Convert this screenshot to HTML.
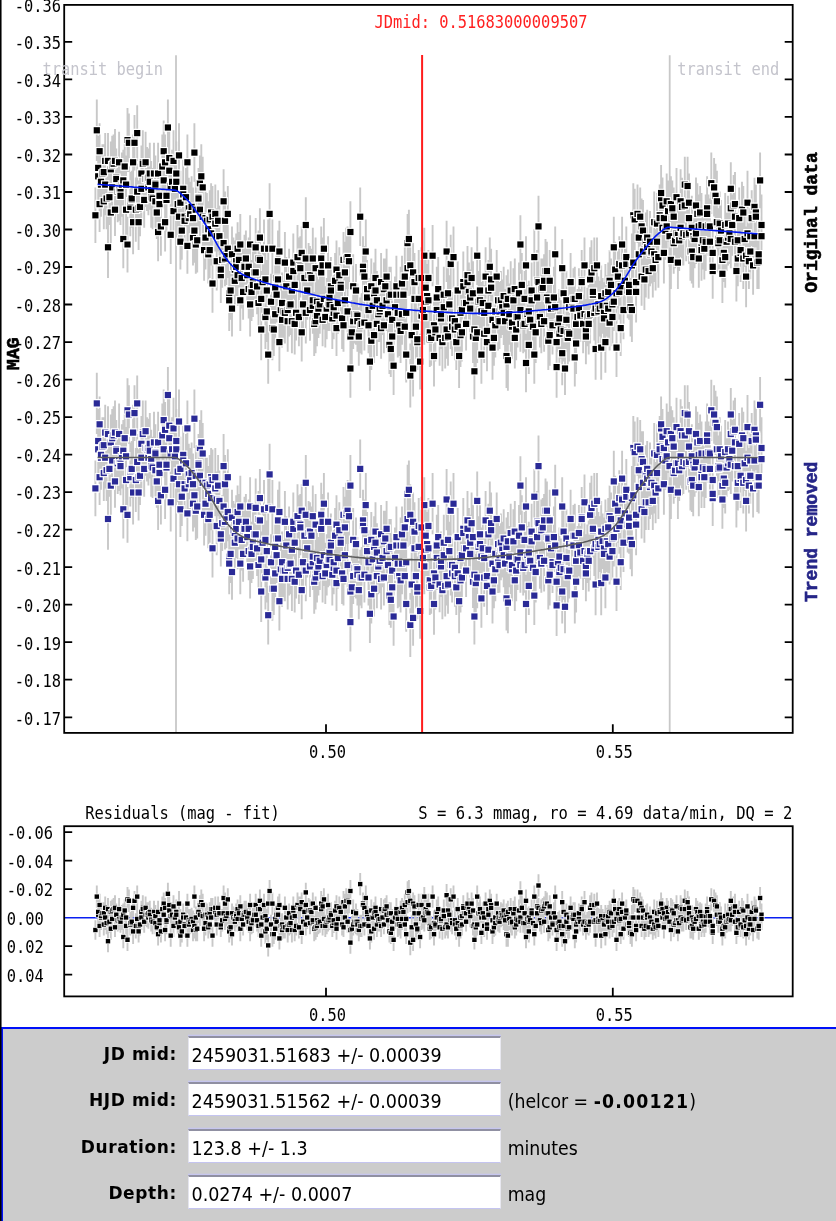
<!DOCTYPE html><html><head><meta charset="utf-8"><style>*{margin:0;padding:0;box-sizing:border-box}
html,body{width:836px;height:1221px;overflow:hidden;background:#fff}
body{position:relative}
#lline{position:absolute;left:0;top:0;width:1px;height:1221px;background:#000;box-shadow:1px 0 0 rgba(0,0,0,.55)}
#panel{position:absolute;left:1px;top:1026.7px;width:835px;height:200px;background:#ccc;border-top:2.3px solid #0010f8;border-left:2px solid #0010f8}
.lb{position:absolute;right:659.2px;height:20px;line-height:20px;font:bold 17px "DejaVu Sans",sans-serif;letter-spacing:0.6px;color:#000;white-space:nowrap}
.in{position:absolute;left:187.7px;width:313.5px;height:33.5px;background:#fff;border-top:2px solid #9090a2;border-left:1px solid #e4e4ee;border-bottom:1.3px solid #c4c4f0;border-right:1px solid #e8e8f0;box-shadow:0 -1.3px 0 #c6c6ee;padding-left:2.8px;padding-top:6.2px;line-height:20px;font:19.5px "DejaVu Sans Condensed",sans-serif;color:#000;white-space:nowrap}
.af{position:absolute;left:507.7px;height:20px;line-height:20px;font:19.25px "DejaVu Sans Condensed",sans-serif;color:#000;white-space:nowrap}
.af b{letter-spacing:1.2px}
</style></head><body><svg width="836" height="1027" viewBox="0 0 836 1027" style="position:absolute;left:0;top:0"><style>.e{stroke:#c8c8c8;stroke-width:1.9;fill:none}.k,.n,.r{stroke:#fff;stroke-width:2.4;paint-order:stroke}.r{stroke-width:1.4}.k,.r{fill:#000}.n{fill:#2a2a96}.t{font-family:"DejaVu Sans Mono",monospace;font-size:15.4px}.b{font-family:"Liberation Mono",monospace;font-size:18px;font-weight:bold;stroke-width:0.6px}</style><path d="M176 55.2V732.9 M669.7 55.2V732.9" stroke="#c8c8c8" stroke-width="1.8"/><g><path class="e" d="M95.4 187.4v55.7M96.8 99.6v61.3M98.2 145.6v61.3M98.2 135.9v64.1M99.6 176.3v55.7M99.6 123.3v55.7M101 152.6v64.1M101 151.2v61.3M102.4 144.2v58.5M103.8 144.2v55.7M103.8 173.5v55.7M105.2 154v61.3M105.2 133.1v55.7M106.6 167.9v61.3M108 216.7v61.3M108 133.1v55.7M109.4 169.3v55.7M110.8 181.8v61.3M110.8 141.4v55.7M112.2 135.8v58.5M112.2 158.1v58.5M113.6 134.5v58.5M115 128.9v64.1M115 183.2v52.9M116.3 148.4v58.5M116.3 149.8v58.5M117.7 160.9v61.3M119.1 131.7v61.3M119.1 159.5v61.3M120.5 160.9v61.3M120.5 166.5v58.5M121.9 152.6v64.1M123.3 149.8v61.3M123.3 209.7v58.5M124.7 137.2v58.5M126.1 155.4v58.5M126.1 179v61.3M127.5 108v64.1M127.5 216.7v55.7M128.9 113.6v58.5M130.3 177.7v58.5M130.3 172.1v58.5M131.7 172.1v55.7M131.7 170.7v55.7M133.1 190.2v64.1M133.1 134.5v55.7M134.5 114.9v55.7M135.8 177.6v64.1M137.2 105.2v55.7M137.2 163.7v55.7M138.6 180.4v55.7M138.6 194.4v55.7M140 177.7v58.5M141.4 156.8v64.1M141.4 145.6v55.7M142.8 130.3v64.1M142.8 134.5v58.5M144.2 172.1v55.7M145.6 151.2v55.7M145.6 131.7v61.3M147 147v64.1M148.4 159.5v55.7M148.4 148.4v58.5M149.8 142.8v61.3M149.8 154v55.7M151.2 160.9v58.5M151.2 166.5v61.3M152.6 167.9v61.3M154 142.8v61.3M155.4 155.4v55.7M155.4 156.8v55.7M155.4 173.5v55.7M156.8 186v52.9M158.1 202.7v58.5M158.1 142.8v61.3M159.5 173.5v61.3M159.5 165.1v61.3M160.9 197.2v58.5M162.3 134.5v64.1M163.7 152.6v55.7M163.7 120.5v61.3M165.1 134.5v55.7M165.1 193v58.5M166.5 167.9v64.1M166.5 167.9v55.7M167.9 99.6v55.7M169.3 127.5v61.3M169.3 140v61.3M170.7 154v64.1M170.7 205.5v58.5M172.1 149.8v64.1M173.5 130.3v61.3M173.5 183.2v55.7M174.9 158.1v61.3M176.3 141.4v64.1M176.3 154v55.7M177.7 173.5v61.3M179 123.3v64.1M179 187.4v58.5M180.4 213.9v55.7M180.4 170.7v64.1M181.8 201.3v58.5M183.2 159.5v58.5M183.2 166.5v55.7M184.6 186v61.3M184.6 191.6v58.5M186 167.9v58.5M187.4 134.5v55.7M187.4 218.1v55.7M188.8 187.4v61.3M188.8 177.7v61.3M190.2 181.8v64.1M191.6 176.3v61.3M193 187.4v61.3M193 209.7v55.7M194.4 123.3v58.5M194.4 198.6v64.1M195.8 215.3v58.5M195.8 179v61.3M197.2 208.3v64.1M198.5 167.9v58.5M198.5 167.9v61.3M199.9 179v61.3M199.9 155.4v55.7M201.3 144.2v64.1M202.7 156.8v61.3M202.7 184.6v64.1M204.1 219.4v61.3M205.5 205.5v64.1M205.5 186v64.1M206.9 193v55.7M208.3 201.3v55.7M208.3 225v58.5M209.7 190.2v58.5M209.7 222.2v55.7M211.1 201.3v64.1M211.1 183.2v58.5M212.5 186v61.3M212.5 254.3v58.5M215.3 195.8v55.7M215.3 184.6v58.5M216.7 208.3v55.7M216.7 232v58.5M218.1 190.2v61.3M219.4 208.3v55.7M219.4 205.5v61.3M220.8 247.3v55.7M220.8 239v61.3M222.2 232v55.7M223.6 212.5v61.3M223.6 169.3v64.1M225 230.6v55.7M225 191.6v58.5M226.4 223.6v61.3M227.8 186v55.7M227.8 219.5v58.5M229.2 264v58.5M229.2 269.6v61.3M230.6 261.2v58.5M232 280.8v55.7M232 226.4v55.7M233.4 237.6v58.5M234.8 252.9v55.7M234.8 240.4v58.5M236.2 233.4v55.7M236.2 237.6v58.5M237.6 222.2v52.9M237.6 244.5v61.3M239 232v55.7M240.3 269.6v61.3M240.3 213.9v61.3M241.7 247.3v61.3M243.1 264v55.7M243.1 240.3v55.7M244.5 234.8v61.3M244.5 240.3v52.9M245.9 230.6v55.7M247.3 243.1v64.1M248.7 237.6v58.5M248.7 259.9v58.5M250.1 215.3v58.5M250.1 272.4v64.1M251.5 259.9v55.7M251.5 262.6v58.5M252.9 251.5v61.3M252.9 252.9v64.1M254.3 244.5v55.7M255.7 218.1v58.5M255.7 240.3v64.1M257.1 258.5v55.7M258.5 273.8v58.5M258.5 230.6v55.7M259.9 208.3v58.5M259.9 230.6v58.5M261.2 271v55.7M261.2 298.9v61.3M262.6 250.1v64.1M264 219.5v58.5M265.4 284.9v64.1M265.4 248.7v61.3M266.8 280.8v61.3M266.8 259.9v61.3M268.2 325.3v58.5M268.2 219.5v58.5M269.6 183.2v61.3M271 273.8v55.7M272.4 296.1v64.1M272.4 219.5v58.5M273.8 303v52.9M275.2 284.9v58.5M275.2 258.5v58.5M276.6 266.8v55.7M276.6 250.1v55.7M278 251.5v55.7M278 230.6v61.3M279.4 220.8v61.3M279.4 312.8v58.5M280.8 280.8v58.5M282.1 272.4v61.3M282.1 291.9v55.7M283.5 280.8v61.3M284.9 232v61.3M284.9 282.2v61.3M286.3 257.1v58.5M287.7 280.8v58.5M287.7 290.5v61.3M289.1 275.2v61.3M289.1 248.7v55.7M290.5 273.8v61.3M291.9 289.1v64.1M291.9 258.5v64.1M293.3 243.1v55.7M293.3 233.4v58.5M294.7 293.3v61.3M294.7 257.1v55.7M296.1 284.9v55.7M297.5 225v64.1M298.9 237.6v55.7M298.9 287.7v58.5M300.3 236.2v61.3M300.3 240.3v55.7M301.7 303.1v58.5M301.7 226.4v52.9M303.1 276.6v55.7M304.4 251.5v52.9M305.8 197.2v55.7M305.8 229.2v58.5M305.8 282.2v61.3M307.2 261.2v58.5M308.6 243.1v64.1M310 245.9v58.5M310 279.4v61.3M311.4 248.7v58.5M312.8 278v55.7M312.8 272.4v55.7M312.8 227.8v61.3M314.2 291.9v64.1M315.6 237.6v61.3M315.6 289.1v64.1M317 272.4v58.5M317 284.9v61.3M318.4 279.4v58.5M319.8 275.2v58.5M321.2 226.4v64.1M321.2 241.7v61.3M322.6 293.3v52.9M322.6 237.6v55.7M323.9 268.2v61.3M323.9 218.1v61.3M325.3 286.3v61.3M326.7 278v61.3M328.1 236.2v58.5M328.1 275.2v55.7M329.5 278v52.9M329.5 269.6v55.7M330.9 257.1v58.5M330.9 262.6v55.7M332.3 287.7v61.3M333.7 286.3v52.9M333.7 275.2v64.1M335.1 252.9v55.7M336.5 286.3v58.5M336.5 240.4v58.5M336.5 300.3v55.7M337.9 272.4v61.3M339.3 247.3v55.7M340.7 255.7v58.5M340.7 258.5v58.5M342.1 287.7v61.3M343.5 232v55.7M343.5 298.9v52.9M344.9 241.7v61.3M344.9 271v58.5M346.2 227.8v61.3M347.6 226.4v61.3M347.6 282.1v58.5M349 233.4v55.7M350.4 339.3v58.5M350.4 201.3v61.3M350.4 307.2v58.5M351.8 300.3v64.1M353.2 293.3v55.7M353.2 254.3v64.1M354.6 284.9v58.5M356 264v52.9M356 283.5v61.3M357.4 283.5v64.1M357.4 290.5v61.3M358.8 307.2v58.5M360.2 297.5v55.7M360.2 187.4v58.5M361.6 293.3v61.3M363 236.2v61.3M363 241.7v61.3M364.4 245.9v61.3M364.4 294.7v55.7M365.8 219.4v64.1M367.1 268.2v58.5M367.1 259.9v58.5M368.5 297.5v55.7M368.5 278v64.1M369.9 332.3v58.5M371.3 311.4v58.5M371.3 258.5v55.7M372.7 273.8v64.1M374.1 262.6v61.3M374.1 307.2v55.7M375.5 248.7v58.5M375.5 261.2v58.5M376.9 291.9v64.1M376.9 271v58.5M378.3 286.3v55.7M379.7 280.8v61.3M379.7 279.4v58.5M381.1 252.9v58.5M381.1 297.5v61.3M382.5 276.6v58.5M383.9 297.5v55.7M383.9 258.5v61.3M385.3 258.5v55.7M386.6 269.6v61.3M386.6 248.7v55.7M388 282.1v64.1M389.4 315.6v58.5M389.4 266.8v58.5M390.8 266.8v55.7M390.8 321.2v55.7M392.2 307.2v58.5M392.2 287.7v64.1M393.6 336.5v58.5M395 276.6v61.3M396.4 255.7v61.3M396.4 265.4v58.5M397.8 282.2v61.3M397.8 293.3v64.1M399.2 294.7v61.3M400.6 266.8v55.7M400.6 298.9v64.1M402 283.5v61.3M402 255.7v55.7M403.4 264v61.3M404.8 296.1v61.3M404.8 245.9v61.3M406.2 280.8v64.1M406.2 326.7v55.7M407.6 240.3v55.7M407.6 213.9v58.5M408.9 209.7v58.5M410.3 234.8v61.3M410.3 343.5v64.1M411.7 303v64.1M413.1 340.7v55.7M413.1 243.1v58.5M414.5 271v55.7M414.5 252.9v58.5M415.9 294.7v64.1M417.3 314.2v55.7M417.3 308.6v61.3M418.7 269.6v58.5M418.7 250.1v55.7M420.1 333.7v55.7M421.5 247.3v61.3M421.5 287.7v55.7M422.9 279.4v61.3M424.3 289.1v55.7M424.3 227.8v55.7M425.7 258.5v58.5M425.7 273.8v55.7M427.1 264v64.1M428.4 250.1v55.7M428.4 271v58.5M429.8 303.1v58.5M429.8 311.4v55.7M431.2 310v55.7M432.6 225v61.3M434 325.3v61.3M434 293.3v64.1M435.4 303.1v58.5M435.4 300.3v58.5M436.8 266.8v61.3M436.8 278v64.1M438.2 257.1v64.1M439.6 310v55.7M439.6 287.7v58.5M441 287.7v61.3M441 284.9v58.5M442.4 312.8v58.5M443.8 266.8v55.7M443.8 276.6v61.3M445.2 307.2v61.3M446.6 220.8v61.3M446.6 300.3v58.5M448 307.2v58.5M448 261.2v64.1M449.3 275.2v58.5M450.7 234.8v58.5M450.7 287.7v61.3M452.1 291.9v52.9M452.1 297.5v58.5M453.5 226.4v61.3M454.9 289.1v64.1M454.9 298.9v61.3M456.3 314.2v55.7M457.7 294.7v64.1M457.7 261.2v58.5M459.1 323.9v64.1M460.5 303v64.1M460.5 284.9v55.7M461.9 303.1v58.5M461.9 280.8v58.5M463.3 251.5v61.3M463.3 255.7v61.3M464.7 273.8v58.5M466.1 273.8v58.5M466.1 297.5v52.9M467.5 251.5v61.3M467.5 245.9v58.5M468.9 262.6v58.5M470.2 279.4v58.5M470.2 269.6v55.7M471.6 247.3v61.3M473 310v52.9M473 261.2v64.1M474.4 343.5v55.7M474.4 303v52.9M475.8 308.6v58.5M477.2 301.7v61.3M477.2 226.4v58.5M478.6 271v61.3M480 271v58.5M480 259.9v61.3M481.4 282.1v58.5M481.4 325.3v58.5M482.8 273.8v58.5M484.2 284.9v55.7M484.2 304.4v58.5M485.6 247.3v58.5M487 300.3v61.3M487 312.8v58.5M488.4 278v55.7M488.4 259.9v61.3M489.8 237.6v58.5M491.1 248.7v61.3M491.1 259.9v55.7M492.5 289.1v61.3M492.5 315.6v64.1M493.9 310v55.7M495.3 293.3v64.1M495.3 280.8v61.3M496.7 250.1v52.9M498.1 272.4v55.7M498.1 289.1v61.3M499.5 293.3v55.7M499.5 282.1v58.5M500.9 279.4v58.5M500.9 271v58.5M502.3 279.4v55.7M503.7 266.8v58.5M503.7 280.8v64.1M505.1 289.1v64.1M506.5 275.2v58.5M506.5 323.9v64.1M507.9 269.6v58.5M507.9 329.5v61.3M509.3 283.5v61.3M510.7 293.3v64.1M510.7 261.2v58.5M512 294.7v64.1M512 291.9v61.3M513.4 268.2v64.1M514.8 307.2v61.3M514.8 258.5v61.3M516.2 298.9v61.3M516.2 286.3v61.3M517.6 286.3v61.3M519 262.6v61.3M520.4 282.1v55.7M520.4 215.3v58.5M520.4 296.1v55.7M521.8 252.9v64.1M523.2 297.5v55.7M524.6 296.1v55.7M524.6 271v55.7M526 236.2v58.5M526 333.7v58.5M527.4 284.9v58.5M528.8 280.8v61.3M528.8 289.1v64.1M528.8 315.6v58.5M530.2 291.9v55.7M531.6 262.6v55.7M531.6 268.2v64.1M533 300.3v52.9M534.3 229.2v55.7M534.3 325.3v58.5M535.7 301.7v61.3M537.1 250.1v61.3M537.1 269.6v55.7M538.5 195.8v61.3M538.5 254.3v55.7M539.9 286.3v61.3M541.3 294.7v58.5M541.3 258.5v61.3M542.7 258.5v58.5M544.1 290.5v61.3M544.1 254.3v52.9M545.5 239v64.1M546.9 268.2v58.5M546.9 241.7v58.5M548.3 311.4v58.5M548.3 269.6v61.3M549.7 250.1v61.3M549.7 304.4v61.3M551.1 279.4v58.5M552.5 293.3v61.3M552.5 297.5v55.7M553.9 266.8v61.3M555.2 226.4v55.7M555.2 280.8v52.9M556.6 314.2v55.7M556.6 336.5v61.3M558 293.3v58.5M559.4 289.1v58.5M559.4 301.7v64.1M560.8 300.3v58.5M562.2 239v58.5M562.2 321.2v64.1M563.6 300.3v61.3M563.6 265.4v55.7M565 342.1v52.9M566.4 271v58.5M566.4 287.7v64.1M567.8 307.2v61.3M567.8 303.1v58.5M569.2 305.8v55.7M569.2 279.4v55.7M570.6 252.9v58.5M572 278v58.5M573.4 276.6v64.1M573.4 268.2v61.3M574.8 266.8v64.1M574.8 328.1v58.5M576.1 291.9v64.1M576.1 312.8v61.3M577.5 289.1v55.7M578.9 278v61.3M578.9 268.2v55.7M580.3 289.1v52.9M581.7 250.1v61.3M581.7 252.9v58.5M583.1 294.7v58.5M584.5 286.3v55.7M584.5 237.6v55.7M585.9 298.9v64.1M585.9 308.6v55.7M587.3 287.7v58.5M588.7 284.9v61.3M588.7 293.3v61.3M590.1 284.9v58.5M590.1 247.3v64.1M591.5 240.3v64.1M592.9 266.8v55.7M592.9 262.6v58.5M594.3 237.6v61.3M594.3 284.9v55.7M595.6 318.4v61.3M595.6 280.8v55.7M597 237.6v55.7M598.4 276.6v55.7M598.4 279.4v64.1M599.8 280.8v55.7M601.2 315.6v64.1M601.2 265.4v61.3M602.6 278v55.7M604 282.2v61.3M604 289.1v58.5M605.4 311.4v61.3M605.4 264v58.5M606.8 275.2v61.3M608.2 276.6v64.1M608.2 262.6v58.5M609.6 250.1v61.3M609.6 294.7v55.7M611 258.5v52.9M612.4 287.7v58.5M612.4 273.8v61.3M613.8 272.4v58.5M613.8 216.7v61.3M615.2 241.7v55.7M616.5 318.4v58.5M616.5 262.6v61.3M617.9 244.5v64.1M619.3 236.2v55.7M619.3 264v55.7M620.7 300.3v55.7M620.7 259.9v52.9M622.1 234.8v61.3M622.1 216.7v55.7M623.5 280.8v58.5M624.9 248.7v64.1M626.3 236.2v55.7M626.3 226.4v61.3M627.7 262.6v55.7M629.1 261.2v52.9M629.1 264v55.7M629.1 257.1v55.7M630.5 278v58.5M631.9 233.4v64.1M631.9 278v64.1M633.3 183.2v64.1M633.3 234.8v55.7M634.7 188.8v61.3M636.1 251.5v61.3M636.1 261.2v61.3M637.5 184.6v58.5M638.8 209.7v55.7M638.8 226.4v55.7M640.2 187.4v58.5M641.6 247.3v58.5M641.6 198.5v55.7M643 222.2v58.5M643 199.9v61.3M644.4 248.7v61.3M645.8 241.7v55.7M645.8 212.5v58.5M647.2 219.4v55.7M647.2 209.7v55.7M648.6 243.1v55.7M650 222.2v64.1M650 211.1v61.3M651.4 225v55.7M651.4 219.4v64.1M652.8 239v58.5M654.2 191.6v61.3M654.2 226.4v55.7M655.6 229.2v61.3M657 211.1v61.3M657 193v61.3M658.4 226.4v61.3M659.7 184.6v61.3M659.7 190.2v55.7M661.1 167.9v61.3M661.1 165.1v55.7M662.5 177.6v55.7M662.5 198.6v58.5M663.9 190.2v55.7M663.9 222.2v61.3M665.3 201.3v58.5M666.7 197.2v58.5M666.7 173.5v55.7M668.1 180.4v61.3M669.5 205.5v61.3M670.9 230.6v58.5M670.9 176.3v55.7M672.3 180.4v58.5M672.3 180.4v55.7M673.7 212.5v61.3M673.7 187.4v58.5M675.1 212.5v55.7M676.5 202.7v61.3M676.5 167.9v58.5M677.9 204.1v61.3M677.9 236.2v52.9M679.2 209.7v61.3M680.6 198.6v58.5M680.6 169.3v64.1M682 206.9v58.5M682 177.7v58.5M683.4 201.3v64.1M684.8 173.5v64.1M684.8 156.8v55.7M686.2 208.3v52.9M687.6 156.8v58.5M689 173.5v58.5M689 190.2v55.7M689 202.7v61.3M690.4 222.2v58.5M691.8 219.4v64.1M691.8 195.8v64.1M693.2 206.9v58.5M693.2 226.4v61.3M694.6 209.7v58.5M696 177.6v55.7M696 202.7v61.3M697.4 183.2v61.3M698.8 194.4v64.1M698.8 229.2v58.5M700.1 186v52.9M701.5 216.7v61.3M701.5 193v64.1M701.5 219.4v61.3M702.9 211.1v58.5M704.3 218.1v61.3M705.7 194.4v64.1M705.7 212.5v58.5M707.1 176.3v64.1M707.1 183.2v61.3M708.5 194.4v61.3M709.9 198.5v55.7M709.9 211.1v61.3M711.3 152.6v61.3M712.7 243.1v55.7M712.7 225v55.7M712.7 237.6v58.5M714.1 158.1v58.5M715.5 163.7v64.1M716.9 193v58.5M716.9 170.7v61.3M718.3 208.3v61.3M718.3 213.9v58.5M719.7 191.6v64.1M719.7 211.1v58.5M721 199.9v61.3M722.4 244.5v58.5M722.4 233.4v52.9M723.8 223.6v58.5M725.2 226.4v61.3M725.2 193v64.1M726.6 212.5v58.5M728 209.7v55.7M728 195.8v55.7M729.4 202.7v61.3M730.8 162.3v52.9M730.8 209.7v58.5M730.8 176.3v64.1M732.2 194.4v61.3M733.6 174.9v61.3M735 188.8v55.7M735 213.9v55.7M735 172.1v64.1M736.4 240.3v61.3M737.8 230.6v55.7M737.8 212.5v55.7M739.2 187.4v61.3M740.6 223.6v58.5M740.6 222.2v55.7M742 181.8v55.7M743.3 186v52.9M743.3 227.8v61.3M744.7 211.1v55.7M746.1 245.9v61.3M746.1 226.4v58.5M747.5 170.7v64.1M747.5 201.3v64.1M748.9 233.4v55.7M748.9 223.6v55.7M750.3 223.6v55.7M750.3 208.3v55.7M751.7 190.2v55.7M753.1 236.2v58.5M754.5 206.9v58.5M754.5 177.7v58.5M755.9 184.6v55.7M755.9 186v61.3M757.3 236.2v52.9M758.7 233.4v55.7M758.7 223.6v61.3M760.1 152.6v55.7M761.5 194.4v61.3M761.5 206.9v58.5"/><path class="k" d="M92.3 212.2h6.2v6.2h-6.2z"/><path class="k" d="M93.7 127.2h6.2v6.2h-6.2z"/><path class="k" d="M95.1 173.2h6.2v6.2h-6.2z"/><path class="k" d="M95.1 164.8h6.2v6.2h-6.2z"/><path class="k" d="M96.5 201h6.2v6.2h-6.2z"/><path class="k" d="M96.5 148.1h6.2v6.2h-6.2z"/><path class="k" d="M97.9 181.5h6.2v6.2h-6.2z"/><path class="k" d="M97.9 178.7h6.2v6.2h-6.2z"/><path class="k" d="M99.3 170.4h6.2v6.2h-6.2z"/><path class="k" d="M100.7 169h6.2v6.2h-6.2z"/><path class="k" d="M100.7 198.2h6.2v6.2h-6.2z"/><path class="k" d="M102.1 181.5h6.2v6.2h-6.2z"/><path class="k" d="M102.1 157.8h6.2v6.2h-6.2z"/><path class="k" d="M103.5 195.4h6.2v6.2h-6.2z"/><path class="k" d="M104.9 244.2h6.2v6.2h-6.2z"/><path class="k" d="M104.9 157.8h6.2v6.2h-6.2z"/><path class="k" d="M106.3 194.1h6.2v6.2h-6.2z"/><path class="k" d="M107.7 209.4h6.2v6.2h-6.2z"/><path class="k" d="M107.7 166.2h6.2v6.2h-6.2z"/><path class="k" d="M109.1 162h6.2v6.2h-6.2z"/><path class="k" d="M109.1 184.3h6.2v6.2h-6.2z"/><path class="k" d="M110.5 160.6h6.2v6.2h-6.2z"/><path class="k" d="M111.9 157.8h6.2v6.2h-6.2z"/><path class="k" d="M111.9 206.6h6.2v6.2h-6.2z"/><path class="k" d="M113.2 174.6h6.2v6.2h-6.2z"/><path class="k" d="M113.2 175.9h6.2v6.2h-6.2z"/><path class="k" d="M114.6 188.5h6.2v6.2h-6.2z"/><path class="k" d="M116 159.2h6.2v6.2h-6.2z"/><path class="k" d="M116 187.1h6.2v6.2h-6.2z"/><path class="k" d="M117.4 188.5h6.2v6.2h-6.2z"/><path class="k" d="M117.4 192.7h6.2v6.2h-6.2z"/><path class="k" d="M118.8 181.5h6.2v6.2h-6.2z"/><path class="k" d="M120.2 177.3h6.2v6.2h-6.2z"/><path class="k" d="M120.2 235.9h6.2v6.2h-6.2z"/><path class="k" d="M121.6 163.4h6.2v6.2h-6.2z"/><path class="k" d="M123 181.5h6.2v6.2h-6.2z"/><path class="k" d="M123 206.6h6.2v6.2h-6.2z"/><path class="k" d="M124.4 136.9h6.2v6.2h-6.2z"/><path class="k" d="M124.4 241.4h6.2v6.2h-6.2z"/><path class="k" d="M125.8 139.7h6.2v6.2h-6.2z"/><path class="k" d="M127.2 203.8h6.2v6.2h-6.2z"/><path class="k" d="M127.2 198.2h6.2v6.2h-6.2z"/><path class="k" d="M128.6 196.8h6.2v6.2h-6.2z"/><path class="k" d="M128.6 195.4h6.2v6.2h-6.2z"/><path class="k" d="M130 219.1h6.2v6.2h-6.2z"/><path class="k" d="M130 159.2h6.2v6.2h-6.2z"/><path class="k" d="M131.4 139.7h6.2v6.2h-6.2z"/><path class="k" d="M132.8 206.6h6.2v6.2h-6.2z"/><path class="k" d="M134.1 130h6.2v6.2h-6.2z"/><path class="k" d="M134.1 188.5h6.2v6.2h-6.2z"/><path class="k" d="M135.5 205.2h6.2v6.2h-6.2z"/><path class="k" d="M135.5 219.1h6.2v6.2h-6.2z"/><path class="k" d="M136.9 203.8h6.2v6.2h-6.2z"/><path class="k" d="M138.3 185.7h6.2v6.2h-6.2z"/><path class="k" d="M138.3 170.4h6.2v6.2h-6.2z"/><path class="k" d="M139.7 159.2h6.2v6.2h-6.2z"/><path class="k" d="M139.7 160.6h6.2v6.2h-6.2z"/><path class="k" d="M141.1 196.8h6.2v6.2h-6.2z"/><path class="k" d="M142.5 175.9h6.2v6.2h-6.2z"/><path class="k" d="M142.5 159.2h6.2v6.2h-6.2z"/><path class="k" d="M143.9 175.9h6.2v6.2h-6.2z"/><path class="k" d="M145.3 184.3h6.2v6.2h-6.2z"/><path class="k" d="M145.3 174.6h6.2v6.2h-6.2z"/><path class="k" d="M146.7 170.4h6.2v6.2h-6.2z"/><path class="k" d="M146.7 178.7h6.2v6.2h-6.2z"/><path class="k" d="M148.1 187.1h6.2v6.2h-6.2z"/><path class="k" d="M148.1 194.1h6.2v6.2h-6.2z"/><path class="k" d="M149.5 195.4h6.2v6.2h-6.2z"/><path class="k" d="M150.9 170.4h6.2v6.2h-6.2z"/><path class="k" d="M152.3 180.1h6.2v6.2h-6.2z"/><path class="k" d="M152.3 181.5h6.2v6.2h-6.2z"/><path class="k" d="M152.3 198.2h6.2v6.2h-6.2z"/><path class="k" d="M153.7 209.4h6.2v6.2h-6.2z"/><path class="k" d="M155 228.9h6.2v6.2h-6.2z"/><path class="k" d="M155 170.4h6.2v6.2h-6.2z"/><path class="k" d="M156.4 201h6.2v6.2h-6.2z"/><path class="k" d="M156.4 192.7h6.2v6.2h-6.2z"/><path class="k" d="M157.8 223.3h6.2v6.2h-6.2z"/><path class="k" d="M159.2 163.4h6.2v6.2h-6.2z"/><path class="k" d="M160.6 177.3h6.2v6.2h-6.2z"/><path class="k" d="M160.6 148.1h6.2v6.2h-6.2z"/><path class="k" d="M162 159.2h6.2v6.2h-6.2z"/><path class="k" d="M162 219.1h6.2v6.2h-6.2z"/><path class="k" d="M163.4 196.8h6.2v6.2h-6.2z"/><path class="k" d="M163.4 192.7h6.2v6.2h-6.2z"/><path class="k" d="M164.8 124.4h6.2v6.2h-6.2z"/><path class="k" d="M166.2 155h6.2v6.2h-6.2z"/><path class="k" d="M166.2 167.6h6.2v6.2h-6.2z"/><path class="k" d="M167.6 182.9h6.2v6.2h-6.2z"/><path class="k" d="M167.6 231.7h6.2v6.2h-6.2z"/><path class="k" d="M169 178.7h6.2v6.2h-6.2z"/><path class="k" d="M170.4 157.8h6.2v6.2h-6.2z"/><path class="k" d="M170.4 208h6.2v6.2h-6.2z"/><path class="k" d="M171.8 185.7h6.2v6.2h-6.2z"/><path class="k" d="M173.2 170.4h6.2v6.2h-6.2z"/><path class="k" d="M173.2 178.7h6.2v6.2h-6.2z"/><path class="k" d="M174.6 201h6.2v6.2h-6.2z"/><path class="k" d="M175.9 152.3h6.2v6.2h-6.2z"/><path class="k" d="M175.9 213.6h6.2v6.2h-6.2z"/><path class="k" d="M177.3 238.6h6.2v6.2h-6.2z"/><path class="k" d="M177.3 199.6h6.2v6.2h-6.2z"/><path class="k" d="M178.7 227.5h6.2v6.2h-6.2z"/><path class="k" d="M180.1 185.7h6.2v6.2h-6.2z"/><path class="k" d="M180.1 191.3h6.2v6.2h-6.2z"/><path class="k" d="M181.5 213.6h6.2v6.2h-6.2z"/><path class="k" d="M181.5 217.7h6.2v6.2h-6.2z"/><path class="k" d="M182.9 194.1h6.2v6.2h-6.2z"/><path class="k" d="M184.3 159.2h6.2v6.2h-6.2z"/><path class="k" d="M184.3 242.8h6.2v6.2h-6.2z"/><path class="k" d="M185.7 215h6.2v6.2h-6.2z"/><path class="k" d="M185.7 205.2h6.2v6.2h-6.2z"/><path class="k" d="M187.1 210.8h6.2v6.2h-6.2z"/><path class="k" d="M188.5 203.8h6.2v6.2h-6.2z"/><path class="k" d="M189.9 215h6.2v6.2h-6.2z"/><path class="k" d="M189.9 234.5h6.2v6.2h-6.2z"/><path class="k" d="M191.3 149.5h6.2v6.2h-6.2z"/><path class="k" d="M191.3 227.5h6.2v6.2h-6.2z"/><path class="k" d="M192.7 241.4h6.2v6.2h-6.2z"/><path class="k" d="M192.7 206.6h6.2v6.2h-6.2z"/><path class="k" d="M194.1 237.2h6.2v6.2h-6.2z"/><path class="k" d="M195.4 194.1h6.2v6.2h-6.2z"/><path class="k" d="M195.4 195.4h6.2v6.2h-6.2z"/><path class="k" d="M196.8 206.6h6.2v6.2h-6.2z"/><path class="k" d="M196.8 180.1h6.2v6.2h-6.2z"/><path class="k" d="M198.2 173.2h6.2v6.2h-6.2z"/><path class="k" d="M199.6 184.3h6.2v6.2h-6.2z"/><path class="k" d="M199.6 213.6h6.2v6.2h-6.2z"/><path class="k" d="M201 247h6.2v6.2h-6.2z"/><path class="k" d="M202.4 234.5h6.2v6.2h-6.2z"/><path class="k" d="M202.4 215h6.2v6.2h-6.2z"/><path class="k" d="M203.8 217.7h6.2v6.2h-6.2z"/><path class="k" d="M205.2 226.1h6.2v6.2h-6.2z"/><path class="k" d="M205.2 251.2h6.2v6.2h-6.2z"/><path class="k" d="M206.6 216.3h6.2v6.2h-6.2z"/><path class="k" d="M206.6 247h6.2v6.2h-6.2z"/><path class="k" d="M208 230.3h6.2v6.2h-6.2z"/><path class="k" d="M208 209.4h6.2v6.2h-6.2z"/><path class="k" d="M209.4 213.6h6.2v6.2h-6.2z"/><path class="k" d="M209.4 280.4h6.2v6.2h-6.2z"/><path class="k" d="M212.2 220.5h6.2v6.2h-6.2z"/><path class="k" d="M212.2 210.8h6.2v6.2h-6.2z"/><path class="k" d="M213.6 233.1h6.2v6.2h-6.2z"/><path class="k" d="M213.6 258.1h6.2v6.2h-6.2z"/><path class="k" d="M215 217.7h6.2v6.2h-6.2z"/><path class="k" d="M216.3 233.1h6.2v6.2h-6.2z"/><path class="k" d="M216.3 233.1h6.2v6.2h-6.2z"/><path class="k" d="M217.7 272.1h6.2v6.2h-6.2z"/><path class="k" d="M217.7 266.5h6.2v6.2h-6.2z"/><path class="k" d="M219.1 256.8h6.2v6.2h-6.2z"/><path class="k" d="M220.5 240h6.2v6.2h-6.2z"/><path class="k" d="M220.5 198.2h6.2v6.2h-6.2z"/><path class="k" d="M221.9 255.4h6.2v6.2h-6.2z"/><path class="k" d="M221.9 217.7h6.2v6.2h-6.2z"/><path class="k" d="M223.3 251.2h6.2v6.2h-6.2z"/><path class="k" d="M224.7 210.8h6.2v6.2h-6.2z"/><path class="k" d="M224.7 245.6h6.2v6.2h-6.2z"/><path class="k" d="M226.1 290.2h6.2v6.2h-6.2z"/><path class="k" d="M226.1 297.2h6.2v6.2h-6.2z"/><path class="k" d="M227.5 287.4h6.2v6.2h-6.2z"/><path class="k" d="M228.9 305.5h6.2v6.2h-6.2z"/><path class="k" d="M228.9 251.2h6.2v6.2h-6.2z"/><path class="k" d="M230.3 263.7h6.2v6.2h-6.2z"/><path class="k" d="M231.7 277.7h6.2v6.2h-6.2z"/><path class="k" d="M231.7 266.5h6.2v6.2h-6.2z"/><path class="k" d="M233.1 258.1h6.2v6.2h-6.2z"/><path class="k" d="M233.1 263.7h6.2v6.2h-6.2z"/><path class="k" d="M234.5 245.6h6.2v6.2h-6.2z"/><path class="k" d="M234.5 272.1h6.2v6.2h-6.2z"/><path class="k" d="M235.9 256.8h6.2v6.2h-6.2z"/><path class="k" d="M237.2 297.2h6.2v6.2h-6.2z"/><path class="k" d="M237.2 241.4h6.2v6.2h-6.2z"/><path class="k" d="M238.6 274.9h6.2v6.2h-6.2z"/><path class="k" d="M240 288.8h6.2v6.2h-6.2z"/><path class="k" d="M240 265.1h6.2v6.2h-6.2z"/><path class="k" d="M241.4 262.3h6.2v6.2h-6.2z"/><path class="k" d="M241.4 263.7h6.2v6.2h-6.2z"/><path class="k" d="M242.8 255.4h6.2v6.2h-6.2z"/><path class="k" d="M244.2 272.1h6.2v6.2h-6.2z"/><path class="k" d="M245.6 263.7h6.2v6.2h-6.2z"/><path class="k" d="M245.6 286h6.2v6.2h-6.2z"/><path class="k" d="M247 241.4h6.2v6.2h-6.2z"/><path class="k" d="M247 301.3h6.2v6.2h-6.2z"/><path class="k" d="M248.4 284.6h6.2v6.2h-6.2z"/><path class="k" d="M248.4 288.8h6.2v6.2h-6.2z"/><path class="k" d="M249.8 279h6.2v6.2h-6.2z"/><path class="k" d="M249.8 281.8h6.2v6.2h-6.2z"/><path class="k" d="M251.2 269.3h6.2v6.2h-6.2z"/><path class="k" d="M252.6 244.2h6.2v6.2h-6.2z"/><path class="k" d="M252.6 269.3h6.2v6.2h-6.2z"/><path class="k" d="M254 283.2h6.2v6.2h-6.2z"/><path class="k" d="M255.4 299.9h6.2v6.2h-6.2z"/><path class="k" d="M255.4 255.4h6.2v6.2h-6.2z"/><path class="k" d="M256.8 234.5h6.2v6.2h-6.2z"/><path class="k" d="M256.8 256.8h6.2v6.2h-6.2z"/><path class="k" d="M258.1 295.8h6.2v6.2h-6.2z"/><path class="k" d="M258.1 326.4h6.2v6.2h-6.2z"/><path class="k" d="M259.5 279h6.2v6.2h-6.2z"/><path class="k" d="M260.9 245.6h6.2v6.2h-6.2z"/><path class="k" d="M262.3 313.9h6.2v6.2h-6.2z"/><path class="k" d="M262.3 276.3h6.2v6.2h-6.2z"/><path class="k" d="M263.7 308.3h6.2v6.2h-6.2z"/><path class="k" d="M263.7 287.4h6.2v6.2h-6.2z"/><path class="k" d="M265.1 351.5h6.2v6.2h-6.2z"/><path class="k" d="M265.1 245.6h6.2v6.2h-6.2z"/><path class="k" d="M266.5 210.8h6.2v6.2h-6.2z"/><path class="k" d="M267.9 298.6h6.2v6.2h-6.2z"/><path class="k" d="M269.3 325h6.2v6.2h-6.2z"/><path class="k" d="M269.3 245.6h6.2v6.2h-6.2z"/><path class="k" d="M270.7 326.4h6.2v6.2h-6.2z"/><path class="k" d="M272.1 311.1h6.2v6.2h-6.2z"/><path class="k" d="M272.1 284.6h6.2v6.2h-6.2z"/><path class="k" d="M273.5 291.6h6.2v6.2h-6.2z"/><path class="k" d="M273.5 274.9h6.2v6.2h-6.2z"/><path class="k" d="M274.9 276.3h6.2v6.2h-6.2z"/><path class="k" d="M274.9 258.1h6.2v6.2h-6.2z"/><path class="k" d="M276.3 248.4h6.2v6.2h-6.2z"/><path class="k" d="M276.3 339h6.2v6.2h-6.2z"/><path class="k" d="M277.7 306.9h6.2v6.2h-6.2z"/><path class="k" d="M279 299.9h6.2v6.2h-6.2z"/><path class="k" d="M279 316.7h6.2v6.2h-6.2z"/><path class="k" d="M280.4 308.3h6.2v6.2h-6.2z"/><path class="k" d="M281.8 259.5h6.2v6.2h-6.2z"/><path class="k" d="M281.8 309.7h6.2v6.2h-6.2z"/><path class="k" d="M283.2 283.2h6.2v6.2h-6.2z"/><path class="k" d="M284.6 306.9h6.2v6.2h-6.2z"/><path class="k" d="M284.6 318.1h6.2v6.2h-6.2z"/><path class="k" d="M286 302.7h6.2v6.2h-6.2z"/><path class="k" d="M286 273.5h6.2v6.2h-6.2z"/><path class="k" d="M287.4 301.3h6.2v6.2h-6.2z"/><path class="k" d="M288.8 318.1h6.2v6.2h-6.2z"/><path class="k" d="M288.8 287.4h6.2v6.2h-6.2z"/><path class="k" d="M290.2 267.9h6.2v6.2h-6.2z"/><path class="k" d="M290.2 259.5h6.2v6.2h-6.2z"/><path class="k" d="M291.6 320.8h6.2v6.2h-6.2z"/><path class="k" d="M291.6 281.8h6.2v6.2h-6.2z"/><path class="k" d="M293 309.7h6.2v6.2h-6.2z"/><path class="k" d="M294.4 254h6.2v6.2h-6.2z"/><path class="k" d="M295.8 262.3h6.2v6.2h-6.2z"/><path class="k" d="M295.8 313.9h6.2v6.2h-6.2z"/><path class="k" d="M297.2 263.7h6.2v6.2h-6.2z"/><path class="k" d="M297.2 265.1h6.2v6.2h-6.2z"/><path class="k" d="M298.6 329.2h6.2v6.2h-6.2z"/><path class="k" d="M298.6 249.8h6.2v6.2h-6.2z"/><path class="k" d="M299.9 301.3h6.2v6.2h-6.2z"/><path class="k" d="M301.3 274.9h6.2v6.2h-6.2z"/><path class="k" d="M302.7 221.9h6.2v6.2h-6.2z"/><path class="k" d="M302.7 255.4h6.2v6.2h-6.2z"/><path class="k" d="M302.7 309.7h6.2v6.2h-6.2z"/><path class="k" d="M304.1 287.4h6.2v6.2h-6.2z"/><path class="k" d="M305.5 272.1h6.2v6.2h-6.2z"/><path class="k" d="M306.9 272.1h6.2v6.2h-6.2z"/><path class="k" d="M306.9 306.9h6.2v6.2h-6.2z"/><path class="k" d="M308.3 274.9h6.2v6.2h-6.2z"/><path class="k" d="M309.7 302.7h6.2v6.2h-6.2z"/><path class="k" d="M309.7 297.2h6.2v6.2h-6.2z"/><path class="k" d="M309.7 255.4h6.2v6.2h-6.2z"/><path class="k" d="M311.1 320.8h6.2v6.2h-6.2z"/><path class="k" d="M312.5 265.1h6.2v6.2h-6.2z"/><path class="k" d="M312.5 318.1h6.2v6.2h-6.2z"/><path class="k" d="M313.9 298.6h6.2v6.2h-6.2z"/><path class="k" d="M313.9 312.5h6.2v6.2h-6.2z"/><path class="k" d="M315.3 305.5h6.2v6.2h-6.2z"/><path class="k" d="M316.7 301.3h6.2v6.2h-6.2z"/><path class="k" d="M318.1 255.4h6.2v6.2h-6.2z"/><path class="k" d="M318.1 269.3h6.2v6.2h-6.2z"/><path class="k" d="M319.5 316.7h6.2v6.2h-6.2z"/><path class="k" d="M319.5 262.3h6.2v6.2h-6.2z"/><path class="k" d="M320.8 295.8h6.2v6.2h-6.2z"/><path class="k" d="M320.8 245.6h6.2v6.2h-6.2z"/><path class="k" d="M322.2 313.9h6.2v6.2h-6.2z"/><path class="k" d="M323.6 305.5h6.2v6.2h-6.2z"/><path class="k" d="M325 262.3h6.2v6.2h-6.2z"/><path class="k" d="M325 299.9h6.2v6.2h-6.2z"/><path class="k" d="M326.4 301.3h6.2v6.2h-6.2z"/><path class="k" d="M326.4 294.4h6.2v6.2h-6.2z"/><path class="k" d="M327.8 283.2h6.2v6.2h-6.2z"/><path class="k" d="M327.8 287.4h6.2v6.2h-6.2z"/><path class="k" d="M329.2 315.3h6.2v6.2h-6.2z"/><path class="k" d="M330.6 309.7h6.2v6.2h-6.2z"/><path class="k" d="M330.6 304.1h6.2v6.2h-6.2z"/><path class="k" d="M332 277.7h6.2v6.2h-6.2z"/><path class="k" d="M333.4 312.5h6.2v6.2h-6.2z"/><path class="k" d="M333.4 266.5h6.2v6.2h-6.2z"/><path class="k" d="M333.4 325h6.2v6.2h-6.2z"/><path class="k" d="M334.8 299.9h6.2v6.2h-6.2z"/><path class="k" d="M336.2 272.1h6.2v6.2h-6.2z"/><path class="k" d="M337.6 281.8h6.2v6.2h-6.2z"/><path class="k" d="M337.6 284.6h6.2v6.2h-6.2z"/><path class="k" d="M339 315.3h6.2v6.2h-6.2z"/><path class="k" d="M340.4 256.8h6.2v6.2h-6.2z"/><path class="k" d="M340.4 322.2h6.2v6.2h-6.2z"/><path class="k" d="M341.8 269.3h6.2v6.2h-6.2z"/><path class="k" d="M341.8 297.2h6.2v6.2h-6.2z"/><path class="k" d="M343.1 255.4h6.2v6.2h-6.2z"/><path class="k" d="M344.5 254h6.2v6.2h-6.2z"/><path class="k" d="M344.5 308.3h6.2v6.2h-6.2z"/><path class="k" d="M345.9 258.1h6.2v6.2h-6.2z"/><path class="k" d="M347.3 365.4h6.2v6.2h-6.2z"/><path class="k" d="M347.3 228.9h6.2v6.2h-6.2z"/><path class="k" d="M347.3 333.4h6.2v6.2h-6.2z"/><path class="k" d="M348.7 329.2h6.2v6.2h-6.2z"/><path class="k" d="M350.1 318.1h6.2v6.2h-6.2z"/><path class="k" d="M350.1 283.2h6.2v6.2h-6.2z"/><path class="k" d="M351.5 311.1h6.2v6.2h-6.2z"/><path class="k" d="M352.9 287.4h6.2v6.2h-6.2z"/><path class="k" d="M352.9 311.1h6.2v6.2h-6.2z"/><path class="k" d="M354.3 312.5h6.2v6.2h-6.2z"/><path class="k" d="M354.3 318.1h6.2v6.2h-6.2z"/><path class="k" d="M355.7 333.4h6.2v6.2h-6.2z"/><path class="k" d="M357.1 322.2h6.2v6.2h-6.2z"/><path class="k" d="M357.1 213.6h6.2v6.2h-6.2z"/><path class="k" d="M358.5 320.8h6.2v6.2h-6.2z"/><path class="k" d="M359.9 263.7h6.2v6.2h-6.2z"/><path class="k" d="M359.9 269.3h6.2v6.2h-6.2z"/><path class="k" d="M361.3 273.5h6.2v6.2h-6.2z"/><path class="k" d="M361.3 319.5h6.2v6.2h-6.2z"/><path class="k" d="M362.6 248.4h6.2v6.2h-6.2z"/><path class="k" d="M364 294.4h6.2v6.2h-6.2z"/><path class="k" d="M364 286h6.2v6.2h-6.2z"/><path class="k" d="M365.4 322.2h6.2v6.2h-6.2z"/><path class="k" d="M365.4 306.9h6.2v6.2h-6.2z"/><path class="k" d="M366.8 358.5h6.2v6.2h-6.2z"/><path class="k" d="M368.2 337.6h6.2v6.2h-6.2z"/><path class="k" d="M368.2 283.2h6.2v6.2h-6.2z"/><path class="k" d="M369.6 302.7h6.2v6.2h-6.2z"/><path class="k" d="M371 290.2h6.2v6.2h-6.2z"/><path class="k" d="M371 332h6.2v6.2h-6.2z"/><path class="k" d="M372.4 274.9h6.2v6.2h-6.2z"/><path class="k" d="M372.4 287.4h6.2v6.2h-6.2z"/><path class="k" d="M373.8 320.8h6.2v6.2h-6.2z"/><path class="k" d="M373.8 297.2h6.2v6.2h-6.2z"/><path class="k" d="M375.2 311.1h6.2v6.2h-6.2z"/><path class="k" d="M376.6 308.3h6.2v6.2h-6.2z"/><path class="k" d="M376.6 305.5h6.2v6.2h-6.2z"/><path class="k" d="M378 279h6.2v6.2h-6.2z"/><path class="k" d="M378 325h6.2v6.2h-6.2z"/><path class="k" d="M379.4 302.7h6.2v6.2h-6.2z"/><path class="k" d="M380.8 322.2h6.2v6.2h-6.2z"/><path class="k" d="M380.8 286h6.2v6.2h-6.2z"/><path class="k" d="M382.2 283.2h6.2v6.2h-6.2z"/><path class="k" d="M383.5 297.2h6.2v6.2h-6.2z"/><path class="k" d="M383.5 273.5h6.2v6.2h-6.2z"/><path class="k" d="M384.9 311.1h6.2v6.2h-6.2z"/><path class="k" d="M386.3 341.8h6.2v6.2h-6.2z"/><path class="k" d="M386.3 293h6.2v6.2h-6.2z"/><path class="k" d="M387.7 291.6h6.2v6.2h-6.2z"/><path class="k" d="M387.7 345.9h6.2v6.2h-6.2z"/><path class="k" d="M389.1 333.4h6.2v6.2h-6.2z"/><path class="k" d="M389.1 316.7h6.2v6.2h-6.2z"/><path class="k" d="M390.5 362.6h6.2v6.2h-6.2z"/><path class="k" d="M391.9 304.1h6.2v6.2h-6.2z"/><path class="k" d="M393.3 283.2h6.2v6.2h-6.2z"/><path class="k" d="M393.3 291.6h6.2v6.2h-6.2z"/><path class="k" d="M394.7 309.7h6.2v6.2h-6.2z"/><path class="k" d="M394.7 322.2h6.2v6.2h-6.2z"/><path class="k" d="M396.1 322.2h6.2v6.2h-6.2z"/><path class="k" d="M397.5 291.6h6.2v6.2h-6.2z"/><path class="k" d="M397.5 327.8h6.2v6.2h-6.2z"/><path class="k" d="M398.9 311.1h6.2v6.2h-6.2z"/><path class="k" d="M398.9 280.4h6.2v6.2h-6.2z"/><path class="k" d="M400.3 291.6h6.2v6.2h-6.2z"/><path class="k" d="M401.7 323.6h6.2v6.2h-6.2z"/><path class="k" d="M401.7 273.5h6.2v6.2h-6.2z"/><path class="k" d="M403.1 309.7h6.2v6.2h-6.2z"/><path class="k" d="M403.1 351.5h6.2v6.2h-6.2z"/><path class="k" d="M404.4 265.1h6.2v6.2h-6.2z"/><path class="k" d="M404.4 240h6.2v6.2h-6.2z"/><path class="k" d="M405.8 235.9h6.2v6.2h-6.2z"/><path class="k" d="M407.2 262.3h6.2v6.2h-6.2z"/><path class="k" d="M407.2 372.4h6.2v6.2h-6.2z"/><path class="k" d="M408.6 332h6.2v6.2h-6.2z"/><path class="k" d="M410 365.4h6.2v6.2h-6.2z"/><path class="k" d="M410 269.3h6.2v6.2h-6.2z"/><path class="k" d="M411.4 295.8h6.2v6.2h-6.2z"/><path class="k" d="M411.4 279h6.2v6.2h-6.2z"/><path class="k" d="M412.8 323.6h6.2v6.2h-6.2z"/><path class="k" d="M414.2 339h6.2v6.2h-6.2z"/><path class="k" d="M414.2 336.2h6.2v6.2h-6.2z"/><path class="k" d="M415.6 295.8h6.2v6.2h-6.2z"/><path class="k" d="M415.6 274.9h6.2v6.2h-6.2z"/><path class="k" d="M417 358.5h6.2v6.2h-6.2z"/><path class="k" d="M418.4 274.9h6.2v6.2h-6.2z"/><path class="k" d="M418.4 312.5h6.2v6.2h-6.2z"/><path class="k" d="M419.8 306.9h6.2v6.2h-6.2z"/><path class="k" d="M421.2 313.9h6.2v6.2h-6.2z"/><path class="k" d="M421.2 252.6h6.2v6.2h-6.2z"/><path class="k" d="M422.6 284.6h6.2v6.2h-6.2z"/><path class="k" d="M422.6 298.6h6.2v6.2h-6.2z"/><path class="k" d="M424 293h6.2v6.2h-6.2z"/><path class="k" d="M425.3 274.9h6.2v6.2h-6.2z"/><path class="k" d="M425.3 297.2h6.2v6.2h-6.2z"/><path class="k" d="M426.7 329.2h6.2v6.2h-6.2z"/><path class="k" d="M426.7 336.2h6.2v6.2h-6.2z"/><path class="k" d="M428.1 334.8h6.2v6.2h-6.2z"/><path class="k" d="M429.5 252.6h6.2v6.2h-6.2z"/><path class="k" d="M430.9 352.9h6.2v6.2h-6.2z"/><path class="k" d="M430.9 322.2h6.2v6.2h-6.2z"/><path class="k" d="M432.3 329.2h6.2v6.2h-6.2z"/><path class="k" d="M432.3 326.4h6.2v6.2h-6.2z"/><path class="k" d="M433.7 294.4h6.2v6.2h-6.2z"/><path class="k" d="M433.7 306.9h6.2v6.2h-6.2z"/><path class="k" d="M435.1 286h6.2v6.2h-6.2z"/><path class="k" d="M436.5 334.8h6.2v6.2h-6.2z"/><path class="k" d="M436.5 313.9h6.2v6.2h-6.2z"/><path class="k" d="M437.9 315.3h6.2v6.2h-6.2z"/><path class="k" d="M437.9 311.1h6.2v6.2h-6.2z"/><path class="k" d="M439.3 339h6.2v6.2h-6.2z"/><path class="k" d="M440.7 291.6h6.2v6.2h-6.2z"/><path class="k" d="M440.7 304.1h6.2v6.2h-6.2z"/><path class="k" d="M442.1 334.8h6.2v6.2h-6.2z"/><path class="k" d="M443.5 248.4h6.2v6.2h-6.2z"/><path class="k" d="M443.5 326.4h6.2v6.2h-6.2z"/><path class="k" d="M444.9 333.4h6.2v6.2h-6.2z"/><path class="k" d="M444.9 290.2h6.2v6.2h-6.2z"/><path class="k" d="M446.2 301.3h6.2v6.2h-6.2z"/><path class="k" d="M447.6 260.9h6.2v6.2h-6.2z"/><path class="k" d="M447.6 315.3h6.2v6.2h-6.2z"/><path class="k" d="M449 315.3h6.2v6.2h-6.2z"/><path class="k" d="M449 323.6h6.2v6.2h-6.2z"/><path class="k" d="M450.4 254h6.2v6.2h-6.2z"/><path class="k" d="M451.8 318.1h6.2v6.2h-6.2z"/><path class="k" d="M451.8 326.4h6.2v6.2h-6.2z"/><path class="k" d="M453.2 339h6.2v6.2h-6.2z"/><path class="k" d="M454.6 323.6h6.2v6.2h-6.2z"/><path class="k" d="M454.6 287.4h6.2v6.2h-6.2z"/><path class="k" d="M456 352.9h6.2v6.2h-6.2z"/><path class="k" d="M457.4 332h6.2v6.2h-6.2z"/><path class="k" d="M457.4 309.7h6.2v6.2h-6.2z"/><path class="k" d="M458.8 329.2h6.2v6.2h-6.2z"/><path class="k" d="M458.8 306.9h6.2v6.2h-6.2z"/><path class="k" d="M460.2 279h6.2v6.2h-6.2z"/><path class="k" d="M460.2 283.2h6.2v6.2h-6.2z"/><path class="k" d="M461.6 299.9h6.2v6.2h-6.2z"/><path class="k" d="M463 299.9h6.2v6.2h-6.2z"/><path class="k" d="M463 320.8h6.2v6.2h-6.2z"/><path class="k" d="M464.4 279h6.2v6.2h-6.2z"/><path class="k" d="M464.4 272.1h6.2v6.2h-6.2z"/><path class="k" d="M465.8 288.8h6.2v6.2h-6.2z"/><path class="k" d="M467.1 305.5h6.2v6.2h-6.2z"/><path class="k" d="M467.1 294.4h6.2v6.2h-6.2z"/><path class="k" d="M468.5 274.9h6.2v6.2h-6.2z"/><path class="k" d="M469.9 333.4h6.2v6.2h-6.2z"/><path class="k" d="M469.9 290.2h6.2v6.2h-6.2z"/><path class="k" d="M471.3 368.2h6.2v6.2h-6.2z"/><path class="k" d="M471.3 326.4h6.2v6.2h-6.2z"/><path class="k" d="M472.7 334.8h6.2v6.2h-6.2z"/><path class="k" d="M474.1 329.2h6.2v6.2h-6.2z"/><path class="k" d="M474.1 252.6h6.2v6.2h-6.2z"/><path class="k" d="M475.5 298.6h6.2v6.2h-6.2z"/><path class="k" d="M476.9 297.2h6.2v6.2h-6.2z"/><path class="k" d="M476.9 287.4h6.2v6.2h-6.2z"/><path class="k" d="M478.3 308.3h6.2v6.2h-6.2z"/><path class="k" d="M478.3 351.5h6.2v6.2h-6.2z"/><path class="k" d="M479.7 299.9h6.2v6.2h-6.2z"/><path class="k" d="M481.1 309.7h6.2v6.2h-6.2z"/><path class="k" d="M481.1 330.6h6.2v6.2h-6.2z"/><path class="k" d="M482.5 273.5h6.2v6.2h-6.2z"/><path class="k" d="M483.9 327.8h6.2v6.2h-6.2z"/><path class="k" d="M483.9 339h6.2v6.2h-6.2z"/><path class="k" d="M485.3 302.7h6.2v6.2h-6.2z"/><path class="k" d="M485.3 287.4h6.2v6.2h-6.2z"/><path class="k" d="M486.7 263.7h6.2v6.2h-6.2z"/><path class="k" d="M488 276.3h6.2v6.2h-6.2z"/><path class="k" d="M488 284.6h6.2v6.2h-6.2z"/><path class="k" d="M489.4 316.7h6.2v6.2h-6.2z"/><path class="k" d="M489.4 344.5h6.2v6.2h-6.2z"/><path class="k" d="M490.8 334.8h6.2v6.2h-6.2z"/><path class="k" d="M492.2 322.2h6.2v6.2h-6.2z"/><path class="k" d="M492.2 308.3h6.2v6.2h-6.2z"/><path class="k" d="M493.6 273.5h6.2v6.2h-6.2z"/><path class="k" d="M495 297.2h6.2v6.2h-6.2z"/><path class="k" d="M495 316.7h6.2v6.2h-6.2z"/><path class="k" d="M496.4 318.1h6.2v6.2h-6.2z"/><path class="k" d="M496.4 308.3h6.2v6.2h-6.2z"/><path class="k" d="M497.8 305.5h6.2v6.2h-6.2z"/><path class="k" d="M497.8 297.2h6.2v6.2h-6.2z"/><path class="k" d="M499.2 304.1h6.2v6.2h-6.2z"/><path class="k" d="M500.6 293h6.2v6.2h-6.2z"/><path class="k" d="M500.6 309.7h6.2v6.2h-6.2z"/><path class="k" d="M502 318.1h6.2v6.2h-6.2z"/><path class="k" d="M503.4 301.3h6.2v6.2h-6.2z"/><path class="k" d="M503.4 352.9h6.2v6.2h-6.2z"/><path class="k" d="M504.8 295.8h6.2v6.2h-6.2z"/><path class="k" d="M504.8 357.1h6.2v6.2h-6.2z"/><path class="k" d="M506.2 311.1h6.2v6.2h-6.2z"/><path class="k" d="M507.6 322.2h6.2v6.2h-6.2z"/><path class="k" d="M507.6 287.4h6.2v6.2h-6.2z"/><path class="k" d="M508.9 323.6h6.2v6.2h-6.2z"/><path class="k" d="M508.9 319.5h6.2v6.2h-6.2z"/><path class="k" d="M510.3 297.2h6.2v6.2h-6.2z"/><path class="k" d="M511.7 334.8h6.2v6.2h-6.2z"/><path class="k" d="M511.7 286h6.2v6.2h-6.2z"/><path class="k" d="M513.1 326.4h6.2v6.2h-6.2z"/><path class="k" d="M513.1 313.9h6.2v6.2h-6.2z"/><path class="k" d="M514.5 313.9h6.2v6.2h-6.2z"/><path class="k" d="M515.9 290.2h6.2v6.2h-6.2z"/><path class="k" d="M517.3 306.9h6.2v6.2h-6.2z"/><path class="k" d="M517.3 241.4h6.2v6.2h-6.2z"/><path class="k" d="M517.3 320.8h6.2v6.2h-6.2z"/><path class="k" d="M518.7 281.8h6.2v6.2h-6.2z"/><path class="k" d="M520.1 322.2h6.2v6.2h-6.2z"/><path class="k" d="M521.5 320.8h6.2v6.2h-6.2z"/><path class="k" d="M521.5 295.8h6.2v6.2h-6.2z"/><path class="k" d="M522.9 262.3h6.2v6.2h-6.2z"/><path class="k" d="M522.9 359.9h6.2v6.2h-6.2z"/><path class="k" d="M524.3 311.1h6.2v6.2h-6.2z"/><path class="k" d="M525.7 308.3h6.2v6.2h-6.2z"/><path class="k" d="M525.7 318.1h6.2v6.2h-6.2z"/><path class="k" d="M525.7 341.8h6.2v6.2h-6.2z"/><path class="k" d="M527.1 316.7h6.2v6.2h-6.2z"/><path class="k" d="M528.5 287.4h6.2v6.2h-6.2z"/><path class="k" d="M528.5 297.2h6.2v6.2h-6.2z"/><path class="k" d="M529.9 323.6h6.2v6.2h-6.2z"/><path class="k" d="M531.2 254h6.2v6.2h-6.2z"/><path class="k" d="M531.2 351.5h6.2v6.2h-6.2z"/><path class="k" d="M532.6 329.2h6.2v6.2h-6.2z"/><path class="k" d="M534 277.7h6.2v6.2h-6.2z"/><path class="k" d="M534 294.4h6.2v6.2h-6.2z"/><path class="k" d="M535.4 223.3h6.2v6.2h-6.2z"/><path class="k" d="M535.4 279h6.2v6.2h-6.2z"/><path class="k" d="M536.8 313.9h6.2v6.2h-6.2z"/><path class="k" d="M538.2 320.8h6.2v6.2h-6.2z"/><path class="k" d="M538.2 286h6.2v6.2h-6.2z"/><path class="k" d="M539.6 284.6h6.2v6.2h-6.2z"/><path class="k" d="M541 318.1h6.2v6.2h-6.2z"/><path class="k" d="M541 277.7h6.2v6.2h-6.2z"/><path class="k" d="M542.4 267.9h6.2v6.2h-6.2z"/><path class="k" d="M543.8 294.4h6.2v6.2h-6.2z"/><path class="k" d="M543.8 267.9h6.2v6.2h-6.2z"/><path class="k" d="M545.2 337.6h6.2v6.2h-6.2z"/><path class="k" d="M545.2 297.2h6.2v6.2h-6.2z"/><path class="k" d="M546.6 277.7h6.2v6.2h-6.2z"/><path class="k" d="M546.6 332h6.2v6.2h-6.2z"/><path class="k" d="M548 305.5h6.2v6.2h-6.2z"/><path class="k" d="M549.4 320.8h6.2v6.2h-6.2z"/><path class="k" d="M549.4 322.2h6.2v6.2h-6.2z"/><path class="k" d="M550.8 294.4h6.2v6.2h-6.2z"/><path class="k" d="M552.1 251.2h6.2v6.2h-6.2z"/><path class="k" d="M552.1 304.1h6.2v6.2h-6.2z"/><path class="k" d="M553.5 339h6.2v6.2h-6.2z"/><path class="k" d="M553.5 364h6.2v6.2h-6.2z"/><path class="k" d="M554.9 319.5h6.2v6.2h-6.2z"/><path class="k" d="M556.3 315.3h6.2v6.2h-6.2z"/><path class="k" d="M556.3 330.6h6.2v6.2h-6.2z"/><path class="k" d="M557.7 326.4h6.2v6.2h-6.2z"/><path class="k" d="M559.1 265.1h6.2v6.2h-6.2z"/><path class="k" d="M559.1 350.1h6.2v6.2h-6.2z"/><path class="k" d="M560.5 327.8h6.2v6.2h-6.2z"/><path class="k" d="M560.5 290.2h6.2v6.2h-6.2z"/><path class="k" d="M561.9 365.4h6.2v6.2h-6.2z"/><path class="k" d="M563.3 297.2h6.2v6.2h-6.2z"/><path class="k" d="M563.3 316.7h6.2v6.2h-6.2z"/><path class="k" d="M564.7 334.8h6.2v6.2h-6.2z"/><path class="k" d="M564.7 329.2h6.2v6.2h-6.2z"/><path class="k" d="M566.1 330.6h6.2v6.2h-6.2z"/><path class="k" d="M566.1 304.1h6.2v6.2h-6.2z"/><path class="k" d="M567.5 279h6.2v6.2h-6.2z"/><path class="k" d="M568.9 304.1h6.2v6.2h-6.2z"/><path class="k" d="M570.3 305.5h6.2v6.2h-6.2z"/><path class="k" d="M570.3 295.8h6.2v6.2h-6.2z"/><path class="k" d="M571.6 295.8h6.2v6.2h-6.2z"/><path class="k" d="M571.6 354.3h6.2v6.2h-6.2z"/><path class="k" d="M573 320.8h6.2v6.2h-6.2z"/><path class="k" d="M573 340.4h6.2v6.2h-6.2z"/><path class="k" d="M574.4 313.9h6.2v6.2h-6.2z"/><path class="k" d="M575.8 305.5h6.2v6.2h-6.2z"/><path class="k" d="M575.8 293h6.2v6.2h-6.2z"/><path class="k" d="M577.2 312.5h6.2v6.2h-6.2z"/><path class="k" d="M578.6 277.7h6.2v6.2h-6.2z"/><path class="k" d="M578.6 279h6.2v6.2h-6.2z"/><path class="k" d="M580 320.8h6.2v6.2h-6.2z"/><path class="k" d="M581.4 311.1h6.2v6.2h-6.2z"/><path class="k" d="M581.4 262.3h6.2v6.2h-6.2z"/><path class="k" d="M582.8 327.8h6.2v6.2h-6.2z"/><path class="k" d="M582.8 333.4h6.2v6.2h-6.2z"/><path class="k" d="M584.2 313.9h6.2v6.2h-6.2z"/><path class="k" d="M585.6 312.5h6.2v6.2h-6.2z"/><path class="k" d="M585.6 320.8h6.2v6.2h-6.2z"/><path class="k" d="M587 311.1h6.2v6.2h-6.2z"/><path class="k" d="M587 276.3h6.2v6.2h-6.2z"/><path class="k" d="M588.4 269.3h6.2v6.2h-6.2z"/><path class="k" d="M589.8 291.6h6.2v6.2h-6.2z"/><path class="k" d="M589.8 288.8h6.2v6.2h-6.2z"/><path class="k" d="M591.2 265.1h6.2v6.2h-6.2z"/><path class="k" d="M591.2 309.7h6.2v6.2h-6.2z"/><path class="k" d="M592.5 345.9h6.2v6.2h-6.2z"/><path class="k" d="M592.5 305.5h6.2v6.2h-6.2z"/><path class="k" d="M593.9 262.3h6.2v6.2h-6.2z"/><path class="k" d="M595.3 301.3h6.2v6.2h-6.2z"/><path class="k" d="M595.3 308.3h6.2v6.2h-6.2z"/><path class="k" d="M596.7 305.5h6.2v6.2h-6.2z"/><path class="k" d="M598.1 344.5h6.2v6.2h-6.2z"/><path class="k" d="M598.1 293h6.2v6.2h-6.2z"/><path class="k" d="M599.5 302.7h6.2v6.2h-6.2z"/><path class="k" d="M600.9 309.7h6.2v6.2h-6.2z"/><path class="k" d="M600.9 315.3h6.2v6.2h-6.2z"/><path class="k" d="M602.3 339h6.2v6.2h-6.2z"/><path class="k" d="M602.3 290.2h6.2v6.2h-6.2z"/><path class="k" d="M603.7 302.7h6.2v6.2h-6.2z"/><path class="k" d="M605.1 305.5h6.2v6.2h-6.2z"/><path class="k" d="M605.1 288.8h6.2v6.2h-6.2z"/><path class="k" d="M606.5 277.7h6.2v6.2h-6.2z"/><path class="k" d="M606.5 319.5h6.2v6.2h-6.2z"/><path class="k" d="M607.9 281.8h6.2v6.2h-6.2z"/><path class="k" d="M609.3 313.9h6.2v6.2h-6.2z"/><path class="k" d="M609.3 301.3h6.2v6.2h-6.2z"/><path class="k" d="M610.7 298.6h6.2v6.2h-6.2z"/><path class="k" d="M610.7 244.2h6.2v6.2h-6.2z"/><path class="k" d="M612.1 266.5h6.2v6.2h-6.2z"/><path class="k" d="M613.4 344.5h6.2v6.2h-6.2z"/><path class="k" d="M613.4 290.2h6.2v6.2h-6.2z"/><path class="k" d="M614.8 273.5h6.2v6.2h-6.2z"/><path class="k" d="M616.2 260.9h6.2v6.2h-6.2z"/><path class="k" d="M616.2 288.8h6.2v6.2h-6.2z"/><path class="k" d="M617.6 325h6.2v6.2h-6.2z"/><path class="k" d="M617.6 283.2h6.2v6.2h-6.2z"/><path class="k" d="M619 262.3h6.2v6.2h-6.2z"/><path class="k" d="M619 241.4h6.2v6.2h-6.2z"/><path class="k" d="M620.4 306.9h6.2v6.2h-6.2z"/><path class="k" d="M621.8 277.7h6.2v6.2h-6.2z"/><path class="k" d="M623.2 260.9h6.2v6.2h-6.2z"/><path class="k" d="M623.2 254h6.2v6.2h-6.2z"/><path class="k" d="M624.6 287.4h6.2v6.2h-6.2z"/><path class="k" d="M626 284.6h6.2v6.2h-6.2z"/><path class="k" d="M626 288.8h6.2v6.2h-6.2z"/><path class="k" d="M626 281.8h6.2v6.2h-6.2z"/><path class="k" d="M627.4 304.1h6.2v6.2h-6.2z"/><path class="k" d="M628.8 262.3h6.2v6.2h-6.2z"/><path class="k" d="M628.8 306.9h6.2v6.2h-6.2z"/><path class="k" d="M630.2 212.2h6.2v6.2h-6.2z"/><path class="k" d="M630.2 259.5h6.2v6.2h-6.2z"/><path class="k" d="M631.6 216.3h6.2v6.2h-6.2z"/><path class="k" d="M633 279h6.2v6.2h-6.2z"/><path class="k" d="M633 288.8h6.2v6.2h-6.2z"/><path class="k" d="M634.4 210.8h6.2v6.2h-6.2z"/><path class="k" d="M635.7 234.5h6.2v6.2h-6.2z"/><path class="k" d="M635.7 251.2h6.2v6.2h-6.2z"/><path class="k" d="M637.1 213.6h6.2v6.2h-6.2z"/><path class="k" d="M638.5 273.5h6.2v6.2h-6.2z"/><path class="k" d="M638.5 223.3h6.2v6.2h-6.2z"/><path class="k" d="M639.9 248.4h6.2v6.2h-6.2z"/><path class="k" d="M639.9 227.5h6.2v6.2h-6.2z"/><path class="k" d="M641.3 276.3h6.2v6.2h-6.2z"/><path class="k" d="M642.7 266.5h6.2v6.2h-6.2z"/><path class="k" d="M642.7 238.6h6.2v6.2h-6.2z"/><path class="k" d="M644.1 244.2h6.2v6.2h-6.2z"/><path class="k" d="M644.1 234.5h6.2v6.2h-6.2z"/><path class="k" d="M645.5 267.9h6.2v6.2h-6.2z"/><path class="k" d="M646.9 251.2h6.2v6.2h-6.2z"/><path class="k" d="M646.9 238.6h6.2v6.2h-6.2z"/><path class="k" d="M648.3 249.8h6.2v6.2h-6.2z"/><path class="k" d="M648.3 248.4h6.2v6.2h-6.2z"/><path class="k" d="M649.7 265.1h6.2v6.2h-6.2z"/><path class="k" d="M651.1 219.1h6.2v6.2h-6.2z"/><path class="k" d="M651.1 251.2h6.2v6.2h-6.2z"/><path class="k" d="M652.5 256.8h6.2v6.2h-6.2z"/><path class="k" d="M653.9 238.6h6.2v6.2h-6.2z"/><path class="k" d="M653.9 220.5h6.2v6.2h-6.2z"/><path class="k" d="M655.2 254h6.2v6.2h-6.2z"/><path class="k" d="M656.6 212.2h6.2v6.2h-6.2z"/><path class="k" d="M656.6 215h6.2v6.2h-6.2z"/><path class="k" d="M658 195.4h6.2v6.2h-6.2z"/><path class="k" d="M658 189.9h6.2v6.2h-6.2z"/><path class="k" d="M659.4 202.4h6.2v6.2h-6.2z"/><path class="k" d="M659.4 224.7h6.2v6.2h-6.2z"/><path class="k" d="M660.8 215h6.2v6.2h-6.2z"/><path class="k" d="M660.8 249.8h6.2v6.2h-6.2z"/><path class="k" d="M662.2 227.5h6.2v6.2h-6.2z"/><path class="k" d="M663.6 223.3h6.2v6.2h-6.2z"/><path class="k" d="M663.6 198.2h6.2v6.2h-6.2z"/><path class="k" d="M665 208h6.2v6.2h-6.2z"/><path class="k" d="M666.4 233.1h6.2v6.2h-6.2z"/><path class="k" d="M667.8 256.8h6.2v6.2h-6.2z"/><path class="k" d="M667.8 201h6.2v6.2h-6.2z"/><path class="k" d="M669.2 206.6h6.2v6.2h-6.2z"/><path class="k" d="M669.2 205.2h6.2v6.2h-6.2z"/><path class="k" d="M670.6 240h6.2v6.2h-6.2z"/><path class="k" d="M670.6 213.6h6.2v6.2h-6.2z"/><path class="k" d="M672 237.2h6.2v6.2h-6.2z"/><path class="k" d="M673.4 230.3h6.2v6.2h-6.2z"/><path class="k" d="M673.4 194.1h6.2v6.2h-6.2z"/><path class="k" d="M674.8 231.7h6.2v6.2h-6.2z"/><path class="k" d="M674.8 259.5h6.2v6.2h-6.2z"/><path class="k" d="M676.1 237.2h6.2v6.2h-6.2z"/><path class="k" d="M677.5 224.7h6.2v6.2h-6.2z"/><path class="k" d="M677.5 198.2h6.2v6.2h-6.2z"/><path class="k" d="M678.9 233.1h6.2v6.2h-6.2z"/><path class="k" d="M678.9 203.8h6.2v6.2h-6.2z"/><path class="k" d="M680.3 230.3h6.2v6.2h-6.2z"/><path class="k" d="M681.7 202.4h6.2v6.2h-6.2z"/><path class="k" d="M681.7 181.5h6.2v6.2h-6.2z"/><path class="k" d="M683.1 231.7h6.2v6.2h-6.2z"/><path class="k" d="M684.5 182.9h6.2v6.2h-6.2z"/><path class="k" d="M685.9 199.6h6.2v6.2h-6.2z"/><path class="k" d="M685.9 215h6.2v6.2h-6.2z"/><path class="k" d="M685.9 230.3h6.2v6.2h-6.2z"/><path class="k" d="M687.3 248.4h6.2v6.2h-6.2z"/><path class="k" d="M688.7 248.4h6.2v6.2h-6.2z"/><path class="k" d="M688.7 224.7h6.2v6.2h-6.2z"/><path class="k" d="M690.1 233.1h6.2v6.2h-6.2z"/><path class="k" d="M690.1 254h6.2v6.2h-6.2z"/><path class="k" d="M691.5 235.9h6.2v6.2h-6.2z"/><path class="k" d="M692.9 202.4h6.2v6.2h-6.2z"/><path class="k" d="M692.9 230.3h6.2v6.2h-6.2z"/><path class="k" d="M694.3 210.8h6.2v6.2h-6.2z"/><path class="k" d="M695.7 223.3h6.2v6.2h-6.2z"/><path class="k" d="M695.7 255.4h6.2v6.2h-6.2z"/><path class="k" d="M697 209.4h6.2v6.2h-6.2z"/><path class="k" d="M698.4 244.2h6.2v6.2h-6.2z"/><path class="k" d="M698.4 221.9h6.2v6.2h-6.2z"/><path class="k" d="M698.4 247h6.2v6.2h-6.2z"/><path class="k" d="M699.8 237.2h6.2v6.2h-6.2z"/><path class="k" d="M701.2 245.6h6.2v6.2h-6.2z"/><path class="k" d="M702.6 223.3h6.2v6.2h-6.2z"/><path class="k" d="M702.6 238.6h6.2v6.2h-6.2z"/><path class="k" d="M704 205.2h6.2v6.2h-6.2z"/><path class="k" d="M704 210.8h6.2v6.2h-6.2z"/><path class="k" d="M705.4 221.9h6.2v6.2h-6.2z"/><path class="k" d="M706.8 223.3h6.2v6.2h-6.2z"/><path class="k" d="M706.8 238.6h6.2v6.2h-6.2z"/><path class="k" d="M708.2 180.1h6.2v6.2h-6.2z"/><path class="k" d="M709.6 267.9h6.2v6.2h-6.2z"/><path class="k" d="M709.6 249.8h6.2v6.2h-6.2z"/><path class="k" d="M709.6 263.7h6.2v6.2h-6.2z"/><path class="k" d="M711 184.3h6.2v6.2h-6.2z"/><path class="k" d="M712.4 192.7h6.2v6.2h-6.2z"/><path class="k" d="M713.8 219.1h6.2v6.2h-6.2z"/><path class="k" d="M713.8 198.2h6.2v6.2h-6.2z"/><path class="k" d="M715.2 235.9h6.2v6.2h-6.2z"/><path class="k" d="M715.2 240h6.2v6.2h-6.2z"/><path class="k" d="M716.6 220.5h6.2v6.2h-6.2z"/><path class="k" d="M716.6 237.2h6.2v6.2h-6.2z"/><path class="k" d="M717.9 227.5h6.2v6.2h-6.2z"/><path class="k" d="M719.3 270.7h6.2v6.2h-6.2z"/><path class="k" d="M719.3 256.8h6.2v6.2h-6.2z"/><path class="k" d="M720.7 249.8h6.2v6.2h-6.2z"/><path class="k" d="M722.1 254h6.2v6.2h-6.2z"/><path class="k" d="M722.1 221.9h6.2v6.2h-6.2z"/><path class="k" d="M723.5 238.6h6.2v6.2h-6.2z"/><path class="k" d="M724.9 234.5h6.2v6.2h-6.2z"/><path class="k" d="M724.9 220.5h6.2v6.2h-6.2z"/><path class="k" d="M726.3 230.3h6.2v6.2h-6.2z"/><path class="k" d="M727.7 185.7h6.2v6.2h-6.2z"/><path class="k" d="M727.7 235.9h6.2v6.2h-6.2z"/><path class="k" d="M727.7 205.2h6.2v6.2h-6.2z"/><path class="k" d="M729.1 221.9h6.2v6.2h-6.2z"/><path class="k" d="M730.5 202.4h6.2v6.2h-6.2z"/><path class="k" d="M731.9 213.6h6.2v6.2h-6.2z"/><path class="k" d="M731.9 238.6h6.2v6.2h-6.2z"/><path class="k" d="M731.9 201h6.2v6.2h-6.2z"/><path class="k" d="M733.3 267.9h6.2v6.2h-6.2z"/><path class="k" d="M734.7 255.4h6.2v6.2h-6.2z"/><path class="k" d="M734.7 237.2h6.2v6.2h-6.2z"/><path class="k" d="M736.1 215h6.2v6.2h-6.2z"/><path class="k" d="M737.5 249.8h6.2v6.2h-6.2z"/><path class="k" d="M737.5 247h6.2v6.2h-6.2z"/><path class="k" d="M738.9 206.6h6.2v6.2h-6.2z"/><path class="k" d="M740.2 209.4h6.2v6.2h-6.2z"/><path class="k" d="M740.2 255.4h6.2v6.2h-6.2z"/><path class="k" d="M741.6 235.9h6.2v6.2h-6.2z"/><path class="k" d="M743 273.5h6.2v6.2h-6.2z"/><path class="k" d="M743 252.6h6.2v6.2h-6.2z"/><path class="k" d="M744.4 199.6h6.2v6.2h-6.2z"/><path class="k" d="M744.4 230.3h6.2v6.2h-6.2z"/><path class="k" d="M745.8 258.1h6.2v6.2h-6.2z"/><path class="k" d="M745.8 248.4h6.2v6.2h-6.2z"/><path class="k" d="M747.2 248.4h6.2v6.2h-6.2z"/><path class="k" d="M747.2 233.1h6.2v6.2h-6.2z"/><path class="k" d="M748.6 215h6.2v6.2h-6.2z"/><path class="k" d="M750 262.3h6.2v6.2h-6.2z"/><path class="k" d="M751.4 233.1h6.2v6.2h-6.2z"/><path class="k" d="M751.4 203.8h6.2v6.2h-6.2z"/><path class="k" d="M752.8 209.4h6.2v6.2h-6.2z"/><path class="k" d="M752.8 213.6h6.2v6.2h-6.2z"/><path class="k" d="M754.2 259.5h6.2v6.2h-6.2z"/><path class="k" d="M755.6 258.1h6.2v6.2h-6.2z"/><path class="k" d="M755.6 251.2h6.2v6.2h-6.2z"/><path class="k" d="M757 177.3h6.2v6.2h-6.2z"/><path class="k" d="M758.4 221.9h6.2v6.2h-6.2z"/><path class="k" d="M758.4 233.1h6.2v6.2h-6.2z"/></g><g><path class="e" d="M95.4 460.5v55.7M96.8 372.7v61.3M98.2 418.7v61.3M98.2 408.9v64.1M99.6 449.3v55.7M99.6 396.4v55.7M101 425.7v64.1M101 424.3v61.3M102.4 417.3v58.5M103.8 417.3v55.7M103.8 445.2v55.7M105.2 427.1v61.3M105.2 404.8v55.7M106.6 439.6v61.3M108 488.4v61.3M108 406.2v55.7M109.4 441v55.7M110.8 454.9v61.3M110.8 414.5v55.7M112.2 408.9v58.5M112.2 431.2v58.5M113.6 406.2v58.5M115 400.6v64.1M115 454.9v52.9M116.3 420.1v58.5M116.3 421.5v58.5M117.7 432.6v61.3M119.1 403.4v61.3M119.1 429.8v61.3M120.5 432.6v61.3M120.5 436.8v58.5M121.9 424.3v64.1M123.3 420.1v61.3M123.3 480v58.5M124.7 408.9v58.5M126.1 427.1v58.5M126.1 449.4v61.3M127.5 378.3v64.1M127.5 487v55.7M128.9 385.3v58.5M130.3 448v58.5M130.3 442.4v58.5M131.7 442.4v55.7M131.7 441v55.7M133.1 460.5v64.1M133.1 404.8v55.7M134.5 385.3v55.7M135.8 448v64.1M137.2 375.5v55.7M137.2 434v55.7M138.6 449.3v55.7M138.6 464.7v55.7M140 446.6v58.5M141.4 425.7v64.1M141.4 415.9v55.7M142.8 400.6v64.1M142.8 404.8v58.5M144.2 441v55.7M145.6 420.1v55.7M145.6 400.6v61.3M147 417.3v64.1M148.4 429.8v55.7M148.4 418.7v58.5M149.8 413.1v61.3M149.8 422.9v55.7M151.2 429.8v58.5M151.2 435.4v61.3M152.6 436.8v61.3M154 411.7v61.3M155.4 424.3v55.7M155.4 425.7v55.7M155.4 442.4v55.7M156.8 454.9v52.9M158.1 471.6v58.5M158.1 411.7v61.3M159.5 442.4v61.3M159.5 434v61.3M160.9 466.1v58.5M162.3 403.4v64.1M163.7 421.5v55.7M163.7 389.4v61.3M165.1 402v55.7M165.1 460.5v58.5M166.5 435.4v64.1M166.5 436.8v55.7M167.9 367.1v55.7M169.3 395v61.3M169.3 407.6v61.3M170.7 421.5v64.1M170.7 473v58.5M172.1 417.3v64.1M173.5 397.8v61.3M173.5 450.7v55.7M174.9 425.7v61.3M176.3 408.9v64.1M176.3 421.5v55.7M177.7 441v61.3M179 389.4v64.1M179 454.9v58.5M180.4 481.4v55.7M180.4 436.8v64.1M181.8 467.5v58.5M183.2 425.7v58.5M183.2 432.6v55.7M184.6 453.5v61.3M184.6 459.1v58.5M186 434v58.5M187.4 400.6v55.7M187.4 485.6v55.7M188.8 453.5v61.3M188.8 443.8v61.3M190.2 448v64.1M191.6 442.4v61.3M193 453.5v61.3M193 475.8v55.7M194.4 389.4v58.5M194.4 463.3v64.1M195.8 481.4v58.5M195.8 445.2v61.3M197.2 474.4v64.1M198.5 434v58.5M198.5 434v61.3M199.9 445.2v61.3M199.9 420.1v55.7M201.3 410.3v64.1M202.7 422.9v61.3M202.7 450.7v64.1M204.1 484.2v61.3M205.5 471.6v64.1M205.5 450.7v64.1M206.9 457.7v55.7M208.3 466.1v55.7M208.3 489.8v58.5M209.7 454.9v58.5M209.7 487v55.7M211.1 466.1v64.1M211.1 448v58.5M212.5 449.4v61.3M212.5 519v58.5M215.3 460.5v55.7M215.3 448v58.5M216.7 471.6v55.7M216.7 496.7v58.5M218.1 454.9v61.3M219.4 473v55.7M219.4 470.2v61.3M220.8 510.7v55.7M220.8 503.7v61.3M222.2 495.3v55.7M223.6 475.8v61.3M223.6 434v64.1M225 493.9v55.7M225 454.9v58.5M226.4 487v61.3M227.8 449.3v55.7M227.8 482.8v58.5M229.2 527.4v58.5M229.2 533v61.3M230.6 524.6v58.5M232 544.1v55.7M232 489.8v55.7M233.4 500.9v58.5M234.8 514.8v55.7M234.8 503.7v58.5M236.2 495.3v55.7M236.2 499.5v58.5M237.6 485.6v52.9M237.6 507.9v61.3M239 493.9v55.7M240.3 533v61.3M240.3 475.8v61.3M241.7 509.3v61.3M243.1 526v55.7M243.1 502.3v55.7M244.5 496.7v61.3M244.5 502.3v52.9M245.9 493.9v55.7M247.3 505.1v64.1M248.7 499.5v58.5M248.7 521.8v58.5M250.1 477.2v58.5M250.1 534.3v64.1M251.5 521.8v55.7M251.5 524.6v58.5M252.9 512.1v61.3M252.9 514.8v64.1M254.3 506.5v55.7M255.7 478.6v58.5M255.7 502.3v64.1M257.1 520.4v55.7M258.5 535.7v58.5M258.5 491.1v55.7M259.9 468.9v58.5M259.9 491.1v58.5M261.2 531.6v55.7M261.2 560.8v61.3M262.6 510.7v64.1M264 480v58.5M265.4 545.5v64.1M265.4 509.3v61.3M266.8 541.3v61.3M266.8 520.4v61.3M268.2 585.9v58.5M268.2 478.6v58.5M269.6 443.8v61.3M271 534.3v55.7M272.4 556.6v64.1M272.4 480v58.5M273.8 562.2v52.9M275.2 544.1v58.5M275.2 517.6v58.5M276.6 527.4v55.7M276.6 510.7v55.7M278 510.7v55.7M278 489.8v61.3M279.4 481.4v61.3M279.4 572v58.5M280.8 539.9v58.5M282.1 531.6v61.3M282.1 551.1v55.7M283.5 539.9v61.3M284.9 491.1v61.3M284.9 539.9v61.3M286.3 516.2v58.5M287.7 538.5v58.5M287.7 548.3v61.3M289.1 534.3v61.3M289.1 506.5v55.7M290.5 533v61.3M291.9 546.9v64.1M291.9 517.6v64.1M293.3 500.9v55.7M293.3 492.5v58.5M294.7 551.1v61.3M294.7 514.8v55.7M296.1 542.7v55.7M297.5 484.2v64.1M298.9 495.3v55.7M298.9 545.5v58.5M300.3 493.9v61.3M300.3 499.5v55.7M301.7 560.8v58.5M301.7 484.2v52.9M303.1 534.3v55.7M304.4 509.3v52.9M305.8 454.9v55.7M305.8 485.6v58.5M305.8 539.9v61.3M307.2 519v58.5M308.6 500.9v64.1M310 502.3v58.5M310 535.7v61.3M311.4 506.5v58.5M312.8 534.3v55.7M312.8 528.8v55.7M312.8 485.6v61.3M314.2 549.7v64.1M315.6 493.9v61.3M315.6 545.5v64.1M317 528.8v58.5M317 541.3v61.3M318.4 537.1v58.5M319.8 531.6v58.5M321.2 482.8v64.1M321.2 498.1v61.3M322.6 549.7v52.9M322.6 493.9v55.7M323.9 524.6v61.3M323.9 473v61.3M325.3 542.7v61.3M326.7 534.3v61.3M328.1 492.5v58.5M328.1 531.6v55.7M329.5 532.9v52.9M329.5 524.6v55.7M330.9 513.4v58.5M330.9 517.6v55.7M332.3 544.1v61.3M333.7 541.3v52.9M333.7 530.2v64.1M335.1 507.9v55.7M336.5 541.3v58.5M336.5 495.3v58.5M336.5 555.2v55.7M337.9 527.4v61.3M339.3 502.3v55.7M340.7 510.7v58.5M340.7 513.4v58.5M342.1 542.7v61.3M343.5 487v55.7M343.5 552.5v52.9M344.9 496.7v61.3M344.9 526v58.5M346.2 482.8v61.3M347.6 480v61.3M347.6 535.7v58.5M349 488.4v55.7M350.4 592.9v58.5M350.4 454.9v61.3M350.4 562.2v58.5M351.8 555.2v64.1M353.2 548.3v55.7M353.2 507.9v64.1M354.6 538.5v58.5M356 517.6v52.9M356 537.1v61.3M357.4 537.1v64.1M357.4 544.1v61.3M358.8 560.8v58.5M360.2 549.7v55.7M360.2 439.6v58.5M361.6 546.9v61.3M363 489.8v61.3M363 495.3v61.3M364.4 499.5v61.3M364.4 546.9v55.7M365.8 473v64.1M367.1 521.8v58.5M367.1 512v58.5M368.5 549.7v55.7M368.5 530.2v64.1M369.9 584.5v58.5M371.3 565v58.5M371.3 512v55.7M372.7 527.4v64.1M374.1 516.2v61.3M374.1 560.8v55.7M375.5 502.3v58.5M375.5 513.4v58.5M376.9 544.1v64.1M376.9 523.2v58.5M378.3 538.5v55.7M379.7 531.6v61.3M379.7 531.6v58.5M381.1 505.1v58.5M381.1 548.3v61.3M382.5 528.8v58.5M383.9 549.7v55.7M383.9 510.7v61.3M385.3 510.7v55.7M386.6 520.4v61.3M386.6 500.9v55.7M388 533v64.1M389.4 566.4v58.5M389.4 519v58.5M390.8 519v55.7M390.8 572v55.7M392.2 558v58.5M392.2 538.5v64.1M393.6 587.3v58.5M395 527.4v61.3M396.4 506.5v61.3M396.4 516.2v58.5M397.8 533v61.3M397.8 544.1v64.1M399.2 545.5v61.3M400.6 517.6v55.7M400.6 548.3v64.1M402 533v61.3M402 506.5v55.7M403.4 514.8v61.3M404.8 545.5v61.3M404.8 496.7v61.3M406.2 530.2v64.1M406.2 576.1v55.7M407.6 491.1v55.7M407.6 464.7v58.5M408.9 460.5v58.5M410.3 484.2v61.3M410.3 592.9v64.1M411.7 552.5v64.1M413.1 590.1v55.7M413.1 492.5v58.5M414.5 520.4v55.7M414.5 502.3v58.5M415.9 544.1v64.1M417.3 563.6v55.7M417.3 556.6v61.3M418.7 517.6v58.5M418.7 498.1v55.7M420.1 583.1v55.7M421.5 496.7v61.3M421.5 537.1v55.7M422.9 527.4v61.3M424.3 538.5v55.7M424.3 477.2v55.7M425.7 506.5v58.5M425.7 521.8v55.7M427.1 512.1v64.1M428.4 498.1v55.7M428.4 519v58.5M429.8 551.1v58.5M429.8 559.4v55.7M431.2 558v55.7M432.6 473v61.3M434 573.4v61.3M434 541.3v64.1M435.4 551.1v58.5M435.4 548.3v58.5M436.8 514.8v61.3M436.8 526v64.1M438.2 505.1v64.1M439.6 556.6v55.7M439.6 535.7v58.5M441 535.7v61.3M441 531.6v58.5M442.4 560.8v58.5M443.8 514.8v55.7M443.8 524.6v61.3M445.2 555.2v61.3M446.6 468.9v61.3M446.6 546.9v58.5M448 555.2v58.5M448 507.9v64.1M449.3 521.8v58.5M450.7 481.4v58.5M450.7 534.3v61.3M452.1 538.5v52.9M452.1 544.1v58.5M453.5 473v61.3M454.9 535.7v64.1M454.9 545.5v61.3M456.3 559.4v55.7M457.7 541.3v64.1M457.7 507.9v58.5M459.1 569.2v64.1M460.5 548.3v64.1M460.5 530.2v55.7M461.9 548.3v58.5M461.9 526v58.5M463.3 498.1v61.3M463.3 502.3v61.3M464.7 519v58.5M466.1 519v58.5M466.1 544.1v52.9M467.5 498.1v61.3M467.5 491.1v58.5M468.9 507.9v58.5M470.2 524.6v58.5M470.2 514.8v55.7M471.6 492.5v61.3M473 555.2v52.9M473 505.1v64.1M474.4 588.7v55.7M474.4 548.3v52.9M475.8 553.9v58.5M477.2 546.9v61.3M477.2 471.6v58.5M478.6 516.2v61.3M480 514.8v58.5M480 503.7v61.3M481.4 527.4v58.5M481.4 569.2v58.5M482.8 519v58.5M484.2 530.2v55.7M484.2 548.3v58.5M485.6 491.1v58.5M487 545.5v61.3M487 556.6v58.5M488.4 521.8v55.7M488.4 503.7v61.3M489.8 481.4v58.5M491.1 492.5v61.3M491.1 502.3v55.7M492.5 533v61.3M492.5 559.4v64.1M493.9 552.5v55.7M495.3 537.1v64.1M495.3 523.2v61.3M496.7 492.5v52.9M498.1 516.2v55.7M498.1 531.6v61.3M499.5 537.1v55.7M499.5 526v58.5M500.9 521.8v58.5M500.9 513.4v58.5M502.3 521.8v55.7M503.7 509.3v58.5M503.7 523.2v64.1M505.1 531.6v64.1M506.5 517.6v58.5M506.5 566.4v64.1M507.9 512v58.5M507.9 572v61.3M509.3 526v61.3M510.7 535.7v64.1M510.7 503.7v58.5M512 537.1v64.1M512 534.3v61.3M513.4 509.3v64.1M514.8 549.7v61.3M514.8 500.9v61.3M516.2 539.9v61.3M516.2 527.4v61.3M517.6 528.8v61.3M519 505.1v61.3M520.4 524.6v55.7M520.4 456.3v58.5M520.4 537.1v55.7M521.8 495.3v64.1M523.2 539.9v55.7M524.6 537.1v55.7M524.6 512v55.7M526 477.2v58.5M526 574.8v58.5M527.4 526v58.5M528.8 521.8v61.3M528.8 530.2v64.1M528.8 556.6v58.5M530.2 532.9v55.7M531.6 503.7v55.7M531.6 509.3v64.1M533 541.3v52.9M534.3 468.9v55.7M534.3 566.4v58.5M535.7 541.3v61.3M537.1 491.1v61.3M537.1 509.3v55.7M538.5 435.4v61.3M538.5 495.3v55.7M539.9 527.4v61.3M541.3 534.3v58.5M541.3 499.5v61.3M542.7 498.1v58.5M544.1 530.2v61.3M544.1 493.9v52.9M545.5 478.6v64.1M546.9 507.9v58.5M546.9 481.4v58.5M548.3 551.1v58.5M548.3 507.9v61.3M549.7 489.8v61.3M549.7 544.1v61.3M551.1 519v58.5M552.5 531.6v61.3M552.5 537.1v55.7M553.9 506.5v61.3M555.2 464.7v55.7M555.2 519v52.9M556.6 553.9v55.7M556.6 574.8v61.3M558 533v58.5M559.4 527.4v58.5M559.4 539.9v64.1M560.8 538.5v58.5M562.2 477.2v58.5M562.2 559.4v64.1M563.6 538.5v61.3M563.6 503.7v55.7M565 580.3v52.9M566.4 509.3v58.5M566.4 526v64.1M567.8 545.5v61.3M567.8 541.3v58.5M569.2 542.7v55.7M569.2 516.2v55.7M570.6 489.8v58.5M572 516.2v58.5M573.4 513.4v64.1M573.4 505.1v61.3M574.8 503.7v64.1M574.8 565v58.5M576.1 528.8v64.1M576.1 551.1v61.3M577.5 526v55.7M578.9 514.8v61.3M578.9 505.1v55.7M580.3 526v52.9M581.7 487v61.3M581.7 489.8v58.5M583.1 531.6v58.5M584.5 523.2v55.7M584.5 474.4v55.7M585.9 534.3v64.1M585.9 545.5v55.7M587.3 524.6v58.5M588.7 520.4v61.3M588.7 530.2v61.3M590.1 521.8v58.5M590.1 482.8v64.1M591.5 475.8v64.1M592.9 502.3v55.7M592.9 499.5v58.5M594.3 473v61.3M594.3 520.4v55.7M595.6 553.9v61.3M595.6 516.2v55.7M597 473v55.7M598.4 512v55.7M598.4 514.8v64.1M599.8 516.2v55.7M601.2 551.1v64.1M601.2 500.9v61.3M602.6 513.4v55.7M604 517.6v61.3M604 524.6v58.5M605.4 546.9v61.3M605.4 499.5v58.5M606.8 510.7v61.3M608.2 512.1v64.1M608.2 498.1v58.5M609.6 485.6v61.3M609.6 528.8v55.7M611 492.5v52.9M612.4 521.8v58.5M612.4 507.9v61.3M613.8 507.9v58.5M613.8 450.7v61.3M615.2 475.8v55.7M616.5 552.5v58.5M616.5 498.1v61.3M617.9 478.6v64.1M619.3 470.2v55.7M619.3 498.1v55.7M620.7 534.3v55.7M620.7 493.9v52.9M622.1 468.9v61.3M622.1 450.7v55.7M623.5 513.4v58.5M624.9 481.4v64.1M626.3 468.9v55.7M626.3 459.1v61.3M627.7 496.7v55.7M629.1 495.3v52.9M629.1 498.1v55.7M629.1 489.8v55.7M630.5 510.7v58.5M631.9 466.1v64.1M631.9 512.1v64.1M633.3 415.9v64.1M633.3 467.5v55.7M634.7 421.5v61.3M636.1 484.2v61.3M636.1 493.9v61.3M637.5 417.3v58.5M638.8 442.4v55.7M638.8 459.1v55.7M640.2 420.1v58.5M641.6 480v58.5M641.6 431.2v55.7M643 453.5v58.5M643 431.2v61.3M644.4 481.4v61.3M645.8 474.4v55.7M645.8 445.2v58.5M647.2 450.7v55.7M647.2 441v55.7M648.6 474.4v55.7M650 454.9v64.1M650 442.4v61.3M651.4 456.3v55.7M651.4 450.7v64.1M652.8 471.6v58.5M654.2 422.9v61.3M654.2 457.7v55.7M655.6 461.9v61.3M657 442.4v61.3M657 424.3v61.3M658.4 457.7v61.3M659.7 415.9v61.3M659.7 421.5v55.7M661.1 397.8v61.3M661.1 396.4v55.7M662.5 408.9v55.7M662.5 429.8v58.5M663.9 420.1v55.7M663.9 453.5v61.3M665.3 431.2v58.5M666.7 427.1v58.5M666.7 403.4v55.7M668.1 411.7v61.3M669.5 435.4v61.3M670.9 460.5v58.5M670.9 406.2v55.7M672.3 410.3v58.5M672.3 410.3v55.7M673.7 442.4v61.3M673.7 417.3v58.5M675.1 442.4v55.7M676.5 432.6v61.3M676.5 397.8v58.5M677.9 432.6v61.3M677.9 466.1v52.9M679.2 439.6v61.3M680.6 427.1v58.5M680.6 399.2v64.1M682 436.8v58.5M682 406.2v58.5M683.4 429.8v64.1M684.8 403.4v64.1M684.8 385.3v55.7M686.2 436.8v52.9M687.6 385.3v58.5M689 402v58.5M689 418.7v55.7M689 431.2v61.3M690.4 452.1v58.5M691.8 448v64.1M691.8 424.3v64.1M693.2 435.4v58.5M693.2 454.9v61.3M694.6 438.2v58.5M696 406.2v55.7M696 431.2v61.3M697.4 411.7v61.3M698.8 422.9v64.1M698.8 457.7v58.5M700.1 414.5v52.9M701.5 443.8v61.3M701.5 421.5v64.1M701.5 446.6v61.3M702.9 438.2v58.5M704.3 446.6v61.3M705.7 421.5v64.1M705.7 439.6v58.5M707.1 403.4v64.1M707.1 410.3v61.3M708.5 421.5v61.3M709.9 425.7v55.7M709.9 438.2v61.3M711.3 379.7v61.3M712.7 470.2v55.7M712.7 452.1v55.7M712.7 464.7v58.5M714.1 385.3v58.5M715.5 390.8v64.1M716.9 420.1v58.5M716.9 396.4v61.3M718.3 435.4v61.3M718.3 439.6v58.5M719.7 417.3v64.1M719.7 438.2v58.5M721 425.7v61.3M722.4 470.2v58.5M722.4 459.1v52.9M723.8 449.4v58.5M725.2 452.1v61.3M725.2 420.1v64.1M726.6 438.2v58.5M728 435.4v55.7M728 421.5v55.7M729.4 428.5v61.3M730.8 388v52.9M730.8 435.4v58.5M730.8 402v64.1M732.2 420.1v61.3M733.6 400.6v61.3M735 414.5v55.7M735 438.2v55.7M735 397.8v64.1M736.4 466.1v61.3M737.8 454.9v55.7M737.8 438.2v55.7M739.2 413.1v61.3M740.6 449.4v58.5M740.6 448v55.7M742 407.6v55.7M743.3 411.7v52.9M743.3 452.1v61.3M744.7 435.4v55.7M746.1 470.2v61.3M746.1 450.7v58.5M747.5 395v64.1M747.5 425.7v64.1M748.9 457.7v55.7M748.9 448v55.7M750.3 448v55.7M750.3 432.6v55.7M751.7 413.1v55.7M753.1 459.1v58.5M754.5 431.2v58.5M754.5 400.6v58.5M755.9 407.6v55.7M755.9 408.9v61.3M757.3 459.1v52.9M758.7 457.7v55.7M758.7 446.6v61.3M760.1 376.9v55.7M761.5 417.3v61.3M761.5 429.8v58.5"/><path class="n" d="M92.3 485.3h6.2v6.2h-6.2z"/><path class="n" d="M93.7 400.3h6.2v6.2h-6.2z"/><path class="n" d="M95.1 446.2h6.2v6.2h-6.2z"/><path class="n" d="M95.1 437.9h6.2v6.2h-6.2z"/><path class="n" d="M96.5 474.1h6.2v6.2h-6.2z"/><path class="n" d="M96.5 421.2h6.2v6.2h-6.2z"/><path class="n" d="M97.9 454.6h6.2v6.2h-6.2z"/><path class="n" d="M97.9 451.8h6.2v6.2h-6.2z"/><path class="n" d="M99.3 443.5h6.2v6.2h-6.2z"/><path class="n" d="M100.7 442.1h6.2v6.2h-6.2z"/><path class="n" d="M100.7 469.9h6.2v6.2h-6.2z"/><path class="n" d="M102.1 454.6h6.2v6.2h-6.2z"/><path class="n" d="M102.1 429.5h6.2v6.2h-6.2z"/><path class="n" d="M103.5 467.1h6.2v6.2h-6.2z"/><path class="n" d="M104.9 515.9h6.2v6.2h-6.2z"/><path class="n" d="M104.9 430.9h6.2v6.2h-6.2z"/><path class="n" d="M106.3 465.8h6.2v6.2h-6.2z"/><path class="n" d="M107.7 482.5h6.2v6.2h-6.2z"/><path class="n" d="M107.7 439.3h6.2v6.2h-6.2z"/><path class="n" d="M109.1 435.1h6.2v6.2h-6.2z"/><path class="n" d="M109.1 457.4h6.2v6.2h-6.2z"/><path class="n" d="M110.5 432.3h6.2v6.2h-6.2z"/><path class="n" d="M111.9 429.5h6.2v6.2h-6.2z"/><path class="n" d="M111.9 478.3h6.2v6.2h-6.2z"/><path class="n" d="M113.2 446.2h6.2v6.2h-6.2z"/><path class="n" d="M113.2 447.6h6.2v6.2h-6.2z"/><path class="n" d="M114.6 460.2h6.2v6.2h-6.2z"/><path class="n" d="M116 430.9h6.2v6.2h-6.2z"/><path class="n" d="M116 457.4h6.2v6.2h-6.2z"/><path class="n" d="M117.4 460.2h6.2v6.2h-6.2z"/><path class="n" d="M117.4 463h6.2v6.2h-6.2z"/><path class="n" d="M118.8 453.2h6.2v6.2h-6.2z"/><path class="n" d="M120.2 447.6h6.2v6.2h-6.2z"/><path class="n" d="M120.2 506.2h6.2v6.2h-6.2z"/><path class="n" d="M121.6 435.1h6.2v6.2h-6.2z"/><path class="n" d="M123 453.2h6.2v6.2h-6.2z"/><path class="n" d="M123 476.9h6.2v6.2h-6.2z"/><path class="n" d="M124.4 407.2h6.2v6.2h-6.2z"/><path class="n" d="M124.4 511.7h6.2v6.2h-6.2z"/><path class="n" d="M125.8 411.4h6.2v6.2h-6.2z"/><path class="n" d="M127.2 474.1h6.2v6.2h-6.2z"/><path class="n" d="M127.2 468.5h6.2v6.2h-6.2z"/><path class="n" d="M128.6 467.1h6.2v6.2h-6.2z"/><path class="n" d="M128.6 465.8h6.2v6.2h-6.2z"/><path class="n" d="M130 489.4h6.2v6.2h-6.2z"/><path class="n" d="M130 429.5h6.2v6.2h-6.2z"/><path class="n" d="M131.4 410h6.2v6.2h-6.2z"/><path class="n" d="M132.8 476.9h6.2v6.2h-6.2z"/><path class="n" d="M134.1 400.3h6.2v6.2h-6.2z"/><path class="n" d="M134.1 458.8h6.2v6.2h-6.2z"/><path class="n" d="M135.5 474.1h6.2v6.2h-6.2z"/><path class="n" d="M135.5 489.4h6.2v6.2h-6.2z"/><path class="n" d="M136.9 472.7h6.2v6.2h-6.2z"/><path class="n" d="M138.3 454.6h6.2v6.2h-6.2z"/><path class="n" d="M138.3 440.7h6.2v6.2h-6.2z"/><path class="n" d="M139.7 429.5h6.2v6.2h-6.2z"/><path class="n" d="M139.7 430.9h6.2v6.2h-6.2z"/><path class="n" d="M141.1 465.8h6.2v6.2h-6.2z"/><path class="n" d="M142.5 444.9h6.2v6.2h-6.2z"/><path class="n" d="M142.5 428.1h6.2v6.2h-6.2z"/><path class="n" d="M143.9 446.2h6.2v6.2h-6.2z"/><path class="n" d="M145.3 454.6h6.2v6.2h-6.2z"/><path class="n" d="M145.3 444.9h6.2v6.2h-6.2z"/><path class="n" d="M146.7 440.7h6.2v6.2h-6.2z"/><path class="n" d="M146.7 447.6h6.2v6.2h-6.2z"/><path class="n" d="M148.1 456h6.2v6.2h-6.2z"/><path class="n" d="M148.1 463h6.2v6.2h-6.2z"/><path class="n" d="M149.5 464.4h6.2v6.2h-6.2z"/><path class="n" d="M150.9 439.3h6.2v6.2h-6.2z"/><path class="n" d="M152.3 449h6.2v6.2h-6.2z"/><path class="n" d="M152.3 450.4h6.2v6.2h-6.2z"/><path class="n" d="M152.3 467.1h6.2v6.2h-6.2z"/><path class="n" d="M153.7 478.3h6.2v6.2h-6.2z"/><path class="n" d="M155 497.8h6.2v6.2h-6.2z"/><path class="n" d="M155 439.3h6.2v6.2h-6.2z"/><path class="n" d="M156.4 469.9h6.2v6.2h-6.2z"/><path class="n" d="M156.4 461.6h6.2v6.2h-6.2z"/><path class="n" d="M157.8 492.2h6.2v6.2h-6.2z"/><path class="n" d="M159.2 432.3h6.2v6.2h-6.2z"/><path class="n" d="M160.6 446.2h6.2v6.2h-6.2z"/><path class="n" d="M160.6 417h6.2v6.2h-6.2z"/><path class="n" d="M162 426.7h6.2v6.2h-6.2z"/><path class="n" d="M162 486.7h6.2v6.2h-6.2z"/><path class="n" d="M163.4 464.4h6.2v6.2h-6.2z"/><path class="n" d="M163.4 461.6h6.2v6.2h-6.2z"/><path class="n" d="M164.8 391.9h6.2v6.2h-6.2z"/><path class="n" d="M166.2 422.6h6.2v6.2h-6.2z"/><path class="n" d="M166.2 435.1h6.2v6.2h-6.2z"/><path class="n" d="M167.6 450.4h6.2v6.2h-6.2z"/><path class="n" d="M167.6 499.2h6.2v6.2h-6.2z"/><path class="n" d="M169 446.2h6.2v6.2h-6.2z"/><path class="n" d="M170.4 425.3h6.2v6.2h-6.2z"/><path class="n" d="M170.4 475.5h6.2v6.2h-6.2z"/><path class="n" d="M171.8 453.2h6.2v6.2h-6.2z"/><path class="n" d="M173.2 437.9h6.2v6.2h-6.2z"/><path class="n" d="M173.2 446.2h6.2v6.2h-6.2z"/><path class="n" d="M174.6 468.5h6.2v6.2h-6.2z"/><path class="n" d="M175.9 418.4h6.2v6.2h-6.2z"/><path class="n" d="M175.9 481.1h6.2v6.2h-6.2z"/><path class="n" d="M177.3 506.2h6.2v6.2h-6.2z"/><path class="n" d="M177.3 465.8h6.2v6.2h-6.2z"/><path class="n" d="M178.7 493.6h6.2v6.2h-6.2z"/><path class="n" d="M180.1 451.8h6.2v6.2h-6.2z"/><path class="n" d="M180.1 457.4h6.2v6.2h-6.2z"/><path class="n" d="M181.5 481.1h6.2v6.2h-6.2z"/><path class="n" d="M181.5 485.3h6.2v6.2h-6.2z"/><path class="n" d="M182.9 460.2h6.2v6.2h-6.2z"/><path class="n" d="M184.3 425.3h6.2v6.2h-6.2z"/><path class="n" d="M184.3 510.3h6.2v6.2h-6.2z"/><path class="n" d="M185.7 481.1h6.2v6.2h-6.2z"/><path class="n" d="M185.7 471.3h6.2v6.2h-6.2z"/><path class="n" d="M187.1 476.9h6.2v6.2h-6.2z"/><path class="n" d="M188.5 469.9h6.2v6.2h-6.2z"/><path class="n" d="M189.9 481.1h6.2v6.2h-6.2z"/><path class="n" d="M189.9 500.6h6.2v6.2h-6.2z"/><path class="n" d="M191.3 415.6h6.2v6.2h-6.2z"/><path class="n" d="M191.3 492.2h6.2v6.2h-6.2z"/><path class="n" d="M192.7 507.6h6.2v6.2h-6.2z"/><path class="n" d="M192.7 472.7h6.2v6.2h-6.2z"/><path class="n" d="M194.1 503.4h6.2v6.2h-6.2z"/><path class="n" d="M195.4 460.2h6.2v6.2h-6.2z"/><path class="n" d="M195.4 461.6h6.2v6.2h-6.2z"/><path class="n" d="M196.8 472.7h6.2v6.2h-6.2z"/><path class="n" d="M196.8 444.9h6.2v6.2h-6.2z"/><path class="n" d="M198.2 439.3h6.2v6.2h-6.2z"/><path class="n" d="M199.6 450.4h6.2v6.2h-6.2z"/><path class="n" d="M199.6 479.7h6.2v6.2h-6.2z"/><path class="n" d="M201 511.7h6.2v6.2h-6.2z"/><path class="n" d="M202.4 500.6h6.2v6.2h-6.2z"/><path class="n" d="M202.4 479.7h6.2v6.2h-6.2z"/><path class="n" d="M203.8 482.5h6.2v6.2h-6.2z"/><path class="n" d="M205.2 490.8h6.2v6.2h-6.2z"/><path class="n" d="M205.2 515.9h6.2v6.2h-6.2z"/><path class="n" d="M206.6 481.1h6.2v6.2h-6.2z"/><path class="n" d="M206.6 511.7h6.2v6.2h-6.2z"/><path class="n" d="M208 495h6.2v6.2h-6.2z"/><path class="n" d="M208 474.1h6.2v6.2h-6.2z"/><path class="n" d="M209.4 476.9h6.2v6.2h-6.2z"/><path class="n" d="M209.4 545.2h6.2v6.2h-6.2z"/><path class="n" d="M212.2 485.3h6.2v6.2h-6.2z"/><path class="n" d="M212.2 474.1h6.2v6.2h-6.2z"/><path class="n" d="M213.6 496.4h6.2v6.2h-6.2z"/><path class="n" d="M213.6 522.9h6.2v6.2h-6.2z"/><path class="n" d="M215 482.5h6.2v6.2h-6.2z"/><path class="n" d="M216.3 497.8h6.2v6.2h-6.2z"/><path class="n" d="M216.3 497.8h6.2v6.2h-6.2z"/><path class="n" d="M217.7 535.4h6.2v6.2h-6.2z"/><path class="n" d="M217.7 531.2h6.2v6.2h-6.2z"/><path class="n" d="M219.1 520.1h6.2v6.2h-6.2z"/><path class="n" d="M220.5 503.4h6.2v6.2h-6.2z"/><path class="n" d="M220.5 463h6.2v6.2h-6.2z"/><path class="n" d="M221.9 518.7h6.2v6.2h-6.2z"/><path class="n" d="M221.9 481.1h6.2v6.2h-6.2z"/><path class="n" d="M223.3 514.5h6.2v6.2h-6.2z"/><path class="n" d="M224.7 474.1h6.2v6.2h-6.2z"/><path class="n" d="M224.7 508.9h6.2v6.2h-6.2z"/><path class="n" d="M226.1 553.5h6.2v6.2h-6.2z"/><path class="n" d="M226.1 560.5h6.2v6.2h-6.2z"/><path class="n" d="M227.5 550.8h6.2v6.2h-6.2z"/><path class="n" d="M228.9 568.9h6.2v6.2h-6.2z"/><path class="n" d="M228.9 514.5h6.2v6.2h-6.2z"/><path class="n" d="M230.3 527.1h6.2v6.2h-6.2z"/><path class="n" d="M231.7 539.6h6.2v6.2h-6.2z"/><path class="n" d="M231.7 529.9h6.2v6.2h-6.2z"/><path class="n" d="M233.1 520.1h6.2v6.2h-6.2z"/><path class="n" d="M233.1 525.7h6.2v6.2h-6.2z"/><path class="n" d="M234.5 508.9h6.2v6.2h-6.2z"/><path class="n" d="M234.5 535.4h6.2v6.2h-6.2z"/><path class="n" d="M235.9 518.7h6.2v6.2h-6.2z"/><path class="n" d="M237.2 560.5h6.2v6.2h-6.2z"/><path class="n" d="M237.2 503.4h6.2v6.2h-6.2z"/><path class="n" d="M238.6 536.8h6.2v6.2h-6.2z"/><path class="n" d="M240 550.8h6.2v6.2h-6.2z"/><path class="n" d="M240 527.1h6.2v6.2h-6.2z"/><path class="n" d="M241.4 524.3h6.2v6.2h-6.2z"/><path class="n" d="M241.4 525.7h6.2v6.2h-6.2z"/><path class="n" d="M242.8 518.7h6.2v6.2h-6.2z"/><path class="n" d="M244.2 534h6.2v6.2h-6.2z"/><path class="n" d="M245.6 525.7h6.2v6.2h-6.2z"/><path class="n" d="M245.6 548h6.2v6.2h-6.2z"/><path class="n" d="M247 503.4h6.2v6.2h-6.2z"/><path class="n" d="M247 563.3h6.2v6.2h-6.2z"/><path class="n" d="M248.4 546.6h6.2v6.2h-6.2z"/><path class="n" d="M248.4 550.8h6.2v6.2h-6.2z"/><path class="n" d="M249.8 539.6h6.2v6.2h-6.2z"/><path class="n" d="M249.8 543.8h6.2v6.2h-6.2z"/><path class="n" d="M251.2 531.2h6.2v6.2h-6.2z"/><path class="n" d="M252.6 504.8h6.2v6.2h-6.2z"/><path class="n" d="M252.6 531.2h6.2v6.2h-6.2z"/><path class="n" d="M254 545.2h6.2v6.2h-6.2z"/><path class="n" d="M255.4 561.9h6.2v6.2h-6.2z"/><path class="n" d="M255.4 515.9h6.2v6.2h-6.2z"/><path class="n" d="M256.8 495h6.2v6.2h-6.2z"/><path class="n" d="M256.8 517.3h6.2v6.2h-6.2z"/><path class="n" d="M258.1 556.3h6.2v6.2h-6.2z"/><path class="n" d="M258.1 588.4h6.2v6.2h-6.2z"/><path class="n" d="M259.5 539.6h6.2v6.2h-6.2z"/><path class="n" d="M260.9 506.2h6.2v6.2h-6.2z"/><path class="n" d="M262.3 574.4h6.2v6.2h-6.2z"/><path class="n" d="M262.3 536.8h6.2v6.2h-6.2z"/><path class="n" d="M263.7 568.9h6.2v6.2h-6.2z"/><path class="n" d="M263.7 548h6.2v6.2h-6.2z"/><path class="n" d="M265.1 612.1h6.2v6.2h-6.2z"/><path class="n" d="M265.1 504.8h6.2v6.2h-6.2z"/><path class="n" d="M266.5 471.3h6.2v6.2h-6.2z"/><path class="n" d="M267.9 559.1h6.2v6.2h-6.2z"/><path class="n" d="M269.3 585.6h6.2v6.2h-6.2z"/><path class="n" d="M269.3 506.2h6.2v6.2h-6.2z"/><path class="n" d="M270.7 585.6h6.2v6.2h-6.2z"/><path class="n" d="M272.1 570.3h6.2v6.2h-6.2z"/><path class="n" d="M272.1 543.8h6.2v6.2h-6.2z"/><path class="n" d="M273.5 552.1h6.2v6.2h-6.2z"/><path class="n" d="M273.5 535.4h6.2v6.2h-6.2z"/><path class="n" d="M274.9 535.4h6.2v6.2h-6.2z"/><path class="n" d="M274.9 517.3h6.2v6.2h-6.2z"/><path class="n" d="M276.3 508.9h6.2v6.2h-6.2z"/><path class="n" d="M276.3 598.1h6.2v6.2h-6.2z"/><path class="n" d="M277.7 566.1h6.2v6.2h-6.2z"/><path class="n" d="M279 559.1h6.2v6.2h-6.2z"/><path class="n" d="M279 575.8h6.2v6.2h-6.2z"/><path class="n" d="M280.4 567.5h6.2v6.2h-6.2z"/><path class="n" d="M281.8 518.7h6.2v6.2h-6.2z"/><path class="n" d="M281.8 567.5h6.2v6.2h-6.2z"/><path class="n" d="M283.2 542.4h6.2v6.2h-6.2z"/><path class="n" d="M284.6 564.7h6.2v6.2h-6.2z"/><path class="n" d="M284.6 575.8h6.2v6.2h-6.2z"/><path class="n" d="M286 561.9h6.2v6.2h-6.2z"/><path class="n" d="M286 531.2h6.2v6.2h-6.2z"/><path class="n" d="M287.4 560.5h6.2v6.2h-6.2z"/><path class="n" d="M288.8 575.8h6.2v6.2h-6.2z"/><path class="n" d="M288.8 546.6h6.2v6.2h-6.2z"/><path class="n" d="M290.2 525.7h6.2v6.2h-6.2z"/><path class="n" d="M290.2 518.7h6.2v6.2h-6.2z"/><path class="n" d="M291.6 578.6h6.2v6.2h-6.2z"/><path class="n" d="M291.6 539.6h6.2v6.2h-6.2z"/><path class="n" d="M293 567.5h6.2v6.2h-6.2z"/><path class="n" d="M294.4 513.1h6.2v6.2h-6.2z"/><path class="n" d="M295.8 520.1h6.2v6.2h-6.2z"/><path class="n" d="M295.8 571.6h6.2v6.2h-6.2z"/><path class="n" d="M297.2 521.5h6.2v6.2h-6.2z"/><path class="n" d="M297.2 524.3h6.2v6.2h-6.2z"/><path class="n" d="M298.6 587h6.2v6.2h-6.2z"/><path class="n" d="M298.6 507.6h6.2v6.2h-6.2z"/><path class="n" d="M299.9 559.1h6.2v6.2h-6.2z"/><path class="n" d="M301.3 532.6h6.2v6.2h-6.2z"/><path class="n" d="M302.7 479.7h6.2v6.2h-6.2z"/><path class="n" d="M302.7 511.7h6.2v6.2h-6.2z"/><path class="n" d="M302.7 567.5h6.2v6.2h-6.2z"/><path class="n" d="M304.1 545.2h6.2v6.2h-6.2z"/><path class="n" d="M305.5 529.9h6.2v6.2h-6.2z"/><path class="n" d="M306.9 528.5h6.2v6.2h-6.2z"/><path class="n" d="M306.9 563.3h6.2v6.2h-6.2z"/><path class="n" d="M308.3 532.6h6.2v6.2h-6.2z"/><path class="n" d="M309.7 559.1h6.2v6.2h-6.2z"/><path class="n" d="M309.7 553.5h6.2v6.2h-6.2z"/><path class="n" d="M309.7 513.1h6.2v6.2h-6.2z"/><path class="n" d="M311.1 578.6h6.2v6.2h-6.2z"/><path class="n" d="M312.5 521.5h6.2v6.2h-6.2z"/><path class="n" d="M312.5 574.4h6.2v6.2h-6.2z"/><path class="n" d="M313.9 554.9h6.2v6.2h-6.2z"/><path class="n" d="M313.9 568.9h6.2v6.2h-6.2z"/><path class="n" d="M315.3 563.3h6.2v6.2h-6.2z"/><path class="n" d="M316.7 557.7h6.2v6.2h-6.2z"/><path class="n" d="M318.1 511.7h6.2v6.2h-6.2z"/><path class="n" d="M318.1 525.7h6.2v6.2h-6.2z"/><path class="n" d="M319.5 573h6.2v6.2h-6.2z"/><path class="n" d="M319.5 518.7h6.2v6.2h-6.2z"/><path class="n" d="M320.8 552.1h6.2v6.2h-6.2z"/><path class="n" d="M320.8 500.6h6.2v6.2h-6.2z"/><path class="n" d="M322.2 570.3h6.2v6.2h-6.2z"/><path class="n" d="M323.6 561.9h6.2v6.2h-6.2z"/><path class="n" d="M325 518.7h6.2v6.2h-6.2z"/><path class="n" d="M325 556.3h6.2v6.2h-6.2z"/><path class="n" d="M326.4 556.3h6.2v6.2h-6.2z"/><path class="n" d="M326.4 549.4h6.2v6.2h-6.2z"/><path class="n" d="M327.8 539.6h6.2v6.2h-6.2z"/><path class="n" d="M327.8 542.4h6.2v6.2h-6.2z"/><path class="n" d="M329.2 571.6h6.2v6.2h-6.2z"/><path class="n" d="M330.6 564.7h6.2v6.2h-6.2z"/><path class="n" d="M330.6 559.1h6.2v6.2h-6.2z"/><path class="n" d="M332 532.6h6.2v6.2h-6.2z"/><path class="n" d="M333.4 567.5h6.2v6.2h-6.2z"/><path class="n" d="M333.4 521.5h6.2v6.2h-6.2z"/><path class="n" d="M333.4 580h6.2v6.2h-6.2z"/><path class="n" d="M334.8 554.9h6.2v6.2h-6.2z"/><path class="n" d="M336.2 527.1h6.2v6.2h-6.2z"/><path class="n" d="M337.6 536.8h6.2v6.2h-6.2z"/><path class="n" d="M337.6 539.6h6.2v6.2h-6.2z"/><path class="n" d="M339 570.3h6.2v6.2h-6.2z"/><path class="n" d="M340.4 511.7h6.2v6.2h-6.2z"/><path class="n" d="M340.4 575.8h6.2v6.2h-6.2z"/><path class="n" d="M341.8 524.3h6.2v6.2h-6.2z"/><path class="n" d="M341.8 552.1h6.2v6.2h-6.2z"/><path class="n" d="M343.1 510.3h6.2v6.2h-6.2z"/><path class="n" d="M344.5 507.6h6.2v6.2h-6.2z"/><path class="n" d="M344.5 561.9h6.2v6.2h-6.2z"/><path class="n" d="M345.9 513.1h6.2v6.2h-6.2z"/><path class="n" d="M347.3 619h6.2v6.2h-6.2z"/><path class="n" d="M347.3 482.5h6.2v6.2h-6.2z"/><path class="n" d="M347.3 588.4h6.2v6.2h-6.2z"/><path class="n" d="M348.7 584.2h6.2v6.2h-6.2z"/><path class="n" d="M350.1 573h6.2v6.2h-6.2z"/><path class="n" d="M350.1 536.8h6.2v6.2h-6.2z"/><path class="n" d="M351.5 564.7h6.2v6.2h-6.2z"/><path class="n" d="M352.9 541h6.2v6.2h-6.2z"/><path class="n" d="M352.9 564.7h6.2v6.2h-6.2z"/><path class="n" d="M354.3 566.1h6.2v6.2h-6.2z"/><path class="n" d="M354.3 571.6h6.2v6.2h-6.2z"/><path class="n" d="M355.7 587h6.2v6.2h-6.2z"/><path class="n" d="M357.1 574.4h6.2v6.2h-6.2z"/><path class="n" d="M357.1 465.8h6.2v6.2h-6.2z"/><path class="n" d="M358.5 574.4h6.2v6.2h-6.2z"/><path class="n" d="M359.9 517.3h6.2v6.2h-6.2z"/><path class="n" d="M359.9 522.9h6.2v6.2h-6.2z"/><path class="n" d="M361.3 527.1h6.2v6.2h-6.2z"/><path class="n" d="M361.3 571.6h6.2v6.2h-6.2z"/><path class="n" d="M362.6 502h6.2v6.2h-6.2z"/><path class="n" d="M364 548h6.2v6.2h-6.2z"/><path class="n" d="M364 538.2h6.2v6.2h-6.2z"/><path class="n" d="M365.4 574.4h6.2v6.2h-6.2z"/><path class="n" d="M365.4 559.1h6.2v6.2h-6.2z"/><path class="n" d="M366.8 610.7h6.2v6.2h-6.2z"/><path class="n" d="M368.2 591.2h6.2v6.2h-6.2z"/><path class="n" d="M368.2 536.8h6.2v6.2h-6.2z"/><path class="n" d="M369.6 556.3h6.2v6.2h-6.2z"/><path class="n" d="M371 543.8h6.2v6.2h-6.2z"/><path class="n" d="M371 585.6h6.2v6.2h-6.2z"/><path class="n" d="M372.4 528.5h6.2v6.2h-6.2z"/><path class="n" d="M372.4 539.6h6.2v6.2h-6.2z"/><path class="n" d="M373.8 573h6.2v6.2h-6.2z"/><path class="n" d="M373.8 549.4h6.2v6.2h-6.2z"/><path class="n" d="M375.2 563.3h6.2v6.2h-6.2z"/><path class="n" d="M376.6 559.1h6.2v6.2h-6.2z"/><path class="n" d="M376.6 557.7h6.2v6.2h-6.2z"/><path class="n" d="M378 531.2h6.2v6.2h-6.2z"/><path class="n" d="M378 575.8h6.2v6.2h-6.2z"/><path class="n" d="M379.4 554.9h6.2v6.2h-6.2z"/><path class="n" d="M380.8 574.4h6.2v6.2h-6.2z"/><path class="n" d="M380.8 538.2h6.2v6.2h-6.2z"/><path class="n" d="M382.2 535.4h6.2v6.2h-6.2z"/><path class="n" d="M383.5 548h6.2v6.2h-6.2z"/><path class="n" d="M383.5 525.7h6.2v6.2h-6.2z"/><path class="n" d="M384.9 561.9h6.2v6.2h-6.2z"/><path class="n" d="M386.3 592.5h6.2v6.2h-6.2z"/><path class="n" d="M386.3 545.2h6.2v6.2h-6.2z"/><path class="n" d="M387.7 543.8h6.2v6.2h-6.2z"/><path class="n" d="M387.7 596.7h6.2v6.2h-6.2z"/><path class="n" d="M389.1 584.2h6.2v6.2h-6.2z"/><path class="n" d="M389.1 567.5h6.2v6.2h-6.2z"/><path class="n" d="M390.5 613.4h6.2v6.2h-6.2z"/><path class="n" d="M391.9 554.9h6.2v6.2h-6.2z"/><path class="n" d="M393.3 534h6.2v6.2h-6.2z"/><path class="n" d="M393.3 542.4h6.2v6.2h-6.2z"/><path class="n" d="M394.7 560.5h6.2v6.2h-6.2z"/><path class="n" d="M394.7 573h6.2v6.2h-6.2z"/><path class="n" d="M396.1 573h6.2v6.2h-6.2z"/><path class="n" d="M397.5 542.4h6.2v6.2h-6.2z"/><path class="n" d="M397.5 577.2h6.2v6.2h-6.2z"/><path class="n" d="M398.9 560.5h6.2v6.2h-6.2z"/><path class="n" d="M398.9 531.2h6.2v6.2h-6.2z"/><path class="n" d="M400.3 542.4h6.2v6.2h-6.2z"/><path class="n" d="M401.7 573h6.2v6.2h-6.2z"/><path class="n" d="M401.7 524.3h6.2v6.2h-6.2z"/><path class="n" d="M403.1 559.1h6.2v6.2h-6.2z"/><path class="n" d="M403.1 600.9h6.2v6.2h-6.2z"/><path class="n" d="M404.4 515.9h6.2v6.2h-6.2z"/><path class="n" d="M404.4 490.8h6.2v6.2h-6.2z"/><path class="n" d="M405.8 486.7h6.2v6.2h-6.2z"/><path class="n" d="M407.2 511.7h6.2v6.2h-6.2z"/><path class="n" d="M407.2 621.8h6.2v6.2h-6.2z"/><path class="n" d="M408.6 581.4h6.2v6.2h-6.2z"/><path class="n" d="M410 614.8h6.2v6.2h-6.2z"/><path class="n" d="M410 518.7h6.2v6.2h-6.2z"/><path class="n" d="M411.4 545.2h6.2v6.2h-6.2z"/><path class="n" d="M411.4 528.5h6.2v6.2h-6.2z"/><path class="n" d="M412.8 573h6.2v6.2h-6.2z"/><path class="n" d="M414.2 588.4h6.2v6.2h-6.2z"/><path class="n" d="M414.2 584.2h6.2v6.2h-6.2z"/><path class="n" d="M415.6 543.8h6.2v6.2h-6.2z"/><path class="n" d="M415.6 522.9h6.2v6.2h-6.2z"/><path class="n" d="M417 607.9h6.2v6.2h-6.2z"/><path class="n" d="M418.4 524.3h6.2v6.2h-6.2z"/><path class="n" d="M418.4 561.9h6.2v6.2h-6.2z"/><path class="n" d="M419.8 554.9h6.2v6.2h-6.2z"/><path class="n" d="M421.2 563.3h6.2v6.2h-6.2z"/><path class="n" d="M421.2 502h6.2v6.2h-6.2z"/><path class="n" d="M422.6 532.6h6.2v6.2h-6.2z"/><path class="n" d="M422.6 546.6h6.2v6.2h-6.2z"/><path class="n" d="M424 541h6.2v6.2h-6.2z"/><path class="n" d="M425.3 522.9h6.2v6.2h-6.2z"/><path class="n" d="M425.3 545.2h6.2v6.2h-6.2z"/><path class="n" d="M426.7 577.2h6.2v6.2h-6.2z"/><path class="n" d="M426.7 584.2h6.2v6.2h-6.2z"/><path class="n" d="M428.1 582.8h6.2v6.2h-6.2z"/><path class="n" d="M429.5 500.6h6.2v6.2h-6.2z"/><path class="n" d="M430.9 600.9h6.2v6.2h-6.2z"/><path class="n" d="M430.9 570.3h6.2v6.2h-6.2z"/><path class="n" d="M432.3 577.2h6.2v6.2h-6.2z"/><path class="n" d="M432.3 574.4h6.2v6.2h-6.2z"/><path class="n" d="M433.7 542.4h6.2v6.2h-6.2z"/><path class="n" d="M433.7 554.9h6.2v6.2h-6.2z"/><path class="n" d="M435.1 534h6.2v6.2h-6.2z"/><path class="n" d="M436.5 581.4h6.2v6.2h-6.2z"/><path class="n" d="M436.5 561.9h6.2v6.2h-6.2z"/><path class="n" d="M437.9 563.3h6.2v6.2h-6.2z"/><path class="n" d="M437.9 557.7h6.2v6.2h-6.2z"/><path class="n" d="M439.3 587h6.2v6.2h-6.2z"/><path class="n" d="M440.7 539.6h6.2v6.2h-6.2z"/><path class="n" d="M440.7 552.1h6.2v6.2h-6.2z"/><path class="n" d="M442.1 582.8h6.2v6.2h-6.2z"/><path class="n" d="M443.5 496.4h6.2v6.2h-6.2z"/><path class="n" d="M443.5 573h6.2v6.2h-6.2z"/><path class="n" d="M444.9 581.4h6.2v6.2h-6.2z"/><path class="n" d="M444.9 536.8h6.2v6.2h-6.2z"/><path class="n" d="M446.2 548h6.2v6.2h-6.2z"/><path class="n" d="M447.6 507.6h6.2v6.2h-6.2z"/><path class="n" d="M447.6 561.9h6.2v6.2h-6.2z"/><path class="n" d="M449 561.9h6.2v6.2h-6.2z"/><path class="n" d="M449 570.3h6.2v6.2h-6.2z"/><path class="n" d="M450.4 500.6h6.2v6.2h-6.2z"/><path class="n" d="M451.8 564.7h6.2v6.2h-6.2z"/><path class="n" d="M451.8 573h6.2v6.2h-6.2z"/><path class="n" d="M453.2 584.2h6.2v6.2h-6.2z"/><path class="n" d="M454.6 570.3h6.2v6.2h-6.2z"/><path class="n" d="M454.6 534h6.2v6.2h-6.2z"/><path class="n" d="M456 598.1h6.2v6.2h-6.2z"/><path class="n" d="M457.4 577.2h6.2v6.2h-6.2z"/><path class="n" d="M457.4 554.9h6.2v6.2h-6.2z"/><path class="n" d="M458.8 574.4h6.2v6.2h-6.2z"/><path class="n" d="M458.8 552.1h6.2v6.2h-6.2z"/><path class="n" d="M460.2 525.7h6.2v6.2h-6.2z"/><path class="n" d="M460.2 529.9h6.2v6.2h-6.2z"/><path class="n" d="M461.6 545.2h6.2v6.2h-6.2z"/><path class="n" d="M463 545.2h6.2v6.2h-6.2z"/><path class="n" d="M463 567.5h6.2v6.2h-6.2z"/><path class="n" d="M464.4 525.7h6.2v6.2h-6.2z"/><path class="n" d="M464.4 517.3h6.2v6.2h-6.2z"/><path class="n" d="M465.8 534h6.2v6.2h-6.2z"/><path class="n" d="M467.1 550.8h6.2v6.2h-6.2z"/><path class="n" d="M467.1 539.6h6.2v6.2h-6.2z"/><path class="n" d="M468.5 520.1h6.2v6.2h-6.2z"/><path class="n" d="M469.9 578.6h6.2v6.2h-6.2z"/><path class="n" d="M469.9 534h6.2v6.2h-6.2z"/><path class="n" d="M471.3 613.4h6.2v6.2h-6.2z"/><path class="n" d="M471.3 571.6h6.2v6.2h-6.2z"/><path class="n" d="M472.7 580h6.2v6.2h-6.2z"/><path class="n" d="M474.1 574.4h6.2v6.2h-6.2z"/><path class="n" d="M474.1 497.8h6.2v6.2h-6.2z"/><path class="n" d="M475.5 543.8h6.2v6.2h-6.2z"/><path class="n" d="M476.9 541h6.2v6.2h-6.2z"/><path class="n" d="M476.9 531.2h6.2v6.2h-6.2z"/><path class="n" d="M478.3 553.5h6.2v6.2h-6.2z"/><path class="n" d="M478.3 595.3h6.2v6.2h-6.2z"/><path class="n" d="M479.7 545.2h6.2v6.2h-6.2z"/><path class="n" d="M481.1 554.9h6.2v6.2h-6.2z"/><path class="n" d="M481.1 574.4h6.2v6.2h-6.2z"/><path class="n" d="M482.5 517.3h6.2v6.2h-6.2z"/><path class="n" d="M483.9 573h6.2v6.2h-6.2z"/><path class="n" d="M483.9 582.8h6.2v6.2h-6.2z"/><path class="n" d="M485.3 546.6h6.2v6.2h-6.2z"/><path class="n" d="M485.3 531.2h6.2v6.2h-6.2z"/><path class="n" d="M486.7 507.6h6.2v6.2h-6.2z"/><path class="n" d="M488 520.1h6.2v6.2h-6.2z"/><path class="n" d="M488 527.1h6.2v6.2h-6.2z"/><path class="n" d="M489.4 560.5h6.2v6.2h-6.2z"/><path class="n" d="M489.4 588.4h6.2v6.2h-6.2z"/><path class="n" d="M490.8 577.2h6.2v6.2h-6.2z"/><path class="n" d="M492.2 566.1h6.2v6.2h-6.2z"/><path class="n" d="M492.2 550.8h6.2v6.2h-6.2z"/><path class="n" d="M493.6 515.9h6.2v6.2h-6.2z"/><path class="n" d="M495 541h6.2v6.2h-6.2z"/><path class="n" d="M495 559.1h6.2v6.2h-6.2z"/><path class="n" d="M496.4 561.9h6.2v6.2h-6.2z"/><path class="n" d="M496.4 552.1h6.2v6.2h-6.2z"/><path class="n" d="M497.8 548h6.2v6.2h-6.2z"/><path class="n" d="M497.8 539.6h6.2v6.2h-6.2z"/><path class="n" d="M499.2 546.6h6.2v6.2h-6.2z"/><path class="n" d="M500.6 535.4h6.2v6.2h-6.2z"/><path class="n" d="M500.6 552.1h6.2v6.2h-6.2z"/><path class="n" d="M502 560.5h6.2v6.2h-6.2z"/><path class="n" d="M503.4 543.8h6.2v6.2h-6.2z"/><path class="n" d="M503.4 595.3h6.2v6.2h-6.2z"/><path class="n" d="M504.8 538.2h6.2v6.2h-6.2z"/><path class="n" d="M504.8 599.5h6.2v6.2h-6.2z"/><path class="n" d="M506.2 553.5h6.2v6.2h-6.2z"/><path class="n" d="M507.6 564.7h6.2v6.2h-6.2z"/><path class="n" d="M507.6 529.9h6.2v6.2h-6.2z"/><path class="n" d="M508.9 566.1h6.2v6.2h-6.2z"/><path class="n" d="M508.9 561.9h6.2v6.2h-6.2z"/><path class="n" d="M510.3 538.2h6.2v6.2h-6.2z"/><path class="n" d="M511.7 577.2h6.2v6.2h-6.2z"/><path class="n" d="M511.7 528.5h6.2v6.2h-6.2z"/><path class="n" d="M513.1 567.5h6.2v6.2h-6.2z"/><path class="n" d="M513.1 554.9h6.2v6.2h-6.2z"/><path class="n" d="M514.5 556.3h6.2v6.2h-6.2z"/><path class="n" d="M515.9 532.6h6.2v6.2h-6.2z"/><path class="n" d="M517.3 549.4h6.2v6.2h-6.2z"/><path class="n" d="M517.3 482.5h6.2v6.2h-6.2z"/><path class="n" d="M517.3 561.9h6.2v6.2h-6.2z"/><path class="n" d="M518.7 524.3h6.2v6.2h-6.2z"/><path class="n" d="M520.1 564.7h6.2v6.2h-6.2z"/><path class="n" d="M521.5 561.9h6.2v6.2h-6.2z"/><path class="n" d="M521.5 536.8h6.2v6.2h-6.2z"/><path class="n" d="M522.9 503.4h6.2v6.2h-6.2z"/><path class="n" d="M522.9 600.9h6.2v6.2h-6.2z"/><path class="n" d="M524.3 552.1h6.2v6.2h-6.2z"/><path class="n" d="M525.7 549.4h6.2v6.2h-6.2z"/><path class="n" d="M525.7 559.1h6.2v6.2h-6.2z"/><path class="n" d="M525.7 582.8h6.2v6.2h-6.2z"/><path class="n" d="M527.1 557.7h6.2v6.2h-6.2z"/><path class="n" d="M528.5 528.5h6.2v6.2h-6.2z"/><path class="n" d="M528.5 538.2h6.2v6.2h-6.2z"/><path class="n" d="M529.9 564.7h6.2v6.2h-6.2z"/><path class="n" d="M531.2 493.6h6.2v6.2h-6.2z"/><path class="n" d="M531.2 592.5h6.2v6.2h-6.2z"/><path class="n" d="M532.6 568.9h6.2v6.2h-6.2z"/><path class="n" d="M534 518.7h6.2v6.2h-6.2z"/><path class="n" d="M534 534h6.2v6.2h-6.2z"/><path class="n" d="M535.4 463h6.2v6.2h-6.2z"/><path class="n" d="M535.4 520.1h6.2v6.2h-6.2z"/><path class="n" d="M536.8 554.9h6.2v6.2h-6.2z"/><path class="n" d="M538.2 560.5h6.2v6.2h-6.2z"/><path class="n" d="M538.2 527.1h6.2v6.2h-6.2z"/><path class="n" d="M539.6 524.3h6.2v6.2h-6.2z"/><path class="n" d="M541 557.7h6.2v6.2h-6.2z"/><path class="n" d="M541 517.3h6.2v6.2h-6.2z"/><path class="n" d="M542.4 507.6h6.2v6.2h-6.2z"/><path class="n" d="M543.8 534h6.2v6.2h-6.2z"/><path class="n" d="M543.8 507.6h6.2v6.2h-6.2z"/><path class="n" d="M545.2 577.2h6.2v6.2h-6.2z"/><path class="n" d="M545.2 535.4h6.2v6.2h-6.2z"/><path class="n" d="M546.6 517.3h6.2v6.2h-6.2z"/><path class="n" d="M546.6 571.6h6.2v6.2h-6.2z"/><path class="n" d="M548 545.2h6.2v6.2h-6.2z"/><path class="n" d="M549.4 559.1h6.2v6.2h-6.2z"/><path class="n" d="M549.4 561.9h6.2v6.2h-6.2z"/><path class="n" d="M550.8 534h6.2v6.2h-6.2z"/><path class="n" d="M552.1 489.4h6.2v6.2h-6.2z"/><path class="n" d="M552.1 542.4h6.2v6.2h-6.2z"/><path class="n" d="M553.5 578.6h6.2v6.2h-6.2z"/><path class="n" d="M553.5 602.3h6.2v6.2h-6.2z"/><path class="n" d="M554.9 559.1h6.2v6.2h-6.2z"/><path class="n" d="M556.3 553.5h6.2v6.2h-6.2z"/><path class="n" d="M556.3 568.9h6.2v6.2h-6.2z"/><path class="n" d="M557.7 564.7h6.2v6.2h-6.2z"/><path class="n" d="M559.1 503.4h6.2v6.2h-6.2z"/><path class="n" d="M559.1 588.4h6.2v6.2h-6.2z"/><path class="n" d="M560.5 566.1h6.2v6.2h-6.2z"/><path class="n" d="M560.5 528.5h6.2v6.2h-6.2z"/><path class="n" d="M561.9 603.7h6.2v6.2h-6.2z"/><path class="n" d="M563.3 535.4h6.2v6.2h-6.2z"/><path class="n" d="M563.3 554.9h6.2v6.2h-6.2z"/><path class="n" d="M564.7 573h6.2v6.2h-6.2z"/><path class="n" d="M564.7 567.5h6.2v6.2h-6.2z"/><path class="n" d="M566.1 567.5h6.2v6.2h-6.2z"/><path class="n" d="M566.1 541h6.2v6.2h-6.2z"/><path class="n" d="M567.5 515.9h6.2v6.2h-6.2z"/><path class="n" d="M568.9 542.4h6.2v6.2h-6.2z"/><path class="n" d="M570.3 542.4h6.2v6.2h-6.2z"/><path class="n" d="M570.3 532.6h6.2v6.2h-6.2z"/><path class="n" d="M571.6 532.6h6.2v6.2h-6.2z"/><path class="n" d="M571.6 591.2h6.2v6.2h-6.2z"/><path class="n" d="M573 557.7h6.2v6.2h-6.2z"/><path class="n" d="M573 578.6h6.2v6.2h-6.2z"/><path class="n" d="M574.4 550.8h6.2v6.2h-6.2z"/><path class="n" d="M575.8 542.4h6.2v6.2h-6.2z"/><path class="n" d="M575.8 529.9h6.2v6.2h-6.2z"/><path class="n" d="M577.2 549.4h6.2v6.2h-6.2z"/><path class="n" d="M578.6 514.5h6.2v6.2h-6.2z"/><path class="n" d="M578.6 515.9h6.2v6.2h-6.2z"/><path class="n" d="M580 557.7h6.2v6.2h-6.2z"/><path class="n" d="M581.4 548h6.2v6.2h-6.2z"/><path class="n" d="M581.4 499.2h6.2v6.2h-6.2z"/><path class="n" d="M582.8 563.3h6.2v6.2h-6.2z"/><path class="n" d="M582.8 570.3h6.2v6.2h-6.2z"/><path class="n" d="M584.2 550.8h6.2v6.2h-6.2z"/><path class="n" d="M585.6 548h6.2v6.2h-6.2z"/><path class="n" d="M585.6 557.7h6.2v6.2h-6.2z"/><path class="n" d="M587 548h6.2v6.2h-6.2z"/><path class="n" d="M587 511.7h6.2v6.2h-6.2z"/><path class="n" d="M588.4 504.8h6.2v6.2h-6.2z"/><path class="n" d="M589.8 527.1h6.2v6.2h-6.2z"/><path class="n" d="M589.8 525.7h6.2v6.2h-6.2z"/><path class="n" d="M591.2 500.6h6.2v6.2h-6.2z"/><path class="n" d="M591.2 545.2h6.2v6.2h-6.2z"/><path class="n" d="M592.5 581.4h6.2v6.2h-6.2z"/><path class="n" d="M592.5 541h6.2v6.2h-6.2z"/><path class="n" d="M593.9 497.8h6.2v6.2h-6.2z"/><path class="n" d="M595.3 536.8h6.2v6.2h-6.2z"/><path class="n" d="M595.3 543.8h6.2v6.2h-6.2z"/><path class="n" d="M596.7 541h6.2v6.2h-6.2z"/><path class="n" d="M598.1 580h6.2v6.2h-6.2z"/><path class="n" d="M598.1 528.5h6.2v6.2h-6.2z"/><path class="n" d="M599.5 538.2h6.2v6.2h-6.2z"/><path class="n" d="M600.9 545.2h6.2v6.2h-6.2z"/><path class="n" d="M600.9 550.8h6.2v6.2h-6.2z"/><path class="n" d="M602.3 574.4h6.2v6.2h-6.2z"/><path class="n" d="M602.3 525.7h6.2v6.2h-6.2z"/><path class="n" d="M603.7 538.2h6.2v6.2h-6.2z"/><path class="n" d="M605.1 541h6.2v6.2h-6.2z"/><path class="n" d="M605.1 524.3h6.2v6.2h-6.2z"/><path class="n" d="M606.5 513.1h6.2v6.2h-6.2z"/><path class="n" d="M606.5 553.5h6.2v6.2h-6.2z"/><path class="n" d="M607.9 515.9h6.2v6.2h-6.2z"/><path class="n" d="M609.3 548h6.2v6.2h-6.2z"/><path class="n" d="M609.3 535.4h6.2v6.2h-6.2z"/><path class="n" d="M610.7 534h6.2v6.2h-6.2z"/><path class="n" d="M610.7 478.3h6.2v6.2h-6.2z"/><path class="n" d="M612.1 500.6h6.2v6.2h-6.2z"/><path class="n" d="M613.4 578.6h6.2v6.2h-6.2z"/><path class="n" d="M613.4 525.7h6.2v6.2h-6.2z"/><path class="n" d="M614.8 507.6h6.2v6.2h-6.2z"/><path class="n" d="M616.2 495h6.2v6.2h-6.2z"/><path class="n" d="M616.2 522.9h6.2v6.2h-6.2z"/><path class="n" d="M617.6 559.1h6.2v6.2h-6.2z"/><path class="n" d="M617.6 517.3h6.2v6.2h-6.2z"/><path class="n" d="M619 496.4h6.2v6.2h-6.2z"/><path class="n" d="M619 475.5h6.2v6.2h-6.2z"/><path class="n" d="M620.4 539.6h6.2v6.2h-6.2z"/><path class="n" d="M621.8 510.3h6.2v6.2h-6.2z"/><path class="n" d="M623.2 493.6h6.2v6.2h-6.2z"/><path class="n" d="M623.2 486.7h6.2v6.2h-6.2z"/><path class="n" d="M624.6 521.5h6.2v6.2h-6.2z"/><path class="n" d="M626 518.7h6.2v6.2h-6.2z"/><path class="n" d="M626 522.9h6.2v6.2h-6.2z"/><path class="n" d="M626 514.5h6.2v6.2h-6.2z"/><path class="n" d="M627.4 536.8h6.2v6.2h-6.2z"/><path class="n" d="M628.8 495h6.2v6.2h-6.2z"/><path class="n" d="M628.8 541h6.2v6.2h-6.2z"/><path class="n" d="M630.2 444.9h6.2v6.2h-6.2z"/><path class="n" d="M630.2 492.2h6.2v6.2h-6.2z"/><path class="n" d="M631.6 449h6.2v6.2h-6.2z"/><path class="n" d="M633 511.7h6.2v6.2h-6.2z"/><path class="n" d="M633 521.5h6.2v6.2h-6.2z"/><path class="n" d="M634.4 443.5h6.2v6.2h-6.2z"/><path class="n" d="M635.7 467.1h6.2v6.2h-6.2z"/><path class="n" d="M635.7 483.9h6.2v6.2h-6.2z"/><path class="n" d="M637.1 446.2h6.2v6.2h-6.2z"/><path class="n" d="M638.5 506.2h6.2v6.2h-6.2z"/><path class="n" d="M638.5 456h6.2v6.2h-6.2z"/><path class="n" d="M639.9 479.7h6.2v6.2h-6.2z"/><path class="n" d="M639.9 458.8h6.2v6.2h-6.2z"/><path class="n" d="M641.3 508.9h6.2v6.2h-6.2z"/><path class="n" d="M642.7 499.2h6.2v6.2h-6.2z"/><path class="n" d="M642.7 471.3h6.2v6.2h-6.2z"/><path class="n" d="M644.1 475.5h6.2v6.2h-6.2z"/><path class="n" d="M644.1 465.8h6.2v6.2h-6.2z"/><path class="n" d="M645.5 499.2h6.2v6.2h-6.2z"/><path class="n" d="M646.9 483.9h6.2v6.2h-6.2z"/><path class="n" d="M646.9 469.9h6.2v6.2h-6.2z"/><path class="n" d="M648.3 481.1h6.2v6.2h-6.2z"/><path class="n" d="M648.3 479.7h6.2v6.2h-6.2z"/><path class="n" d="M649.7 497.8h6.2v6.2h-6.2z"/><path class="n" d="M651.1 450.4h6.2v6.2h-6.2z"/><path class="n" d="M651.1 482.5h6.2v6.2h-6.2z"/><path class="n" d="M652.5 489.4h6.2v6.2h-6.2z"/><path class="n" d="M653.9 469.9h6.2v6.2h-6.2z"/><path class="n" d="M653.9 451.8h6.2v6.2h-6.2z"/><path class="n" d="M655.2 485.3h6.2v6.2h-6.2z"/><path class="n" d="M656.6 443.5h6.2v6.2h-6.2z"/><path class="n" d="M656.6 446.2h6.2v6.2h-6.2z"/><path class="n" d="M658 425.3h6.2v6.2h-6.2z"/><path class="n" d="M658 421.2h6.2v6.2h-6.2z"/><path class="n" d="M659.4 433.7h6.2v6.2h-6.2z"/><path class="n" d="M659.4 456h6.2v6.2h-6.2z"/><path class="n" d="M660.8 444.9h6.2v6.2h-6.2z"/><path class="n" d="M660.8 481.1h6.2v6.2h-6.2z"/><path class="n" d="M662.2 457.4h6.2v6.2h-6.2z"/><path class="n" d="M663.6 453.2h6.2v6.2h-6.2z"/><path class="n" d="M663.6 428.1h6.2v6.2h-6.2z"/><path class="n" d="M665 439.3h6.2v6.2h-6.2z"/><path class="n" d="M666.4 463h6.2v6.2h-6.2z"/><path class="n" d="M667.8 486.7h6.2v6.2h-6.2z"/><path class="n" d="M667.8 430.9h6.2v6.2h-6.2z"/><path class="n" d="M669.2 436.5h6.2v6.2h-6.2z"/><path class="n" d="M669.2 435.1h6.2v6.2h-6.2z"/><path class="n" d="M670.6 469.9h6.2v6.2h-6.2z"/><path class="n" d="M670.6 443.5h6.2v6.2h-6.2z"/><path class="n" d="M672 467.1h6.2v6.2h-6.2z"/><path class="n" d="M673.4 460.2h6.2v6.2h-6.2z"/><path class="n" d="M673.4 424h6.2v6.2h-6.2z"/><path class="n" d="M674.8 460.2h6.2v6.2h-6.2z"/><path class="n" d="M674.8 489.4h6.2v6.2h-6.2z"/><path class="n" d="M676.1 467.1h6.2v6.2h-6.2z"/><path class="n" d="M677.5 453.2h6.2v6.2h-6.2z"/><path class="n" d="M677.5 428.1h6.2v6.2h-6.2z"/><path class="n" d="M678.9 463h6.2v6.2h-6.2z"/><path class="n" d="M678.9 432.3h6.2v6.2h-6.2z"/><path class="n" d="M680.3 458.8h6.2v6.2h-6.2z"/><path class="n" d="M681.7 432.3h6.2v6.2h-6.2z"/><path class="n" d="M681.7 410h6.2v6.2h-6.2z"/><path class="n" d="M683.1 460.2h6.2v6.2h-6.2z"/><path class="n" d="M684.5 411.4h6.2v6.2h-6.2z"/><path class="n" d="M685.9 428.1h6.2v6.2h-6.2z"/><path class="n" d="M685.9 443.5h6.2v6.2h-6.2z"/><path class="n" d="M685.9 458.8h6.2v6.2h-6.2z"/><path class="n" d="M687.3 478.3h6.2v6.2h-6.2z"/><path class="n" d="M688.7 476.9h6.2v6.2h-6.2z"/><path class="n" d="M688.7 453.2h6.2v6.2h-6.2z"/><path class="n" d="M690.1 461.6h6.2v6.2h-6.2z"/><path class="n" d="M690.1 482.5h6.2v6.2h-6.2z"/><path class="n" d="M691.5 464.4h6.2v6.2h-6.2z"/><path class="n" d="M692.9 430.9h6.2v6.2h-6.2z"/><path class="n" d="M692.9 458.8h6.2v6.2h-6.2z"/><path class="n" d="M694.3 439.3h6.2v6.2h-6.2z"/><path class="n" d="M695.7 451.8h6.2v6.2h-6.2z"/><path class="n" d="M695.7 483.9h6.2v6.2h-6.2z"/><path class="n" d="M697 437.9h6.2v6.2h-6.2z"/><path class="n" d="M698.4 471.3h6.2v6.2h-6.2z"/><path class="n" d="M698.4 450.4h6.2v6.2h-6.2z"/><path class="n" d="M698.4 474.1h6.2v6.2h-6.2z"/><path class="n" d="M699.8 464.4h6.2v6.2h-6.2z"/><path class="n" d="M701.2 474.1h6.2v6.2h-6.2z"/><path class="n" d="M702.6 450.4h6.2v6.2h-6.2z"/><path class="n" d="M702.6 465.8h6.2v6.2h-6.2z"/><path class="n" d="M704 432.3h6.2v6.2h-6.2z"/><path class="n" d="M704 437.9h6.2v6.2h-6.2z"/><path class="n" d="M705.4 449h6.2v6.2h-6.2z"/><path class="n" d="M706.8 450.4h6.2v6.2h-6.2z"/><path class="n" d="M706.8 465.8h6.2v6.2h-6.2z"/><path class="n" d="M708.2 407.2h6.2v6.2h-6.2z"/><path class="n" d="M709.6 495h6.2v6.2h-6.2z"/><path class="n" d="M709.6 476.9h6.2v6.2h-6.2z"/><path class="n" d="M709.6 490.8h6.2v6.2h-6.2z"/><path class="n" d="M711 411.4h6.2v6.2h-6.2z"/><path class="n" d="M712.4 419.8h6.2v6.2h-6.2z"/><path class="n" d="M713.8 446.2h6.2v6.2h-6.2z"/><path class="n" d="M713.8 424h6.2v6.2h-6.2z"/><path class="n" d="M715.2 463h6.2v6.2h-6.2z"/><path class="n" d="M715.2 465.8h6.2v6.2h-6.2z"/><path class="n" d="M716.6 446.2h6.2v6.2h-6.2z"/><path class="n" d="M716.6 464.4h6.2v6.2h-6.2z"/><path class="n" d="M717.9 453.2h6.2v6.2h-6.2z"/><path class="n" d="M719.3 496.4h6.2v6.2h-6.2z"/><path class="n" d="M719.3 482.5h6.2v6.2h-6.2z"/><path class="n" d="M720.7 475.5h6.2v6.2h-6.2z"/><path class="n" d="M722.1 479.7h6.2v6.2h-6.2z"/><path class="n" d="M722.1 449h6.2v6.2h-6.2z"/><path class="n" d="M723.5 464.4h6.2v6.2h-6.2z"/><path class="n" d="M724.9 460.2h6.2v6.2h-6.2z"/><path class="n" d="M724.9 446.2h6.2v6.2h-6.2z"/><path class="n" d="M726.3 456h6.2v6.2h-6.2z"/><path class="n" d="M727.7 411.4h6.2v6.2h-6.2z"/><path class="n" d="M727.7 461.6h6.2v6.2h-6.2z"/><path class="n" d="M727.7 430.9h6.2v6.2h-6.2z"/><path class="n" d="M729.1 447.6h6.2v6.2h-6.2z"/><path class="n" d="M730.5 428.1h6.2v6.2h-6.2z"/><path class="n" d="M731.9 439.3h6.2v6.2h-6.2z"/><path class="n" d="M731.9 463h6.2v6.2h-6.2z"/><path class="n" d="M731.9 426.7h6.2v6.2h-6.2z"/><path class="n" d="M733.3 493.6h6.2v6.2h-6.2z"/><path class="n" d="M734.7 479.7h6.2v6.2h-6.2z"/><path class="n" d="M734.7 463h6.2v6.2h-6.2z"/><path class="n" d="M736.1 440.7h6.2v6.2h-6.2z"/><path class="n" d="M737.5 475.5h6.2v6.2h-6.2z"/><path class="n" d="M737.5 472.7h6.2v6.2h-6.2z"/><path class="n" d="M738.9 432.3h6.2v6.2h-6.2z"/><path class="n" d="M740.2 435.1h6.2v6.2h-6.2z"/><path class="n" d="M740.2 479.7h6.2v6.2h-6.2z"/><path class="n" d="M741.6 460.2h6.2v6.2h-6.2z"/><path class="n" d="M743 497.8h6.2v6.2h-6.2z"/><path class="n" d="M743 476.9h6.2v6.2h-6.2z"/><path class="n" d="M744.4 424h6.2v6.2h-6.2z"/><path class="n" d="M744.4 454.6h6.2v6.2h-6.2z"/><path class="n" d="M745.8 482.5h6.2v6.2h-6.2z"/><path class="n" d="M745.8 472.7h6.2v6.2h-6.2z"/><path class="n" d="M747.2 472.7h6.2v6.2h-6.2z"/><path class="n" d="M747.2 457.4h6.2v6.2h-6.2z"/><path class="n" d="M748.6 437.9h6.2v6.2h-6.2z"/><path class="n" d="M750 485.3h6.2v6.2h-6.2z"/><path class="n" d="M751.4 457.4h6.2v6.2h-6.2z"/><path class="n" d="M751.4 426.7h6.2v6.2h-6.2z"/><path class="n" d="M752.8 432.3h6.2v6.2h-6.2z"/><path class="n" d="M752.8 436.5h6.2v6.2h-6.2z"/><path class="n" d="M754.2 482.5h6.2v6.2h-6.2z"/><path class="n" d="M755.6 482.5h6.2v6.2h-6.2z"/><path class="n" d="M755.6 474.1h6.2v6.2h-6.2z"/><path class="n" d="M757 401.7h6.2v6.2h-6.2z"/><path class="n" d="M758.4 444.9h6.2v6.2h-6.2z"/><path class="n" d="M758.4 456h6.2v6.2h-6.2z"/></g><path d="M97.6 184.4 L99.6 184.5 L101.6 184.7 L103.6 184.8 L105.6 185 L107.6 185.1 L109.6 185.3 L111.6 185.4 L113.6 185.6 L115.6 185.7 L117.6 185.9 L119.6 186 L121.6 186.2 L123.6 186.3 L125.6 186.5 L127.6 186.6 L129.6 186.8 L131.6 186.9 L133.6 187.1 L135.6 187.2 L137.6 187.4 L139.6 187.5 L141.6 187.7 L143.6 187.8 L145.6 188 L147.6 188.1 L149.6 188.3 L151.6 188.4 L153.6 188.6 L155.6 188.7 L157.6 188.9 L159.6 189 L161.6 189.2 L163.6 189.3 L165.6 189.5 L167.6 189.6 L169.6 189.8 L171.6 189.9 L173.6 190.1 L175.6 190.4 L177.6 191.2 L179.6 192.7 L181.6 194.4 L183.6 196.4 L185.6 198.3 L187.6 200.3 L189.6 202.6 L191.6 205.1 L193.6 207.8 L195.6 210.5 L197.6 213.3 L199.6 216 L201.6 218.8 L203.6 221.7 L205.6 224.7 L207.6 227.8 L209.6 231 L211.6 234.5 L213.6 238.1 L215.6 241.7 L217.6 245.3 L219.6 248.6 L221.6 251.7 L223.6 254.8 L225.6 257.7 L227.6 260.5 L229.6 263.1 L231.6 265.3 L233.6 267.3 L235.6 269.2 L237.6 270.9 L239.6 272.5 L241.6 273.9 L243.6 275 L245.6 276 L247.6 276.8 L249.6 277.6 L251.6 278.3 L253.6 279 L255.6 279.7 L257.6 280.3 L259.6 281 L261.6 281.6 L263.6 282.2 L265.6 282.8 L267.6 283.4 L269.6 283.9 L271.6 284.5 L273.6 285 L275.6 285.6 L277.6 286.1 L279.6 286.6 L281.6 287.1 L283.6 287.6 L285.6 288.1 L287.6 288.6 L289.6 289.1 L291.6 289.6 L293.6 290 L295.6 290.5 L297.6 291 L299.6 291.4 L301.6 291.9 L303.6 292.4 L305.6 292.9 L307.6 293.4 L309.6 293.8 L311.6 294.3 L313.6 294.8 L315.6 295.3 L317.6 295.7 L319.6 296.2 L321.6 296.7 L323.6 297.1 L325.6 297.5 L327.6 298 L329.6 298.4 L331.6 298.8 L333.6 299.2 L335.6 299.6 L337.6 300 L339.6 300.4 L341.6 300.8 L343.6 301.1 L345.6 301.5 L347.6 301.9 L349.6 302.3 L351.6 302.7 L353.6 303 L355.6 303.4 L357.6 303.7 L359.6 304.1 L361.6 304.4 L363.6 304.7 L365.6 305 L367.6 305.3 L369.6 305.6 L371.6 305.8 L373.6 306.1 L375.6 306.3 L377.6 306.5 L379.6 306.8 L381.6 307 L383.6 307.2 L385.6 307.4 L387.6 307.6 L389.6 307.9 L391.6 308.1 L393.6 308.3 L395.6 308.5 L397.6 308.7 L399.6 308.9 L401.6 309.1 L403.6 309.3 L405.6 309.5 L407.6 309.7 L409.6 309.8 L411.6 310 L413.6 310.2 L415.6 310.4 L417.6 310.5 L419.6 310.7 L421.6 310.8 L423.6 311 L425.6 311.1 L427.6 311.3 L429.6 311.4 L431.6 311.5 L433.6 311.6 L435.6 311.8 L437.6 311.9 L439.6 312 L441.6 312.1 L443.6 312.2 L445.6 312.3 L447.6 312.4 L449.6 312.5 L451.6 312.6 L453.6 312.7 L455.6 312.8 L457.6 312.8 L459.6 312.9 L461.6 313 L463.6 313.1 L465.6 313.2 L467.6 313.2 L469.6 313.3 L471.6 313.4 L473.6 313.4 L475.6 313.4 L477.6 313.4 L479.6 313.4 L481.6 313.4 L483.6 313.4 L485.6 313.4 L487.6 313.3 L489.6 313.3 L491.6 313.2 L493.6 313.1 L495.6 313.1 L497.6 313 L499.6 312.9 L501.6 312.8 L503.6 312.7 L505.6 312.6 L507.6 312.6 L509.6 312.5 L511.6 312.4 L513.6 312.3 L515.6 312.2 L517.6 312 L519.6 311.9 L521.6 311.7 L523.6 311.6 L525.6 311.4 L527.6 311.3 L529.6 311.1 L531.6 310.9 L533.6 310.7 L535.6 310.5 L537.6 310.4 L539.6 310.2 L541.6 310 L543.6 309.8 L545.6 309.7 L547.6 309.5 L549.6 309.3 L551.6 309.1 L553.6 309 L555.6 308.8 L557.6 308.6 L559.6 308.4 L561.6 308.2 L563.6 308 L565.6 307.8 L567.6 307.5 L569.6 307.3 L571.6 307.1 L573.6 306.8 L575.6 306.6 L577.6 306.3 L579.6 306 L581.6 305.7 L583.6 305.4 L585.6 305.1 L587.6 304.7 L589.6 304.3 L591.6 304 L593.6 303.6 L595.6 303.1 L597.6 302.6 L599.6 302 L601.6 301.2 L603.6 300.2 L605.6 299.1 L607.6 297.7 L609.6 296.2 L611.6 294.5 L613.6 292.7 L615.6 290.6 L617.6 288.1 L619.6 285.5 L621.6 282.8 L623.6 280 L625.6 277.1 L627.6 273.9 L629.6 270.6 L631.6 267.2 L633.6 264 L635.6 261 L637.6 258.2 L639.6 255.5 L641.6 252.8 L643.6 250.3 L645.6 247.8 L647.6 245.4 L649.6 242.9 L651.6 240.5 L653.6 238.2 L655.6 236.1 L657.6 234.3 L659.6 232.7 L661.6 231.1 L663.6 229.5 L665.6 228.2 L667.6 227.4 L669.6 227.2 L671.6 227.3 L673.6 227.5 L675.6 227.6 L677.6 227.8 L679.6 227.9 L681.6 228.1 L683.6 228.2 L685.6 228.4 L687.6 228.5 L689.6 228.7 L691.6 228.8 L693.6 229 L695.6 229.1 L697.6 229.3 L699.6 229.4 L701.6 229.6 L703.6 229.7 L705.6 229.9 L707.6 230 L709.6 230.2 L711.6 230.3 L713.6 230.5 L715.6 230.6 L717.6 230.8 L719.6 230.9 L721.6 231.1 L723.6 231.2 L725.6 231.4 L727.6 231.5 L729.6 231.7 L731.6 231.8 L733.6 232 L735.6 232.1 L737.6 232.3 L739.6 232.4 L741.6 232.6 L743.6 232.7 L745.6 232.9 L747.6 233 L749.6 233.2 L751.6 233.3 L753.6 233.5 L755.6 233.6 L757.6 233.8" fill="none" stroke="#0018f0" stroke-width="1.6"/><path d="M97.6 457.5 L99.6 457.5 L101.6 457.5 L103.6 457.5 L105.6 457.5 L107.6 457.5 L109.6 457.5 L111.6 457.5 L113.6 457.5 L115.6 457.5 L117.6 457.5 L119.6 457.5 L121.6 457.5 L123.6 457.5 L125.6 457.5 L127.6 457.5 L129.6 457.5 L131.6 457.5 L133.6 457.5 L135.6 457.5 L137.6 457.5 L139.6 457.5 L141.6 457.5 L143.6 457.5 L145.6 457.5 L147.6 457.5 L149.6 457.5 L151.6 457.5 L153.6 457.5 L155.6 457.5 L157.6 457.5 L159.6 457.5 L161.6 457.5 L163.6 457.5 L165.6 457.5 L167.6 457.5 L169.6 457.5 L171.6 457.5 L173.6 457.5 L175.6 457.6 L177.6 458.4 L179.6 459.6 L181.6 461.3 L183.6 463 L185.6 464.8 L187.6 466.7 L189.6 468.8 L191.6 471.2 L193.6 473.7 L195.6 476.3 L197.6 478.9 L199.6 481.5 L201.6 484.2 L203.6 486.9 L205.6 489.8 L207.6 492.7 L209.6 495.7 L211.6 499 L213.6 502.5 L215.6 506 L217.6 509.4 L219.6 512.6 L221.6 515.6 L223.6 518.5 L225.6 521.3 L227.6 523.9 L229.6 526.3 L231.6 528.4 L233.6 530.3 L235.6 532 L237.6 533.6 L239.6 535 L241.6 536.2 L243.6 537.2 L245.6 538 L247.6 538.7 L249.6 539.3 L251.6 539.9 L253.6 540.4 L255.6 541 L257.6 541.5 L259.6 542 L261.6 542.4 L263.6 542.9 L265.6 543.3 L267.6 543.7 L269.6 544.2 L271.6 544.6 L273.6 545 L275.6 545.3 L277.6 545.7 L279.6 546.1 L281.6 546.5 L283.6 546.8 L285.6 547.2 L287.6 547.5 L289.6 547.8 L291.6 548.1 L293.6 548.5 L295.6 548.8 L297.6 549.1 L299.6 549.4 L301.6 549.8 L303.6 550.1 L305.6 550.4 L307.6 550.7 L309.6 551.1 L311.6 551.4 L313.6 551.7 L315.6 552.1 L317.6 552.4 L319.6 552.7 L321.6 553 L323.6 553.3 L325.6 553.6 L327.6 553.9 L329.6 554.1 L331.6 554.4 L333.6 554.7 L335.6 554.9 L337.6 555.1 L339.6 555.4 L341.6 555.6 L343.6 555.8 L345.6 556.1 L347.6 556.3 L349.6 556.5 L351.6 556.8 L353.6 557 L355.6 557.2 L357.6 557.4 L359.6 557.6 L361.6 557.7 L363.6 557.9 L365.6 558.1 L367.6 558.2 L369.6 558.3 L371.6 558.4 L373.6 558.5 L375.6 558.6 L377.6 558.7 L379.6 558.8 L381.6 558.8 L383.6 558.9 L385.6 559 L387.6 559.1 L389.6 559.1 L391.6 559.2 L393.6 559.2 L395.6 559.3 L397.6 559.4 L399.6 559.4 L401.6 559.4 L403.6 559.5 L405.6 559.5 L407.6 559.6 L409.6 559.6 L411.6 559.6 L413.6 559.7 L415.6 559.7 L417.6 559.7 L419.6 559.7 L421.6 559.7 L423.6 559.7 L425.6 559.7 L427.6 559.7 L429.6 559.7 L431.6 559.6 L433.6 559.6 L435.6 559.6 L437.6 559.5 L439.6 559.5 L441.6 559.5 L443.6 559.4 L445.6 559.4 L447.6 559.3 L449.6 559.3 L451.6 559.2 L453.6 559.1 L455.6 559.1 L457.6 559 L459.6 558.9 L461.6 558.9 L463.6 558.8 L465.6 558.7 L467.6 558.7 L469.6 558.6 L471.6 558.5 L473.6 558.4 L475.6 558.3 L477.6 558.1 L479.6 558 L481.6 557.8 L483.6 557.6 L485.6 557.4 L487.6 557.3 L489.6 557 L491.6 556.8 L493.6 556.6 L495.6 556.4 L497.6 556.2 L499.6 555.9 L501.6 555.7 L503.6 555.5 L505.6 555.2 L507.6 555 L509.6 554.7 L511.6 554.5 L513.6 554.3 L515.6 554 L517.6 553.7 L519.6 553.4 L521.6 553.1 L523.6 552.8 L525.6 552.5 L527.6 552.2 L529.6 551.9 L531.6 551.5 L533.6 551.2 L535.6 550.9 L537.6 550.5 L539.6 550.2 L541.6 549.9 L543.6 549.6 L545.6 549.2 L547.6 548.9 L549.6 548.6 L551.6 548.3 L553.6 548 L555.6 547.6 L557.6 547.3 L559.6 546.9 L561.6 546.6 L563.6 546.2 L565.6 545.9 L567.6 545.5 L569.6 545.1 L571.6 544.7 L573.6 544.3 L575.6 543.9 L577.6 543.5 L579.6 543.1 L581.6 542.6 L583.6 542.2 L585.6 541.7 L587.6 541.2 L589.6 540.6 L591.6 540.1 L593.6 539.6 L595.6 539 L597.6 538.3 L599.6 537.5 L601.6 536.6 L603.6 535.5 L605.6 534.2 L607.6 532.6 L609.6 531 L611.6 529.2 L613.6 527.2 L615.6 524.9 L617.6 522.4 L619.6 519.6 L621.6 516.7 L623.6 513.8 L625.6 510.7 L627.6 507.4 L629.6 503.9 L631.6 500.4 L633.6 497 L635.6 493.9 L637.6 490.9 L639.6 488 L641.6 485.3 L643.6 482.5 L645.6 479.9 L647.6 477.3 L649.6 474.8 L651.6 472.2 L653.6 469.7 L655.6 467.5 L657.6 465.5 L659.6 463.8 L661.6 462 L663.6 460.3 L665.6 458.8 L667.6 457.8 L669.6 457.5 L671.6 457.5 L673.6 457.5 L675.6 457.5 L677.6 457.5 L679.6 457.5 L681.6 457.5 L683.6 457.5 L685.6 457.5 L687.6 457.5 L689.6 457.5 L691.6 457.5 L693.6 457.5 L695.6 457.5 L697.6 457.5 L699.6 457.5 L701.6 457.5 L703.6 457.5 L705.6 457.5 L707.6 457.5 L709.6 457.5 L711.6 457.5 L713.6 457.5 L715.6 457.5 L717.6 457.5 L719.6 457.5 L721.6 457.5 L723.6 457.5 L725.6 457.5 L727.6 457.5 L729.6 457.5 L731.6 457.5 L733.6 457.5 L735.6 457.5 L737.6 457.5 L739.6 457.5 L741.6 457.5 L743.6 457.5 L745.6 457.5 L747.6 457.5 L749.6 457.5 L751.6 457.5 L753.6 457.5 L755.6 457.5 L757.6 457.5" fill="none" stroke="#5c5c5c" stroke-width="1.6"/><path d="M422.1 55.1V732.9" stroke="#ff1c1c" stroke-width="2"/><rect x="64.2" y="4.9" width="728.5" height="728" fill="none" stroke="#000" stroke-width="1.8"/><path d="M64.2 41.9h8M792.7 41.9h-8M64.2 79.4h8M792.7 79.4h-8M64.2 116.9h8M792.7 116.9h-8M64.2 154.5h8M792.7 154.5h-8M64.2 192h8M792.7 192h-8M64.2 229.5h8M792.7 229.5h-8M64.2 267h8M792.7 267h-8M64.2 304.5h8M792.7 304.5h-8M64.2 342.1h8M792.7 342.1h-8M64.2 379.6h8M792.7 379.6h-8M64.2 417.1h8M792.7 417.1h-8M64.2 454.6h8M792.7 454.6h-8M64.2 492.1h8M792.7 492.1h-8M64.2 529.7h8M792.7 529.7h-8M64.2 567.2h8M792.7 567.2h-8M64.2 604.7h8M792.7 604.7h-8M64.2 642.2h8M792.7 642.2h-8M64.2 679.7h8M792.7 679.7h-8M64.2 717.3h8M792.7 717.3h-8M326 732.9v-8.6M612.8 732.9v-8.6" stroke="#000" stroke-width="1.8"/><g class="t"><text transform="translate(61 11.7) scale(1 1.1)" text-anchor="end">-0.36</text><text transform="translate(61 49.2) scale(1 1.1)" text-anchor="end">-0.35</text><text transform="translate(61 86.7) scale(1 1.1)" text-anchor="end">-0.34</text><text transform="translate(61 124.2) scale(1 1.1)" text-anchor="end">-0.33</text><text transform="translate(61 161.8) scale(1 1.1)" text-anchor="end">-0.32</text><text transform="translate(61 199.3) scale(1 1.1)" text-anchor="end">-0.31</text><text transform="translate(61 236.8) scale(1 1.1)" text-anchor="end">-0.30</text><text transform="translate(61 274.3) scale(1 1.1)" text-anchor="end">-0.29</text><text transform="translate(61 311.8) scale(1 1.1)" text-anchor="end">-0.28</text><text transform="translate(61 349.4) scale(1 1.1)" text-anchor="end">-0.27</text><text transform="translate(61 386.9) scale(1 1.1)" text-anchor="end">-0.26</text><text transform="translate(61 424.4) scale(1 1.1)" text-anchor="end">-0.25</text><text transform="translate(61 461.9) scale(1 1.1)" text-anchor="end">-0.24</text><text transform="translate(61 499.4) scale(1 1.1)" text-anchor="end">-0.23</text><text transform="translate(61 537) scale(1 1.1)" text-anchor="end">-0.22</text><text transform="translate(61 574.5) scale(1 1.1)" text-anchor="end">-0.21</text><text transform="translate(61 612) scale(1 1.1)" text-anchor="end">-0.20</text><text transform="translate(61 649.5) scale(1 1.1)" text-anchor="end">-0.19</text><text transform="translate(61 687) scale(1 1.1)" text-anchor="end">-0.18</text><text transform="translate(61 724.6) scale(1 1.1)" text-anchor="end">-0.17</text><text transform="translate(327.5 757.6) scale(1 1.1)" text-anchor="middle">0.50</text><text transform="translate(614.3 757.6) scale(1 1.1)" text-anchor="middle">0.55</text></g><text transform="translate(42.5 75.3) scale(1 1.1)" class="t" fill="#c4c4cc">transit begin</text><text transform="translate(677.3 75.3) scale(1 1.1)" class="t" fill="#c4c4cc">transit end</text><text transform="translate(374.4 28.4) scale(1 1.1)" class="t" fill="#ff2020">JDmid: 0.51683000009507</text><text class="b" transform="translate(816.6 292.7) rotate(-90)" fill="#000" stroke="#000">Original data</text><text class="b" transform="translate(816.6 602) rotate(-90)" fill="#262688" stroke="#262688">Trend removed</text><text class="b" transform="translate(18.6 369.9) rotate(-90)" fill="#000" stroke="#000">MAG</text><path d="M64.2 917.7H792.7" stroke="#0a1ff0" stroke-width="1.6"/><g><path class="e" d="M95.4 920.3v19.5M96.8 885.5v22.3M98.2 903.6v22.3M98.2 899.4v25.1M99.6 914.7v22.3M99.6 893.8v22.3M101 905v25.1M101 905v22.3M102.4 902.2v22.3M103.8 902.2v22.3M103.8 913.3v22.3M105.2 905v25.1M105.2 896.6v22.3M106.6 911.9v22.3M108 930v22.3M108 898v22.3M109.4 910.5v22.3M110.8 917.5v22.3M110.8 900.8v22.3M112.2 899.4v22.3M112.2 907.8v22.3M113.6 898v22.3M115 895.2v25.1M115 917.5v19.5M116.3 903.6v22.3M116.3 903.6v22.3M117.7 909.1v22.3M119.1 898v22.3M119.1 907.8v22.3M120.5 909.1v22.3M120.5 910.5v22.3M121.9 905v25.1M123.3 903.6v22.3M123.3 925.9v22.3M124.7 899.4v22.3M126.1 906.4v22.3M126.1 914.7v22.3M127.5 886.9v25.1M127.5 928.7v22.3M128.9 889.6v22.3M130.3 913.3v22.3M130.3 911.9v22.3M131.7 911.9v22.3M131.7 910.5v22.3M133.1 918.9v25.1M133.1 898v19.5M134.5 891v19.5M135.8 913.3v25.1M137.2 885.5v22.3M137.2 907.8v22.3M138.6 916.1v19.5M138.6 920.3v22.3M140 913.3v22.3M141.4 905v25.1M141.4 900.8v22.3M142.8 895.2v25.1M142.8 898v22.3M144.2 910.5v22.3M145.6 903.6v22.3M145.6 896.6v22.3M147 902.2v25.1M148.4 906.4v22.3M148.4 902.2v22.3M149.8 900.8v22.3M149.8 905v19.5M151.2 907.8v22.3M151.2 909.1v22.3M152.6 909.1v25.1M154 900.8v22.3M155.4 905v22.3M155.4 906.4v19.5M155.4 911.9v22.3M156.8 917.5v19.5M158.1 923.1v22.3M158.1 900.8v22.3M159.5 911.9v22.3M159.5 909.1v22.3M160.9 920.3v22.3M162.3 896.6v25.1M163.7 905v19.5M163.7 892.4v22.3M165.1 898v19.5M165.1 918.9v22.3M166.5 909.1v25.1M166.5 909.1v22.3M167.9 882.7v22.3M169.3 893.8v22.3M169.3 899.4v22.3M170.7 903.6v25.1M170.7 924.5v22.3M172.1 902.2v25.1M173.5 895.2v22.3M173.5 914.7v22.3M174.9 906.4v22.3M176.3 899.4v25.1M176.3 903.6v22.3M177.7 911.9v22.3M179 891v25.1M179 916.1v22.3M180.4 924.5v22.3M180.4 909.1v25.1M181.8 920.3v22.3M183.2 903.6v22.3M183.2 906.4v22.3M184.6 913.3v22.3M184.6 914.7v22.3M186 906.4v22.3M187.4 893.8v19.5M187.4 924.5v22.3M188.8 913.3v22.3M188.8 909.1v22.3M190.2 909.1v25.1M191.6 907.8v22.3M193 910.5v22.3M193 918.9v22.3M194.4 885.5v22.3M194.4 913.3v25.1M195.8 918.9v22.3M195.8 906.4v22.3M197.2 916.1v25.1M198.5 900.8v22.3M198.5 900.8v22.3M199.9 903.6v22.3M199.9 895.2v19.5M201.3 889.6v25.1M202.7 893.8v22.3M202.7 903.6v25.1M204.1 916.1v25.1M205.5 910.5v25.1M205.5 902.2v25.1M206.9 903.6v22.3M208.3 906.4v22.3M208.3 916.1v22.3M209.7 902.2v22.3M209.7 914.7v19.5M211.1 905v25.1M211.1 898v22.3M212.5 898v22.3M212.5 924.5v22.3M215.3 900.8v22.3M215.3 896.6v22.3M216.7 905v19.5M216.7 913.3v22.3M218.1 896.6v22.3M219.4 902.2v22.3M219.4 902.2v22.3M220.8 917.5v19.5M220.8 913.3v22.3M222.2 909.1v22.3M223.6 902.2v22.3M223.6 885.5v25.1M225 907.8v22.3M225 892.4v22.3M226.4 905v22.3M227.8 888.2v22.3M227.8 902.2v22.3M229.2 917.5v22.3M229.2 920.3v22.3M230.6 916.1v22.3M232 923.1v22.3M232 903.6v19.5M233.4 906.4v22.3M234.8 911.9v19.5M234.8 907.8v22.3M236.2 903.6v22.3M236.2 905v22.3M237.6 899.4v19.5M237.6 906.4v25.1M239 903.6v19.5M240.3 916.1v25.1M240.3 895.2v22.3M241.7 907.8v22.3M243.1 913.3v22.3M243.1 903.6v22.3M244.5 900.8v25.1M244.5 905v19.5M245.9 900.8v22.3M247.3 905v25.1M248.7 902.2v22.3M248.7 910.5v22.3M250.1 893.8v22.3M250.1 916.1v25.1M251.5 910.5v22.3M251.5 911.9v22.3M252.9 907.8v22.3M252.9 907.8v25.1M254.3 903.6v22.3M255.7 893.8v22.3M255.7 902.2v25.1M257.1 909.1v22.3M258.5 914.7v22.3M258.5 898v22.3M259.9 889.6v22.3M259.9 898v22.3M261.2 913.3v22.3M261.2 924.5v22.3M262.6 905v25.1M264 893.8v22.3M265.4 918.9v25.1M265.4 905v22.3M266.8 917.5v22.3M266.8 909.1v22.3M268.2 934.2v22.3M268.2 892.4v22.3M269.6 879.9v22.3M271 914.7v19.5M272.4 921.7v25.1M272.4 892.4v22.3M273.8 924.5v19.5M275.2 917.5v22.3M275.2 907.8v22.3M276.6 910.5v22.3M276.6 903.6v22.3M278 905v19.5M278 896.6v22.3M279.4 893.8v22.3M279.4 927.3v22.3M280.8 914.7v22.3M282.1 913.3v22.3M282.1 920.3v19.5M283.5 916.1v22.3M284.9 896.6v22.3M284.9 916.1v22.3M286.3 906.4v22.3M287.7 914.7v22.3M287.7 917.5v25.1M289.1 913.3v22.3M289.1 903.6v19.5M290.5 911.9v22.3M291.9 917.5v25.1M291.9 905v25.1M293.3 900.8v19.5M293.3 896.6v22.3M294.7 918.9v22.3M294.7 905v22.3M296.1 916.1v19.5M297.5 892.4v25.1M298.9 896.6v22.3M298.9 916.1v22.3M300.3 896.6v22.3M300.3 898v22.3M301.7 921.7v22.3M301.7 892.4v19.5M303.1 910.5v22.3M304.4 902.2v19.5M305.8 882.7v19.5M305.8 893.8v22.3M305.8 913.3v22.3M307.2 906.4v22.3M308.6 898v25.1M310 899.4v22.3M310 911.9v22.3M311.4 900.8v22.3M312.8 911.9v19.5M312.8 910.5v19.5M312.8 892.4v22.3M314.2 916.1v25.1M315.6 896.6v22.3M315.6 914.7v25.1M317 909.1v22.3M317 914.7v22.3M318.4 911.9v22.3M319.8 910.5v22.3M321.2 891v25.1M321.2 898v22.3M322.6 916.1v19.5M322.6 895.2v22.3M323.9 907.8v22.3M323.9 888.2v22.3M325.3 914.7v22.3M326.7 909.1v25.1M328.1 893.8v22.3M328.1 909.1v22.3M329.5 910.5v19.5M329.5 907.8v19.5M330.9 902.2v22.3M330.9 903.6v22.3M332.3 914.7v22.3M333.7 913.3v19.5M333.7 907.8v25.1M335.1 900.8v19.5M336.5 913.3v22.3M336.5 895.2v22.3M336.5 917.5v22.3M337.9 906.4v25.1M339.3 896.6v22.3M340.7 900.8v22.3M340.7 900.8v22.3M342.1 913.3v22.3M343.5 891v22.3M343.5 917.5v19.5M344.9 893.8v25.1M344.9 906.4v22.3M346.2 888.2v25.1M347.6 889.6v22.3M347.6 910.5v22.3M349 891v22.3M350.4 931.4v22.3M350.4 879.9v22.3M350.4 918.9v22.3M351.8 916.1v25.1M353.2 913.3v22.3M353.2 899.4v25.1M354.6 910.5v22.3M356 903.6v19.5M356 909.1v25.1M357.4 909.1v25.1M357.4 913.3v22.3M358.8 918.9v22.3M360.2 914.7v22.3M360.2 872.9v22.3M361.6 914.7v22.3M363 892.4v22.3M363 893.8v22.3M364.4 896.6v22.3M364.4 913.3v22.3M365.8 885.5v25.1M367.1 903.6v22.3M367.1 900.8v22.3M368.5 914.7v22.3M368.5 906.4v25.1M369.9 927.3v22.3M371.3 920.3v22.3M371.3 899.4v22.3M372.7 905v25.1M374.1 902.2v22.3M374.1 917.5v22.3M375.5 896.6v22.3M375.5 900.8v22.3M376.9 911.9v25.1M376.9 905v22.3M378.3 909.1v22.3M379.7 906.4v25.1M379.7 907.8v22.3M381.1 898v22.3M381.1 914.7v22.3M382.5 906.4v22.3M383.9 914.7v19.5M383.9 899.4v22.3M385.3 898v22.3M386.6 903.6v22.3M386.6 895.2v22.3M388 907.8v25.1M389.4 920.3v22.3M389.4 902.2v22.3M390.8 902.2v22.3M390.8 921.7v22.3M392.2 917.5v22.3M392.2 909.1v25.1M393.6 928.7v22.3M395 906.4v22.3M396.4 898v22.3M396.4 902.2v22.3M397.8 907.8v22.3M397.8 911.9v25.1M399.2 913.3v22.3M400.6 900.8v22.3M400.6 913.3v25.1M402 907.8v22.3M402 898v19.5M403.4 900.8v22.3M404.8 911.9v25.1M404.8 893.8v22.3M406.2 906.4v25.1M406.2 924.5v19.5M407.6 891v22.3M407.6 881.3v22.3M408.9 879.9v22.3M410.3 889.6v22.3M410.3 930.1v25.1M411.7 914.7v25.1M413.1 928.7v22.3M413.1 892.4v22.3M414.5 902.2v22.3M414.5 895.2v22.3M415.9 911.9v25.1M417.3 920.3v19.5M417.3 917.5v22.3M418.7 902.2v22.3M418.7 893.8v22.3M420.1 925.9v22.3M421.5 893.8v22.3M421.5 907.8v22.3M422.9 906.4v22.3M424.3 909.1v22.3M424.3 886.9v19.5M425.7 898v22.3M425.7 902.2v22.3M427.1 899.4v25.1M428.4 893.8v22.3M428.4 902.2v22.3M429.8 914.7v22.3M429.8 917.5v22.3M431.2 916.1v22.3M432.6 885.5v22.3M434 923.1v22.3M434 910.5v25.1M435.4 914.7v22.3M435.4 913.3v22.3M436.8 899.4v25.1M436.8 905v25.1M438.2 896.6v25.1M439.6 916.1v22.3M439.6 909.1v22.3M441 909.1v22.3M441 907.8v22.3M442.4 917.5v22.3M443.8 899.4v22.3M443.8 905v22.3M445.2 916.1v22.3M446.6 884.1v22.3M446.6 913.3v22.3M448 916.1v22.3M448 898v25.1M449.3 903.6v22.3M450.7 888.2v22.3M450.7 909.1v22.3M452.1 910.5v19.5M452.1 911.9v22.3M453.5 885.5v22.3M454.9 907.8v25.1M454.9 913.3v22.3M456.3 917.5v22.3M457.7 910.5v25.1M457.7 898v22.3M459.1 921.7v25.1M460.5 913.3v25.1M460.5 906.4v22.3M461.9 913.3v22.3M461.9 905v22.3M463.3 895.2v22.3M463.3 896.6v22.3M464.7 902.2v22.3M466.1 902.2v22.3M466.1 911.9v19.5M467.5 893.8v25.1M467.5 892.4v22.3M468.9 898v22.3M470.2 905v22.3M470.2 900.8v22.3M471.6 892.4v22.3M473 916.1v19.5M473 898v25.1M474.4 930v19.5M474.4 914.7v19.5M475.8 916.1v22.3M477.2 913.3v22.3M477.2 885.5v22.3M478.6 902.2v22.3M480 900.8v22.3M480 896.6v25.1M481.4 906.4v22.3M481.4 921.7v22.3M482.8 902.2v22.3M484.2 906.4v22.3M484.2 914.7v22.3M485.6 892.4v22.3M487 913.3v22.3M487 917.5v22.3M488.4 903.6v22.3M488.4 898v22.3M489.8 889.6v22.3M491.1 893.8v22.3M491.1 896.6v22.3M492.5 907.8v25.1M492.5 918.9v25.1M493.9 917.5v19.5M495.3 910.5v25.1M495.3 906.4v22.3M496.7 893.8v19.5M498.1 903.6v19.5M498.1 909.1v22.3M499.5 910.5v22.3M499.5 906.4v22.3M500.9 905v22.3M500.9 902.2v22.3M502.3 903.6v22.3M503.7 899.4v22.3M503.7 905v25.1M505.1 907.8v25.1M506.5 903.6v22.3M506.5 921.7v25.1M507.9 900.8v22.3M507.9 924.5v22.3M509.3 907.8v22.3M510.7 910.5v25.1M510.7 898v22.3M512 910.5v25.1M512 910.5v22.3M513.4 900.8v25.1M514.8 916.1v22.3M514.8 896.6v25.1M516.2 913.3v22.3M516.2 906.4v25.1M517.6 909.1v22.3M519 899.4v22.3M520.4 906.4v22.3M520.4 881.3v22.3M520.4 910.5v22.3M521.8 895.2v25.1M523.2 913.3v19.5M524.6 911.9v22.3M524.6 903.6v19.5M526 889.6v22.3M526 925.9v22.3M527.4 907.8v22.3M528.8 906.4v22.3M528.8 909.1v25.1M528.8 920.3v22.3M530.2 910.5v19.5M531.6 899.4v22.3M531.6 900.8v25.1M533 913.3v19.5M534.3 885.5v22.3M534.3 923.1v22.3M535.7 914.7v22.3M537.1 895.2v22.3M537.1 902.2v22.3M538.5 874.3v22.3M538.5 898v19.5M539.9 909.1v22.3M541.3 911.9v22.3M541.3 899.4v22.3M542.7 898v22.3M544.1 910.5v22.3M544.1 896.6v19.5M545.5 891v25.1M546.9 902.2v22.3M546.9 892.4v22.3M548.3 918.9v22.3M548.3 902.2v22.3M549.7 895.2v22.3M549.7 916.1v22.3M551.1 906.4v22.3M552.5 911.9v22.3M552.5 913.3v22.3M553.9 902.2v22.3M555.2 885.5v22.3M555.2 907.8v19.5M556.6 918.9v22.3M556.6 928.7v22.3M558 911.9v22.3M559.4 910.5v22.3M559.4 914.7v25.1M560.8 914.7v22.3M562.2 891v22.3M562.2 921.7v25.1M563.6 914.7v22.3M563.6 900.8v22.3M565 931.4v19.5M566.4 903.6v22.3M566.4 909.1v25.1M567.8 917.5v22.3M567.8 916.1v22.3M569.2 916.1v22.3M569.2 907.8v19.5M570.6 896.6v22.3M572 906.4v22.3M573.4 906.4v25.1M573.4 902.2v25.1M574.8 902.2v25.1M574.8 925.9v22.3M576.1 911.9v25.1M576.1 920.3v22.3M577.5 910.5v22.3M578.9 907.8v22.3M578.9 903.6v19.5M580.3 911.9v19.5M581.7 896.6v22.3M581.7 898v22.3M583.1 913.3v22.3M584.5 910.5v22.3M584.5 891v22.3M585.9 914.7v25.1M585.9 920.3v19.5M587.3 911.9v22.3M588.7 910.5v22.3M588.7 913.3v22.3M590.1 910.5v22.3M590.1 895.2v25.1M591.5 892.4v25.1M592.9 903.6v19.5M592.9 902.2v22.3M594.3 893.8v22.3M594.3 910.5v22.3M595.6 924.5v22.3M595.6 909.1v22.3M597 892.4v22.3M598.4 907.8v22.3M598.4 909.1v25.1M599.8 909.1v22.3M601.2 923.1v25.1M601.2 905v22.3M602.6 909.1v22.3M604 911.9v22.3M604 913.3v22.3M605.4 923.1v22.3M605.4 905v22.3M606.8 907.8v25.1M608.2 909.1v25.1M608.2 905v22.3M609.6 900.8v22.3M609.6 916.1v22.3M611 903.6v19.5M612.4 914.7v22.3M612.4 910.5v22.3M613.8 910.5v22.3M613.8 889.6v22.3M615.2 898v22.3M616.5 928.7v22.3M616.5 907.8v22.3M617.9 900.8v25.1M619.3 898v22.3M619.3 910.5v19.5M620.7 924.5v19.5M620.7 909.1v19.5M622.1 900.8v22.3M622.1 892.4v22.3M623.5 917.5v22.3M624.9 905v25.1M626.3 902.2v22.3M626.3 899.4v22.3M627.7 913.3v22.3M629.1 913.3v19.5M629.1 914.7v22.3M629.1 911.9v22.3M630.5 921.7v22.3M631.9 905v25.1M631.9 921.7v25.1M633.3 886.9v25.1M633.3 906.4v22.3M634.7 889.6v22.3M636.1 914.7v22.3M636.1 918.9v22.3M637.5 889.6v22.3M638.8 899.4v22.3M638.8 906.4v22.3M640.2 892.4v22.3M641.6 914.7v22.3M641.6 896.6v22.3M643 906.4v22.3M643 899.4v22.3M644.4 917.5v22.3M645.8 914.7v22.3M645.8 905v22.3M647.2 906.4v22.3M647.2 903.6v22.3M648.6 917.5v19.5M650 909.1v25.1M650 906.4v22.3M651.4 910.5v22.3M651.4 909.1v25.1M652.8 917.5v22.3M654.2 899.4v25.1M654.2 913.3v22.3M655.6 916.1v22.3M657 909.1v22.3M657 900.8v25.1M658.4 914.7v22.3M659.7 899.4v22.3M659.7 902.2v19.5M661.1 893.8v22.3M661.1 892.4v22.3M662.5 898v22.3M662.5 906.4v22.3M663.9 902.2v22.3M663.9 916.1v22.3M665.3 907.8v22.3M666.7 906.4v22.3M666.7 898v19.5M668.1 900.8v22.3M669.5 910.5v22.3M670.9 918.9v22.3M670.9 898v22.3M672.3 899.4v22.3M672.3 899.4v22.3M673.7 911.9v25.1M673.7 902.2v22.3M675.1 911.9v22.3M676.5 909.1v22.3M676.5 895.2v22.3M677.9 909.1v22.3M677.9 921.7v19.5M679.2 911.9v22.3M680.6 906.4v22.3M680.6 895.2v25.1M682 909.1v22.3M682 898v22.3M683.4 906.4v25.1M684.8 896.6v25.1M684.8 889.6v22.3M686.2 910.5v19.5M687.6 891v22.3M689 896.6v22.3M689 903.6v19.5M689 907.8v22.3M690.4 916.1v22.3M691.8 913.3v25.1M691.8 905v25.1M693.2 909.1v22.3M693.2 917.5v22.3M694.6 910.5v22.3M696 898v22.3M696 907.8v22.3M697.4 900.8v22.3M698.8 903.6v25.1M698.8 917.5v22.3M700.1 902.2v19.5M701.5 913.3v22.3M701.5 903.6v25.1M701.5 914.7v22.3M702.9 910.5v22.3M704.3 911.9v25.1M705.7 903.6v25.1M705.7 910.5v22.3M707.1 896.6v25.1M707.1 900.8v22.3M708.5 905v22.3M709.9 905v22.3M709.9 909.1v25.1M711.3 888.2v22.3M712.7 921.7v22.3M712.7 914.7v22.3M712.7 920.3v22.3M714.1 889.6v22.3M715.5 892.4v25.1M716.9 903.6v22.3M716.9 895.2v22.3M718.3 909.1v22.3M718.3 910.5v22.3M719.7 902.2v25.1M719.7 910.5v22.3M721 906.4v22.3M722.4 923.1v22.3M722.4 918.9v19.5M723.8 914.7v22.3M725.2 916.1v22.3M725.2 903.6v25.1M726.6 910.5v22.3M728 909.1v22.3M728 903.6v22.3M729.4 906.4v25.1M730.8 891v19.5M730.8 909.1v22.3M730.8 896.6v25.1M732.2 903.6v22.3M733.6 896.6v22.3M735 900.8v22.3M735 910.5v22.3M735 893.8v25.1M736.4 921.7v22.3M737.8 917.5v19.5M737.8 909.1v22.3M739.2 900.8v22.3M740.6 914.7v22.3M740.6 914.7v19.5M742 898v22.3M743.3 900.8v19.5M743.3 916.1v22.3M744.7 910.5v19.5M746.1 923.1v22.3M746.1 914.7v22.3M747.5 893.8v25.1M747.5 905v25.1M748.9 917.5v22.3M748.9 913.3v22.3M750.3 913.3v22.3M750.3 907.8v22.3M751.7 900.8v22.3M753.1 918.9v22.3M754.5 907.8v22.3M754.5 896.6v22.3M755.9 899.4v19.5M755.9 899.4v22.3M757.3 918.9v19.5M758.7 917.5v22.3M758.7 914.7v22.3M760.1 886.9v22.3M761.5 903.6v22.3M761.5 907.8v22.3"/><path class="r" d="M93.2 927.8h4.4v4.4h-4.4z"/><path class="r" d="M94.6 894.4h4.4v4.4h-4.4z"/><path class="r" d="M96 912.5h4.4v4.4h-4.4z"/><path class="r" d="M96 909.7h4.4v4.4h-4.4z"/><path class="r" d="M97.4 923.7h4.4v4.4h-4.4z"/><path class="r" d="M97.4 902.8h4.4v4.4h-4.4z"/><path class="r" d="M98.8 915.3h4.4v4.4h-4.4z"/><path class="r" d="M98.8 913.9h4.4v4.4h-4.4z"/><path class="r" d="M100.2 911.1h4.4v4.4h-4.4z"/><path class="r" d="M101.6 911.1h4.4v4.4h-4.4z"/><path class="r" d="M101.6 922.3h4.4v4.4h-4.4z"/><path class="r" d="M103 915.3h4.4v4.4h-4.4z"/><path class="r" d="M103 905.6h4.4v4.4h-4.4z"/><path class="r" d="M104.4 920.9h4.4v4.4h-4.4z"/><path class="r" d="M105.8 939h4.4v4.4h-4.4z"/><path class="r" d="M105.8 906.9h4.4v4.4h-4.4z"/><path class="r" d="M107.2 919.5h4.4v4.4h-4.4z"/><path class="r" d="M108.6 926.5h4.4v4.4h-4.4z"/><path class="r" d="M108.6 909.7h4.4v4.4h-4.4z"/><path class="r" d="M110 908.3h4.4v4.4h-4.4z"/><path class="r" d="M110 916.7h4.4v4.4h-4.4z"/><path class="r" d="M111.4 906.9h4.4v4.4h-4.4z"/><path class="r" d="M112.8 905.6h4.4v4.4h-4.4z"/><path class="r" d="M112.8 925.1h4.4v4.4h-4.4z"/><path class="r" d="M114.1 912.5h4.4v4.4h-4.4z"/><path class="r" d="M114.1 912.5h4.4v4.4h-4.4z"/><path class="r" d="M115.5 918.1h4.4v4.4h-4.4z"/><path class="r" d="M116.9 906.9h4.4v4.4h-4.4z"/><path class="r" d="M116.9 916.7h4.4v4.4h-4.4z"/><path class="r" d="M118.3 918.1h4.4v4.4h-4.4z"/><path class="r" d="M118.3 919.5h4.4v4.4h-4.4z"/><path class="r" d="M119.7 915.3h4.4v4.4h-4.4z"/><path class="r" d="M121.1 912.5h4.4v4.4h-4.4z"/><path class="r" d="M121.1 934.8h4.4v4.4h-4.4z"/><path class="r" d="M122.5 908.3h4.4v4.4h-4.4z"/><path class="r" d="M123.9 915.3h4.4v4.4h-4.4z"/><path class="r" d="M123.9 923.7h4.4v4.4h-4.4z"/><path class="r" d="M125.3 897.2h4.4v4.4h-4.4z"/><path class="r" d="M125.3 937.6h4.4v4.4h-4.4z"/><path class="r" d="M126.7 898.6h4.4v4.4h-4.4z"/><path class="r" d="M128.1 922.3h4.4v4.4h-4.4z"/><path class="r" d="M128.1 920.9h4.4v4.4h-4.4z"/><path class="r" d="M129.5 920.9h4.4v4.4h-4.4z"/><path class="r" d="M129.5 919.5h4.4v4.4h-4.4z"/><path class="r" d="M130.9 929.2h4.4v4.4h-4.4z"/><path class="r" d="M130.9 905.6h4.4v4.4h-4.4z"/><path class="r" d="M132.3 898.6h4.4v4.4h-4.4z"/><path class="r" d="M133.7 923.7h4.4v4.4h-4.4z"/><path class="r" d="M135 894.4h4.4v4.4h-4.4z"/><path class="r" d="M135 916.7h4.4v4.4h-4.4z"/><path class="r" d="M136.4 923.7h4.4v4.4h-4.4z"/><path class="r" d="M136.4 929.2h4.4v4.4h-4.4z"/><path class="r" d="M137.8 922.3h4.4v4.4h-4.4z"/><path class="r" d="M139.2 915.3h4.4v4.4h-4.4z"/><path class="r" d="M139.2 909.7h4.4v4.4h-4.4z"/><path class="r" d="M140.6 905.6h4.4v4.4h-4.4z"/><path class="r" d="M140.6 906.9h4.4v4.4h-4.4z"/><path class="r" d="M142 919.5h4.4v4.4h-4.4z"/><path class="r" d="M143.4 912.5h4.4v4.4h-4.4z"/><path class="r" d="M143.4 905.6h4.4v4.4h-4.4z"/><path class="r" d="M144.8 912.5h4.4v4.4h-4.4z"/><path class="r" d="M146.2 915.3h4.4v4.4h-4.4z"/><path class="r" d="M146.2 911.1h4.4v4.4h-4.4z"/><path class="r" d="M147.6 909.7h4.4v4.4h-4.4z"/><path class="r" d="M147.6 912.5h4.4v4.4h-4.4z"/><path class="r" d="M149 916.7h4.4v4.4h-4.4z"/><path class="r" d="M149 918.1h4.4v4.4h-4.4z"/><path class="r" d="M150.4 919.5h4.4v4.4h-4.4z"/><path class="r" d="M151.8 909.7h4.4v4.4h-4.4z"/><path class="r" d="M153.2 913.9h4.4v4.4h-4.4z"/><path class="r" d="M153.2 913.9h4.4v4.4h-4.4z"/><path class="r" d="M153.2 920.9h4.4v4.4h-4.4z"/><path class="r" d="M154.6 925.1h4.4v4.4h-4.4z"/><path class="r" d="M155.9 932h4.4v4.4h-4.4z"/><path class="r" d="M155.9 909.7h4.4v4.4h-4.4z"/><path class="r" d="M157.3 920.9h4.4v4.4h-4.4z"/><path class="r" d="M157.3 918.1h4.4v4.4h-4.4z"/><path class="r" d="M158.7 929.2h4.4v4.4h-4.4z"/><path class="r" d="M160.1 906.9h4.4v4.4h-4.4z"/><path class="r" d="M161.5 912.5h4.4v4.4h-4.4z"/><path class="r" d="M161.5 901.4h4.4v4.4h-4.4z"/><path class="r" d="M162.9 905.6h4.4v4.4h-4.4z"/><path class="r" d="M162.9 927.8h4.4v4.4h-4.4z"/><path class="r" d="M164.3 919.5h4.4v4.4h-4.4z"/><path class="r" d="M164.3 918.1h4.4v4.4h-4.4z"/><path class="r" d="M165.7 891.6h4.4v4.4h-4.4z"/><path class="r" d="M167.1 902.8h4.4v4.4h-4.4z"/><path class="r" d="M167.1 908.3h4.4v4.4h-4.4z"/><path class="r" d="M168.5 913.9h4.4v4.4h-4.4z"/><path class="r" d="M168.5 933.4h4.4v4.4h-4.4z"/><path class="r" d="M169.9 912.5h4.4v4.4h-4.4z"/><path class="r" d="M171.3 904.2h4.4v4.4h-4.4z"/><path class="r" d="M171.3 923.7h4.4v4.4h-4.4z"/><path class="r" d="M172.7 915.3h4.4v4.4h-4.4z"/><path class="r" d="M174.1 909.7h4.4v4.4h-4.4z"/><path class="r" d="M174.1 912.5h4.4v4.4h-4.4z"/><path class="r" d="M175.5 920.9h4.4v4.4h-4.4z"/><path class="r" d="M176.8 901.4h4.4v4.4h-4.4z"/><path class="r" d="M176.8 925.1h4.4v4.4h-4.4z"/><path class="r" d="M178.2 933.4h4.4v4.4h-4.4z"/><path class="r" d="M178.2 919.5h4.4v4.4h-4.4z"/><path class="r" d="M179.6 929.2h4.4v4.4h-4.4z"/><path class="r" d="M181 912.5h4.4v4.4h-4.4z"/><path class="r" d="M181 915.3h4.4v4.4h-4.4z"/><path class="r" d="M182.4 922.3h4.4v4.4h-4.4z"/><path class="r" d="M182.4 923.7h4.4v4.4h-4.4z"/><path class="r" d="M183.8 915.3h4.4v4.4h-4.4z"/><path class="r" d="M185.2 901.4h4.4v4.4h-4.4z"/><path class="r" d="M185.2 933.4h4.4v4.4h-4.4z"/><path class="r" d="M186.6 922.3h4.4v4.4h-4.4z"/><path class="r" d="M186.6 918.1h4.4v4.4h-4.4z"/><path class="r" d="M188 919.5h4.4v4.4h-4.4z"/><path class="r" d="M189.4 916.7h4.4v4.4h-4.4z"/><path class="r" d="M190.8 919.5h4.4v4.4h-4.4z"/><path class="r" d="M190.8 927.8h4.4v4.4h-4.4z"/><path class="r" d="M192.2 894.4h4.4v4.4h-4.4z"/><path class="r" d="M192.2 923.7h4.4v4.4h-4.4z"/><path class="r" d="M193.6 927.8h4.4v4.4h-4.4z"/><path class="r" d="M193.6 915.3h4.4v4.4h-4.4z"/><path class="r" d="M195 926.5h4.4v4.4h-4.4z"/><path class="r" d="M196.3 909.7h4.4v4.4h-4.4z"/><path class="r" d="M196.3 909.7h4.4v4.4h-4.4z"/><path class="r" d="M197.7 912.5h4.4v4.4h-4.4z"/><path class="r" d="M197.7 902.8h4.4v4.4h-4.4z"/><path class="r" d="M199.1 900h4.4v4.4h-4.4z"/><path class="r" d="M200.5 902.8h4.4v4.4h-4.4z"/><path class="r" d="M200.5 913.9h4.4v4.4h-4.4z"/><path class="r" d="M201.9 926.5h4.4v4.4h-4.4z"/><path class="r" d="M203.3 920.9h4.4v4.4h-4.4z"/><path class="r" d="M203.3 912.5h4.4v4.4h-4.4z"/><path class="r" d="M204.7 912.5h4.4v4.4h-4.4z"/><path class="r" d="M206.1 915.3h4.4v4.4h-4.4z"/><path class="r" d="M206.1 925.1h4.4v4.4h-4.4z"/><path class="r" d="M207.5 911.1h4.4v4.4h-4.4z"/><path class="r" d="M207.5 922.3h4.4v4.4h-4.4z"/><path class="r" d="M208.9 915.3h4.4v4.4h-4.4z"/><path class="r" d="M208.9 906.9h4.4v4.4h-4.4z"/><path class="r" d="M210.3 906.9h4.4v4.4h-4.4z"/><path class="r" d="M210.3 933.4h4.4v4.4h-4.4z"/><path class="r" d="M213.1 909.7h4.4v4.4h-4.4z"/><path class="r" d="M213.1 905.6h4.4v4.4h-4.4z"/><path class="r" d="M214.5 912.5h4.4v4.4h-4.4z"/><path class="r" d="M214.5 922.3h4.4v4.4h-4.4z"/><path class="r" d="M215.9 905.6h4.4v4.4h-4.4z"/><path class="r" d="M217.2 911.1h4.4v4.4h-4.4z"/><path class="r" d="M217.2 911.1h4.4v4.4h-4.4z"/><path class="r" d="M218.6 925.1h4.4v4.4h-4.4z"/><path class="r" d="M218.6 922.3h4.4v4.4h-4.4z"/><path class="r" d="M220 918.1h4.4v4.4h-4.4z"/><path class="r" d="M221.4 911.1h4.4v4.4h-4.4z"/><path class="r" d="M221.4 895.8h4.4v4.4h-4.4z"/><path class="r" d="M222.8 916.7h4.4v4.4h-4.4z"/><path class="r" d="M222.8 901.4h4.4v4.4h-4.4z"/><path class="r" d="M224.2 913.9h4.4v4.4h-4.4z"/><path class="r" d="M225.6 897.2h4.4v4.4h-4.4z"/><path class="r" d="M225.6 911.1h4.4v4.4h-4.4z"/><path class="r" d="M227 926.5h4.4v4.4h-4.4z"/><path class="r" d="M227 929.2h4.4v4.4h-4.4z"/><path class="r" d="M228.4 925.1h4.4v4.4h-4.4z"/><path class="r" d="M229.8 932h4.4v4.4h-4.4z"/><path class="r" d="M229.8 911.1h4.4v4.4h-4.4z"/><path class="r" d="M231.2 915.3h4.4v4.4h-4.4z"/><path class="r" d="M232.6 919.5h4.4v4.4h-4.4z"/><path class="r" d="M232.6 916.7h4.4v4.4h-4.4z"/><path class="r" d="M234 912.5h4.4v4.4h-4.4z"/><path class="r" d="M234 913.9h4.4v4.4h-4.4z"/><path class="r" d="M235.4 906.9h4.4v4.4h-4.4z"/><path class="r" d="M235.4 916.7h4.4v4.4h-4.4z"/><path class="r" d="M236.8 911.1h4.4v4.4h-4.4z"/><path class="r" d="M238.2 926.5h4.4v4.4h-4.4z"/><path class="r" d="M238.2 904.2h4.4v4.4h-4.4z"/><path class="r" d="M239.5 916.7h4.4v4.4h-4.4z"/><path class="r" d="M240.9 922.3h4.4v4.4h-4.4z"/><path class="r" d="M240.9 912.5h4.4v4.4h-4.4z"/><path class="r" d="M242.3 911.1h4.4v4.4h-4.4z"/><path class="r" d="M242.3 912.5h4.4v4.4h-4.4z"/><path class="r" d="M243.7 909.7h4.4v4.4h-4.4z"/><path class="r" d="M245.1 915.3h4.4v4.4h-4.4z"/><path class="r" d="M246.5 911.1h4.4v4.4h-4.4z"/><path class="r" d="M246.5 919.5h4.4v4.4h-4.4z"/><path class="r" d="M247.9 902.8h4.4v4.4h-4.4z"/><path class="r" d="M247.9 926.5h4.4v4.4h-4.4z"/><path class="r" d="M249.3 919.5h4.4v4.4h-4.4z"/><path class="r" d="M249.3 920.9h4.4v4.4h-4.4z"/><path class="r" d="M250.7 916.7h4.4v4.4h-4.4z"/><path class="r" d="M250.7 918.1h4.4v4.4h-4.4z"/><path class="r" d="M252.1 912.5h4.4v4.4h-4.4z"/><path class="r" d="M253.5 902.8h4.4v4.4h-4.4z"/><path class="r" d="M253.5 912.5h4.4v4.4h-4.4z"/><path class="r" d="M254.9 918.1h4.4v4.4h-4.4z"/><path class="r" d="M256.3 923.7h4.4v4.4h-4.4z"/><path class="r" d="M256.3 906.9h4.4v4.4h-4.4z"/><path class="r" d="M257.7 898.6h4.4v4.4h-4.4z"/><path class="r" d="M257.7 906.9h4.4v4.4h-4.4z"/><path class="r" d="M259.1 922.3h4.4v4.4h-4.4z"/><path class="r" d="M259.1 933.4h4.4v4.4h-4.4z"/><path class="r" d="M260.4 915.3h4.4v4.4h-4.4z"/><path class="r" d="M261.8 902.8h4.4v4.4h-4.4z"/><path class="r" d="M263.2 929.2h4.4v4.4h-4.4z"/><path class="r" d="M263.2 913.9h4.4v4.4h-4.4z"/><path class="r" d="M264.6 926.5h4.4v4.4h-4.4z"/><path class="r" d="M264.6 918.1h4.4v4.4h-4.4z"/><path class="r" d="M266 943.2h4.4v4.4h-4.4z"/><path class="r" d="M266 901.4h4.4v4.4h-4.4z"/><path class="r" d="M267.4 888.8h4.4v4.4h-4.4z"/><path class="r" d="M268.8 922.3h4.4v4.4h-4.4z"/><path class="r" d="M270.2 932h4.4v4.4h-4.4z"/><path class="r" d="M270.2 901.4h4.4v4.4h-4.4z"/><path class="r" d="M271.6 932h4.4v4.4h-4.4z"/><path class="r" d="M273 926.5h4.4v4.4h-4.4z"/><path class="r" d="M273 916.7h4.4v4.4h-4.4z"/><path class="r" d="M274.4 919.5h4.4v4.4h-4.4z"/><path class="r" d="M274.4 912.5h4.4v4.4h-4.4z"/><path class="r" d="M275.8 912.5h4.4v4.4h-4.4z"/><path class="r" d="M275.8 905.6h4.4v4.4h-4.4z"/><path class="r" d="M277.2 902.8h4.4v4.4h-4.4z"/><path class="r" d="M277.2 936.2h4.4v4.4h-4.4z"/><path class="r" d="M278.6 923.7h4.4v4.4h-4.4z"/><path class="r" d="M279.9 922.3h4.4v4.4h-4.4z"/><path class="r" d="M279.9 927.8h4.4v4.4h-4.4z"/><path class="r" d="M281.3 925.1h4.4v4.4h-4.4z"/><path class="r" d="M282.7 905.6h4.4v4.4h-4.4z"/><path class="r" d="M282.7 925.1h4.4v4.4h-4.4z"/><path class="r" d="M284.1 915.3h4.4v4.4h-4.4z"/><path class="r" d="M285.5 923.7h4.4v4.4h-4.4z"/><path class="r" d="M285.5 927.8h4.4v4.4h-4.4z"/><path class="r" d="M286.9 922.3h4.4v4.4h-4.4z"/><path class="r" d="M286.9 911.1h4.4v4.4h-4.4z"/><path class="r" d="M288.3 920.9h4.4v4.4h-4.4z"/><path class="r" d="M289.7 927.8h4.4v4.4h-4.4z"/><path class="r" d="M289.7 915.3h4.4v4.4h-4.4z"/><path class="r" d="M291.1 908.3h4.4v4.4h-4.4z"/><path class="r" d="M291.1 905.6h4.4v4.4h-4.4z"/><path class="r" d="M292.5 927.8h4.4v4.4h-4.4z"/><path class="r" d="M292.5 913.9h4.4v4.4h-4.4z"/><path class="r" d="M293.9 923.7h4.4v4.4h-4.4z"/><path class="r" d="M295.3 902.8h4.4v4.4h-4.4z"/><path class="r" d="M296.7 905.6h4.4v4.4h-4.4z"/><path class="r" d="M296.7 925.1h4.4v4.4h-4.4z"/><path class="r" d="M298.1 905.6h4.4v4.4h-4.4z"/><path class="r" d="M298.1 906.9h4.4v4.4h-4.4z"/><path class="r" d="M299.5 930.6h4.4v4.4h-4.4z"/><path class="r" d="M299.5 900h4.4v4.4h-4.4z"/><path class="r" d="M300.9 919.5h4.4v4.4h-4.4z"/><path class="r" d="M302.2 909.7h4.4v4.4h-4.4z"/><path class="r" d="M303.6 890.2h4.4v4.4h-4.4z"/><path class="r" d="M303.6 902.8h4.4v4.4h-4.4z"/><path class="r" d="M303.6 922.3h4.4v4.4h-4.4z"/><path class="r" d="M305 915.3h4.4v4.4h-4.4z"/><path class="r" d="M306.4 908.3h4.4v4.4h-4.4z"/><path class="r" d="M307.8 908.3h4.4v4.4h-4.4z"/><path class="r" d="M307.8 920.9h4.4v4.4h-4.4z"/><path class="r" d="M309.2 909.7h4.4v4.4h-4.4z"/><path class="r" d="M310.6 919.5h4.4v4.4h-4.4z"/><path class="r" d="M310.6 918.1h4.4v4.4h-4.4z"/><path class="r" d="M310.6 901.4h4.4v4.4h-4.4z"/><path class="r" d="M312 926.5h4.4v4.4h-4.4z"/><path class="r" d="M313.4 905.6h4.4v4.4h-4.4z"/><path class="r" d="M313.4 925.1h4.4v4.4h-4.4z"/><path class="r" d="M314.8 918.1h4.4v4.4h-4.4z"/><path class="r" d="M314.8 923.7h4.4v4.4h-4.4z"/><path class="r" d="M316.2 920.9h4.4v4.4h-4.4z"/><path class="r" d="M317.6 919.5h4.4v4.4h-4.4z"/><path class="r" d="M319 901.4h4.4v4.4h-4.4z"/><path class="r" d="M319 906.9h4.4v4.4h-4.4z"/><path class="r" d="M320.4 923.7h4.4v4.4h-4.4z"/><path class="r" d="M320.4 904.2h4.4v4.4h-4.4z"/><path class="r" d="M321.8 916.7h4.4v4.4h-4.4z"/><path class="r" d="M321.8 897.2h4.4v4.4h-4.4z"/><path class="r" d="M323.1 923.7h4.4v4.4h-4.4z"/><path class="r" d="M324.5 919.5h4.4v4.4h-4.4z"/><path class="r" d="M325.9 902.8h4.4v4.4h-4.4z"/><path class="r" d="M325.9 918.1h4.4v4.4h-4.4z"/><path class="r" d="M327.3 918.1h4.4v4.4h-4.4z"/><path class="r" d="M327.3 915.3h4.4v4.4h-4.4z"/><path class="r" d="M328.7 911.1h4.4v4.4h-4.4z"/><path class="r" d="M328.7 912.5h4.4v4.4h-4.4z"/><path class="r" d="M330.1 923.7h4.4v4.4h-4.4z"/><path class="r" d="M331.5 920.9h4.4v4.4h-4.4z"/><path class="r" d="M331.5 918.1h4.4v4.4h-4.4z"/><path class="r" d="M332.9 908.3h4.4v4.4h-4.4z"/><path class="r" d="M334.3 922.3h4.4v4.4h-4.4z"/><path class="r" d="M334.3 904.2h4.4v4.4h-4.4z"/><path class="r" d="M334.3 926.5h4.4v4.4h-4.4z"/><path class="r" d="M335.7 916.7h4.4v4.4h-4.4z"/><path class="r" d="M337.1 905.6h4.4v4.4h-4.4z"/><path class="r" d="M338.5 909.7h4.4v4.4h-4.4z"/><path class="r" d="M338.5 909.7h4.4v4.4h-4.4z"/><path class="r" d="M339.9 922.3h4.4v4.4h-4.4z"/><path class="r" d="M341.3 900h4.4v4.4h-4.4z"/><path class="r" d="M341.3 925.1h4.4v4.4h-4.4z"/><path class="r" d="M342.7 904.2h4.4v4.4h-4.4z"/><path class="r" d="M342.7 915.3h4.4v4.4h-4.4z"/><path class="r" d="M344 898.6h4.4v4.4h-4.4z"/><path class="r" d="M345.4 898.6h4.4v4.4h-4.4z"/><path class="r" d="M345.4 919.5h4.4v4.4h-4.4z"/><path class="r" d="M346.8 900h4.4v4.4h-4.4z"/><path class="r" d="M348.2 940.4h4.4v4.4h-4.4z"/><path class="r" d="M348.2 888.8h4.4v4.4h-4.4z"/><path class="r" d="M348.2 927.8h4.4v4.4h-4.4z"/><path class="r" d="M349.6 926.5h4.4v4.4h-4.4z"/><path class="r" d="M351 922.3h4.4v4.4h-4.4z"/><path class="r" d="M351 909.7h4.4v4.4h-4.4z"/><path class="r" d="M352.4 919.5h4.4v4.4h-4.4z"/><path class="r" d="M353.8 911.1h4.4v4.4h-4.4z"/><path class="r" d="M353.8 919.5h4.4v4.4h-4.4z"/><path class="r" d="M355.2 919.5h4.4v4.4h-4.4z"/><path class="r" d="M355.2 922.3h4.4v4.4h-4.4z"/><path class="r" d="M356.6 927.8h4.4v4.4h-4.4z"/><path class="r" d="M358 923.7h4.4v4.4h-4.4z"/><path class="r" d="M358 881.9h4.4v4.4h-4.4z"/><path class="r" d="M359.4 923.7h4.4v4.4h-4.4z"/><path class="r" d="M360.8 901.4h4.4v4.4h-4.4z"/><path class="r" d="M360.8 902.8h4.4v4.4h-4.4z"/><path class="r" d="M362.2 905.6h4.4v4.4h-4.4z"/><path class="r" d="M362.2 922.3h4.4v4.4h-4.4z"/><path class="r" d="M363.6 895.8h4.4v4.4h-4.4z"/><path class="r" d="M364.9 912.5h4.4v4.4h-4.4z"/><path class="r" d="M364.9 909.7h4.4v4.4h-4.4z"/><path class="r" d="M366.3 923.7h4.4v4.4h-4.4z"/><path class="r" d="M366.3 916.7h4.4v4.4h-4.4z"/><path class="r" d="M367.7 936.2h4.4v4.4h-4.4z"/><path class="r" d="M369.1 929.2h4.4v4.4h-4.4z"/><path class="r" d="M369.1 908.3h4.4v4.4h-4.4z"/><path class="r" d="M370.5 915.3h4.4v4.4h-4.4z"/><path class="r" d="M371.9 911.1h4.4v4.4h-4.4z"/><path class="r" d="M371.9 926.5h4.4v4.4h-4.4z"/><path class="r" d="M373.3 905.6h4.4v4.4h-4.4z"/><path class="r" d="M373.3 909.7h4.4v4.4h-4.4z"/><path class="r" d="M374.7 922.3h4.4v4.4h-4.4z"/><path class="r" d="M374.7 913.9h4.4v4.4h-4.4z"/><path class="r" d="M376.1 918.1h4.4v4.4h-4.4z"/><path class="r" d="M377.5 916.7h4.4v4.4h-4.4z"/><path class="r" d="M377.5 916.7h4.4v4.4h-4.4z"/><path class="r" d="M378.9 906.9h4.4v4.4h-4.4z"/><path class="r" d="M378.9 923.7h4.4v4.4h-4.4z"/><path class="r" d="M380.3 915.3h4.4v4.4h-4.4z"/><path class="r" d="M381.7 922.3h4.4v4.4h-4.4z"/><path class="r" d="M381.7 908.3h4.4v4.4h-4.4z"/><path class="r" d="M383.1 906.9h4.4v4.4h-4.4z"/><path class="r" d="M384.4 912.5h4.4v4.4h-4.4z"/><path class="r" d="M384.4 904.2h4.4v4.4h-4.4z"/><path class="r" d="M385.8 918.1h4.4v4.4h-4.4z"/><path class="r" d="M387.2 929.2h4.4v4.4h-4.4z"/><path class="r" d="M387.2 911.1h4.4v4.4h-4.4z"/><path class="r" d="M388.6 911.1h4.4v4.4h-4.4z"/><path class="r" d="M388.6 930.6h4.4v4.4h-4.4z"/><path class="r" d="M390 926.5h4.4v4.4h-4.4z"/><path class="r" d="M390 919.5h4.4v4.4h-4.4z"/><path class="r" d="M391.4 937.6h4.4v4.4h-4.4z"/><path class="r" d="M392.8 915.3h4.4v4.4h-4.4z"/><path class="r" d="M394.2 906.9h4.4v4.4h-4.4z"/><path class="r" d="M394.2 911.1h4.4v4.4h-4.4z"/><path class="r" d="M395.6 916.7h4.4v4.4h-4.4z"/><path class="r" d="M395.6 922.3h4.4v4.4h-4.4z"/><path class="r" d="M397 922.3h4.4v4.4h-4.4z"/><path class="r" d="M398.4 909.7h4.4v4.4h-4.4z"/><path class="r" d="M398.4 923.7h4.4v4.4h-4.4z"/><path class="r" d="M399.8 916.7h4.4v4.4h-4.4z"/><path class="r" d="M399.8 905.6h4.4v4.4h-4.4z"/><path class="r" d="M401.2 909.7h4.4v4.4h-4.4z"/><path class="r" d="M402.6 922.3h4.4v4.4h-4.4z"/><path class="r" d="M402.6 902.8h4.4v4.4h-4.4z"/><path class="r" d="M404 916.7h4.4v4.4h-4.4z"/><path class="r" d="M404 932h4.4v4.4h-4.4z"/><path class="r" d="M405.4 900h4.4v4.4h-4.4z"/><path class="r" d="M405.4 890.2h4.4v4.4h-4.4z"/><path class="r" d="M406.7 888.8h4.4v4.4h-4.4z"/><path class="r" d="M408.1 898.6h4.4v4.4h-4.4z"/><path class="r" d="M408.1 940.4h4.4v4.4h-4.4z"/><path class="r" d="M409.5 925.1h4.4v4.4h-4.4z"/><path class="r" d="M410.9 937.6h4.4v4.4h-4.4z"/><path class="r" d="M410.9 901.4h4.4v4.4h-4.4z"/><path class="r" d="M412.3 911.1h4.4v4.4h-4.4z"/><path class="r" d="M412.3 904.2h4.4v4.4h-4.4z"/><path class="r" d="M413.7 922.3h4.4v4.4h-4.4z"/><path class="r" d="M415.1 927.8h4.4v4.4h-4.4z"/><path class="r" d="M415.1 926.5h4.4v4.4h-4.4z"/><path class="r" d="M416.5 911.1h4.4v4.4h-4.4z"/><path class="r" d="M416.5 902.8h4.4v4.4h-4.4z"/><path class="r" d="M417.9 934.8h4.4v4.4h-4.4z"/><path class="r" d="M419.3 902.8h4.4v4.4h-4.4z"/><path class="r" d="M419.3 916.7h4.4v4.4h-4.4z"/><path class="r" d="M420.7 915.3h4.4v4.4h-4.4z"/><path class="r" d="M422.1 918.1h4.4v4.4h-4.4z"/><path class="r" d="M422.1 894.4h4.4v4.4h-4.4z"/><path class="r" d="M423.5 906.9h4.4v4.4h-4.4z"/><path class="r" d="M423.5 911.1h4.4v4.4h-4.4z"/><path class="r" d="M424.9 909.7h4.4v4.4h-4.4z"/><path class="r" d="M426.2 902.8h4.4v4.4h-4.4z"/><path class="r" d="M426.2 911.1h4.4v4.4h-4.4z"/><path class="r" d="M427.6 923.7h4.4v4.4h-4.4z"/><path class="r" d="M427.6 926.5h4.4v4.4h-4.4z"/><path class="r" d="M429 925.1h4.4v4.4h-4.4z"/><path class="r" d="M430.4 894.4h4.4v4.4h-4.4z"/><path class="r" d="M431.8 932h4.4v4.4h-4.4z"/><path class="r" d="M431.8 920.9h4.4v4.4h-4.4z"/><path class="r" d="M433.2 923.7h4.4v4.4h-4.4z"/><path class="r" d="M433.2 922.3h4.4v4.4h-4.4z"/><path class="r" d="M434.6 909.7h4.4v4.4h-4.4z"/><path class="r" d="M434.6 915.3h4.4v4.4h-4.4z"/><path class="r" d="M436 906.9h4.4v4.4h-4.4z"/><path class="r" d="M437.4 925.1h4.4v4.4h-4.4z"/><path class="r" d="M437.4 918.1h4.4v4.4h-4.4z"/><path class="r" d="M438.8 918.1h4.4v4.4h-4.4z"/><path class="r" d="M438.8 916.7h4.4v4.4h-4.4z"/><path class="r" d="M440.2 926.5h4.4v4.4h-4.4z"/><path class="r" d="M441.6 908.3h4.4v4.4h-4.4z"/><path class="r" d="M441.6 913.9h4.4v4.4h-4.4z"/><path class="r" d="M443 925.1h4.4v4.4h-4.4z"/><path class="r" d="M444.4 893h4.4v4.4h-4.4z"/><path class="r" d="M444.4 922.3h4.4v4.4h-4.4z"/><path class="r" d="M445.8 925.1h4.4v4.4h-4.4z"/><path class="r" d="M445.8 908.3h4.4v4.4h-4.4z"/><path class="r" d="M447.1 912.5h4.4v4.4h-4.4z"/><path class="r" d="M448.5 897.2h4.4v4.4h-4.4z"/><path class="r" d="M448.5 918.1h4.4v4.4h-4.4z"/><path class="r" d="M449.9 918.1h4.4v4.4h-4.4z"/><path class="r" d="M449.9 920.9h4.4v4.4h-4.4z"/><path class="r" d="M451.3 894.4h4.4v4.4h-4.4z"/><path class="r" d="M452.7 918.1h4.4v4.4h-4.4z"/><path class="r" d="M452.7 922.3h4.4v4.4h-4.4z"/><path class="r" d="M454.1 926.5h4.4v4.4h-4.4z"/><path class="r" d="M455.5 920.9h4.4v4.4h-4.4z"/><path class="r" d="M455.5 906.9h4.4v4.4h-4.4z"/><path class="r" d="M456.9 932h4.4v4.4h-4.4z"/><path class="r" d="M458.3 923.7h4.4v4.4h-4.4z"/><path class="r" d="M458.3 915.3h4.4v4.4h-4.4z"/><path class="r" d="M459.7 922.3h4.4v4.4h-4.4z"/><path class="r" d="M459.7 913.9h4.4v4.4h-4.4z"/><path class="r" d="M461.1 904.2h4.4v4.4h-4.4z"/><path class="r" d="M461.1 905.6h4.4v4.4h-4.4z"/><path class="r" d="M462.5 911.1h4.4v4.4h-4.4z"/><path class="r" d="M463.9 911.1h4.4v4.4h-4.4z"/><path class="r" d="M463.9 919.5h4.4v4.4h-4.4z"/><path class="r" d="M465.3 904.2h4.4v4.4h-4.4z"/><path class="r" d="M465.3 901.4h4.4v4.4h-4.4z"/><path class="r" d="M466.7 906.9h4.4v4.4h-4.4z"/><path class="r" d="M468.1 913.9h4.4v4.4h-4.4z"/><path class="r" d="M468.1 909.7h4.4v4.4h-4.4z"/><path class="r" d="M469.4 901.4h4.4v4.4h-4.4z"/><path class="r" d="M470.8 923.7h4.4v4.4h-4.4z"/><path class="r" d="M470.8 908.3h4.4v4.4h-4.4z"/><path class="r" d="M472.2 937.6h4.4v4.4h-4.4z"/><path class="r" d="M472.2 922.3h4.4v4.4h-4.4z"/><path class="r" d="M473.6 925.1h4.4v4.4h-4.4z"/><path class="r" d="M475 922.3h4.4v4.4h-4.4z"/><path class="r" d="M475 894.4h4.4v4.4h-4.4z"/><path class="r" d="M476.4 911.1h4.4v4.4h-4.4z"/><path class="r" d="M477.8 909.7h4.4v4.4h-4.4z"/><path class="r" d="M477.8 906.9h4.4v4.4h-4.4z"/><path class="r" d="M479.2 915.3h4.4v4.4h-4.4z"/><path class="r" d="M479.2 930.6h4.4v4.4h-4.4z"/><path class="r" d="M480.6 911.1h4.4v4.4h-4.4z"/><path class="r" d="M482 915.3h4.4v4.4h-4.4z"/><path class="r" d="M482 923.7h4.4v4.4h-4.4z"/><path class="r" d="M483.4 901.4h4.4v4.4h-4.4z"/><path class="r" d="M484.8 922.3h4.4v4.4h-4.4z"/><path class="r" d="M484.8 926.5h4.4v4.4h-4.4z"/><path class="r" d="M486.2 912.5h4.4v4.4h-4.4z"/><path class="r" d="M486.2 906.9h4.4v4.4h-4.4z"/><path class="r" d="M487.6 898.6h4.4v4.4h-4.4z"/><path class="r" d="M488.9 902.8h4.4v4.4h-4.4z"/><path class="r" d="M488.9 905.6h4.4v4.4h-4.4z"/><path class="r" d="M490.3 918.1h4.4v4.4h-4.4z"/><path class="r" d="M490.3 929.2h4.4v4.4h-4.4z"/><path class="r" d="M491.7 925.1h4.4v4.4h-4.4z"/><path class="r" d="M493.1 920.9h4.4v4.4h-4.4z"/><path class="r" d="M493.1 915.3h4.4v4.4h-4.4z"/><path class="r" d="M494.5 901.4h4.4v4.4h-4.4z"/><path class="r" d="M495.9 911.1h4.4v4.4h-4.4z"/><path class="r" d="M495.9 918.1h4.4v4.4h-4.4z"/><path class="r" d="M497.3 919.5h4.4v4.4h-4.4z"/><path class="r" d="M497.3 915.3h4.4v4.4h-4.4z"/><path class="r" d="M498.7 913.9h4.4v4.4h-4.4z"/><path class="r" d="M498.7 911.1h4.4v4.4h-4.4z"/><path class="r" d="M500.1 912.5h4.4v4.4h-4.4z"/><path class="r" d="M501.5 908.3h4.4v4.4h-4.4z"/><path class="r" d="M501.5 915.3h4.4v4.4h-4.4z"/><path class="r" d="M502.9 918.1h4.4v4.4h-4.4z"/><path class="r" d="M504.3 912.5h4.4v4.4h-4.4z"/><path class="r" d="M504.3 932h4.4v4.4h-4.4z"/><path class="r" d="M505.7 909.7h4.4v4.4h-4.4z"/><path class="r" d="M505.7 933.4h4.4v4.4h-4.4z"/><path class="r" d="M507.1 916.7h4.4v4.4h-4.4z"/><path class="r" d="M508.5 920.9h4.4v4.4h-4.4z"/><path class="r" d="M508.5 906.9h4.4v4.4h-4.4z"/><path class="r" d="M509.8 920.9h4.4v4.4h-4.4z"/><path class="r" d="M509.8 919.5h4.4v4.4h-4.4z"/><path class="r" d="M511.2 911.1h4.4v4.4h-4.4z"/><path class="r" d="M512.6 925.1h4.4v4.4h-4.4z"/><path class="r" d="M512.6 906.9h4.4v4.4h-4.4z"/><path class="r" d="M514 922.3h4.4v4.4h-4.4z"/><path class="r" d="M514 916.7h4.4v4.4h-4.4z"/><path class="r" d="M515.4 918.1h4.4v4.4h-4.4z"/><path class="r" d="M516.8 908.3h4.4v4.4h-4.4z"/><path class="r" d="M518.2 915.3h4.4v4.4h-4.4z"/><path class="r" d="M518.2 890.2h4.4v4.4h-4.4z"/><path class="r" d="M518.2 919.5h4.4v4.4h-4.4z"/><path class="r" d="M519.6 905.6h4.4v4.4h-4.4z"/><path class="r" d="M521 920.9h4.4v4.4h-4.4z"/><path class="r" d="M522.4 920.9h4.4v4.4h-4.4z"/><path class="r" d="M522.4 911.1h4.4v4.4h-4.4z"/><path class="r" d="M523.8 898.6h4.4v4.4h-4.4z"/><path class="r" d="M523.8 934.8h4.4v4.4h-4.4z"/><path class="r" d="M525.2 916.7h4.4v4.4h-4.4z"/><path class="r" d="M526.6 915.3h4.4v4.4h-4.4z"/><path class="r" d="M526.6 919.5h4.4v4.4h-4.4z"/><path class="r" d="M526.6 929.2h4.4v4.4h-4.4z"/><path class="r" d="M528 918.1h4.4v4.4h-4.4z"/><path class="r" d="M529.4 908.3h4.4v4.4h-4.4z"/><path class="r" d="M529.4 911.1h4.4v4.4h-4.4z"/><path class="r" d="M530.8 920.9h4.4v4.4h-4.4z"/><path class="r" d="M532.1 894.4h4.4v4.4h-4.4z"/><path class="r" d="M532.1 932h4.4v4.4h-4.4z"/><path class="r" d="M533.5 923.7h4.4v4.4h-4.4z"/><path class="r" d="M534.9 904.2h4.4v4.4h-4.4z"/><path class="r" d="M534.9 911.1h4.4v4.4h-4.4z"/><path class="r" d="M536.3 883.3h4.4v4.4h-4.4z"/><path class="r" d="M536.3 905.6h4.4v4.4h-4.4z"/><path class="r" d="M537.7 918.1h4.4v4.4h-4.4z"/><path class="r" d="M539.1 920.9h4.4v4.4h-4.4z"/><path class="r" d="M539.1 908.3h4.4v4.4h-4.4z"/><path class="r" d="M540.5 906.9h4.4v4.4h-4.4z"/><path class="r" d="M541.9 919.5h4.4v4.4h-4.4z"/><path class="r" d="M541.9 904.2h4.4v4.4h-4.4z"/><path class="r" d="M543.3 901.4h4.4v4.4h-4.4z"/><path class="r" d="M544.7 911.1h4.4v4.4h-4.4z"/><path class="r" d="M544.7 901.4h4.4v4.4h-4.4z"/><path class="r" d="M546.1 927.8h4.4v4.4h-4.4z"/><path class="r" d="M546.1 911.1h4.4v4.4h-4.4z"/><path class="r" d="M547.5 904.2h4.4v4.4h-4.4z"/><path class="r" d="M547.5 925.1h4.4v4.4h-4.4z"/><path class="r" d="M548.9 915.3h4.4v4.4h-4.4z"/><path class="r" d="M550.3 920.9h4.4v4.4h-4.4z"/><path class="r" d="M550.3 922.3h4.4v4.4h-4.4z"/><path class="r" d="M551.6 911.1h4.4v4.4h-4.4z"/><path class="r" d="M553 894.4h4.4v4.4h-4.4z"/><path class="r" d="M553 915.3h4.4v4.4h-4.4z"/><path class="r" d="M554.4 927.8h4.4v4.4h-4.4z"/><path class="r" d="M554.4 937.6h4.4v4.4h-4.4z"/><path class="r" d="M555.8 920.9h4.4v4.4h-4.4z"/><path class="r" d="M557.2 919.5h4.4v4.4h-4.4z"/><path class="r" d="M557.2 925.1h4.4v4.4h-4.4z"/><path class="r" d="M558.6 923.7h4.4v4.4h-4.4z"/><path class="r" d="M560 900h4.4v4.4h-4.4z"/><path class="r" d="M560 932h4.4v4.4h-4.4z"/><path class="r" d="M561.4 923.7h4.4v4.4h-4.4z"/><path class="r" d="M561.4 909.7h4.4v4.4h-4.4z"/><path class="r" d="M562.8 939h4.4v4.4h-4.4z"/><path class="r" d="M564.2 912.5h4.4v4.4h-4.4z"/><path class="r" d="M564.2 919.5h4.4v4.4h-4.4z"/><path class="r" d="M565.6 926.5h4.4v4.4h-4.4z"/><path class="r" d="M565.6 925.1h4.4v4.4h-4.4z"/><path class="r" d="M567 925.1h4.4v4.4h-4.4z"/><path class="r" d="M567 915.3h4.4v4.4h-4.4z"/><path class="r" d="M568.4 905.6h4.4v4.4h-4.4z"/><path class="r" d="M569.8 915.3h4.4v4.4h-4.4z"/><path class="r" d="M571.2 916.7h4.4v4.4h-4.4z"/><path class="r" d="M571.2 912.5h4.4v4.4h-4.4z"/><path class="r" d="M572.5 912.5h4.4v4.4h-4.4z"/><path class="r" d="M572.5 934.8h4.4v4.4h-4.4z"/><path class="r" d="M573.9 922.3h4.4v4.4h-4.4z"/><path class="r" d="M573.9 929.2h4.4v4.4h-4.4z"/><path class="r" d="M575.3 919.5h4.4v4.4h-4.4z"/><path class="r" d="M576.7 916.7h4.4v4.4h-4.4z"/><path class="r" d="M576.7 911.1h4.4v4.4h-4.4z"/><path class="r" d="M578.1 919.5h4.4v4.4h-4.4z"/><path class="r" d="M579.5 905.6h4.4v4.4h-4.4z"/><path class="r" d="M579.5 906.9h4.4v4.4h-4.4z"/><path class="r" d="M580.9 922.3h4.4v4.4h-4.4z"/><path class="r" d="M582.3 919.5h4.4v4.4h-4.4z"/><path class="r" d="M582.3 900h4.4v4.4h-4.4z"/><path class="r" d="M583.7 925.1h4.4v4.4h-4.4z"/><path class="r" d="M583.7 927.8h4.4v4.4h-4.4z"/><path class="r" d="M585.1 920.9h4.4v4.4h-4.4z"/><path class="r" d="M586.5 919.5h4.4v4.4h-4.4z"/><path class="r" d="M586.5 922.3h4.4v4.4h-4.4z"/><path class="r" d="M587.9 919.5h4.4v4.4h-4.4z"/><path class="r" d="M587.9 905.6h4.4v4.4h-4.4z"/><path class="r" d="M589.3 902.8h4.4v4.4h-4.4z"/><path class="r" d="M590.7 911.1h4.4v4.4h-4.4z"/><path class="r" d="M590.7 911.1h4.4v4.4h-4.4z"/><path class="r" d="M592.1 902.8h4.4v4.4h-4.4z"/><path class="r" d="M592.1 919.5h4.4v4.4h-4.4z"/><path class="r" d="M593.4 933.4h4.4v4.4h-4.4z"/><path class="r" d="M593.4 918.1h4.4v4.4h-4.4z"/><path class="r" d="M594.8 901.4h4.4v4.4h-4.4z"/><path class="r" d="M596.2 916.7h4.4v4.4h-4.4z"/><path class="r" d="M596.2 919.5h4.4v4.4h-4.4z"/><path class="r" d="M597.6 918.1h4.4v4.4h-4.4z"/><path class="r" d="M599 933.4h4.4v4.4h-4.4z"/><path class="r" d="M599 913.9h4.4v4.4h-4.4z"/><path class="r" d="M600.4 918.1h4.4v4.4h-4.4z"/><path class="r" d="M601.8 920.9h4.4v4.4h-4.4z"/><path class="r" d="M601.8 922.3h4.4v4.4h-4.4z"/><path class="r" d="M603.2 932h4.4v4.4h-4.4z"/><path class="r" d="M603.2 913.9h4.4v4.4h-4.4z"/><path class="r" d="M604.6 918.1h4.4v4.4h-4.4z"/><path class="r" d="M606 919.5h4.4v4.4h-4.4z"/><path class="r" d="M606 913.9h4.4v4.4h-4.4z"/><path class="r" d="M607.4 909.7h4.4v4.4h-4.4z"/><path class="r" d="M607.4 925.1h4.4v4.4h-4.4z"/><path class="r" d="M608.8 911.1h4.4v4.4h-4.4z"/><path class="r" d="M610.2 923.7h4.4v4.4h-4.4z"/><path class="r" d="M610.2 919.5h4.4v4.4h-4.4z"/><path class="r" d="M611.6 919.5h4.4v4.4h-4.4z"/><path class="r" d="M611.6 898.6h4.4v4.4h-4.4z"/><path class="r" d="M613 906.9h4.4v4.4h-4.4z"/><path class="r" d="M614.3 937.6h4.4v4.4h-4.4z"/><path class="r" d="M614.3 916.7h4.4v4.4h-4.4z"/><path class="r" d="M615.7 911.1h4.4v4.4h-4.4z"/><path class="r" d="M617.1 906.9h4.4v4.4h-4.4z"/><path class="r" d="M617.1 918.1h4.4v4.4h-4.4z"/><path class="r" d="M618.5 932h4.4v4.4h-4.4z"/><path class="r" d="M618.5 916.7h4.4v4.4h-4.4z"/><path class="r" d="M619.9 909.7h4.4v4.4h-4.4z"/><path class="r" d="M619.9 901.4h4.4v4.4h-4.4z"/><path class="r" d="M621.3 926.5h4.4v4.4h-4.4z"/><path class="r" d="M622.7 915.3h4.4v4.4h-4.4z"/><path class="r" d="M624.1 911.1h4.4v4.4h-4.4z"/><path class="r" d="M624.1 908.3h4.4v4.4h-4.4z"/><path class="r" d="M625.5 922.3h4.4v4.4h-4.4z"/><path class="r" d="M626.9 920.9h4.4v4.4h-4.4z"/><path class="r" d="M626.9 923.7h4.4v4.4h-4.4z"/><path class="r" d="M626.9 920.9h4.4v4.4h-4.4z"/><path class="r" d="M628.3 930.6h4.4v4.4h-4.4z"/><path class="r" d="M629.7 915.3h4.4v4.4h-4.4z"/><path class="r" d="M629.7 932h4.4v4.4h-4.4z"/><path class="r" d="M631.1 897.2h4.4v4.4h-4.4z"/><path class="r" d="M631.1 915.3h4.4v4.4h-4.4z"/><path class="r" d="M632.5 898.6h4.4v4.4h-4.4z"/><path class="r" d="M633.9 923.7h4.4v4.4h-4.4z"/><path class="r" d="M633.9 927.8h4.4v4.4h-4.4z"/><path class="r" d="M635.2 898.6h4.4v4.4h-4.4z"/><path class="r" d="M636.6 908.3h4.4v4.4h-4.4z"/><path class="r" d="M636.6 915.3h4.4v4.4h-4.4z"/><path class="r" d="M638 901.4h4.4v4.4h-4.4z"/><path class="r" d="M639.4 923.7h4.4v4.4h-4.4z"/><path class="r" d="M639.4 905.6h4.4v4.4h-4.4z"/><path class="r" d="M640.8 915.3h4.4v4.4h-4.4z"/><path class="r" d="M640.8 908.3h4.4v4.4h-4.4z"/><path class="r" d="M642.2 926.5h4.4v4.4h-4.4z"/><path class="r" d="M643.6 923.7h4.4v4.4h-4.4z"/><path class="r" d="M643.6 913.9h4.4v4.4h-4.4z"/><path class="r" d="M645 915.3h4.4v4.4h-4.4z"/><path class="r" d="M645 912.5h4.4v4.4h-4.4z"/><path class="r" d="M646.4 925.1h4.4v4.4h-4.4z"/><path class="r" d="M647.8 919.5h4.4v4.4h-4.4z"/><path class="r" d="M647.8 915.3h4.4v4.4h-4.4z"/><path class="r" d="M649.2 919.5h4.4v4.4h-4.4z"/><path class="r" d="M649.2 919.5h4.4v4.4h-4.4z"/><path class="r" d="M650.6 926.5h4.4v4.4h-4.4z"/><path class="r" d="M652 909.7h4.4v4.4h-4.4z"/><path class="r" d="M652 922.3h4.4v4.4h-4.4z"/><path class="r" d="M653.4 925.1h4.4v4.4h-4.4z"/><path class="r" d="M654.8 918.1h4.4v4.4h-4.4z"/><path class="r" d="M654.8 911.1h4.4v4.4h-4.4z"/><path class="r" d="M656.1 923.7h4.4v4.4h-4.4z"/><path class="r" d="M657.5 908.3h4.4v4.4h-4.4z"/><path class="r" d="M657.5 909.7h4.4v4.4h-4.4z"/><path class="r" d="M658.9 902.8h4.4v4.4h-4.4z"/><path class="r" d="M658.9 901.4h4.4v4.4h-4.4z"/><path class="r" d="M660.3 906.9h4.4v4.4h-4.4z"/><path class="r" d="M660.3 915.3h4.4v4.4h-4.4z"/><path class="r" d="M661.7 911.1h4.4v4.4h-4.4z"/><path class="r" d="M661.7 925.1h4.4v4.4h-4.4z"/><path class="r" d="M663.1 916.7h4.4v4.4h-4.4z"/><path class="r" d="M664.5 915.3h4.4v4.4h-4.4z"/><path class="r" d="M664.5 905.6h4.4v4.4h-4.4z"/><path class="r" d="M665.9 909.7h4.4v4.4h-4.4z"/><path class="r" d="M667.3 919.5h4.4v4.4h-4.4z"/><path class="r" d="M668.7 927.8h4.4v4.4h-4.4z"/><path class="r" d="M668.7 906.9h4.4v4.4h-4.4z"/><path class="r" d="M670.1 908.3h4.4v4.4h-4.4z"/><path class="r" d="M670.1 908.3h4.4v4.4h-4.4z"/><path class="r" d="M671.5 922.3h4.4v4.4h-4.4z"/><path class="r" d="M671.5 911.1h4.4v4.4h-4.4z"/><path class="r" d="M672.9 920.9h4.4v4.4h-4.4z"/><path class="r" d="M674.3 918.1h4.4v4.4h-4.4z"/><path class="r" d="M674.3 904.2h4.4v4.4h-4.4z"/><path class="r" d="M675.7 918.1h4.4v4.4h-4.4z"/><path class="r" d="M675.7 929.2h4.4v4.4h-4.4z"/><path class="r" d="M677 920.9h4.4v4.4h-4.4z"/><path class="r" d="M678.4 915.3h4.4v4.4h-4.4z"/><path class="r" d="M678.4 905.6h4.4v4.4h-4.4z"/><path class="r" d="M679.8 918.1h4.4v4.4h-4.4z"/><path class="r" d="M679.8 906.9h4.4v4.4h-4.4z"/><path class="r" d="M681.2 916.7h4.4v4.4h-4.4z"/><path class="r" d="M682.6 906.9h4.4v4.4h-4.4z"/><path class="r" d="M682.6 898.6h4.4v4.4h-4.4z"/><path class="r" d="M684 918.1h4.4v4.4h-4.4z"/><path class="r" d="M685.4 900h4.4v4.4h-4.4z"/><path class="r" d="M686.8 905.6h4.4v4.4h-4.4z"/><path class="r" d="M686.8 911.1h4.4v4.4h-4.4z"/><path class="r" d="M686.8 916.7h4.4v4.4h-4.4z"/><path class="r" d="M688.2 925.1h4.4v4.4h-4.4z"/><path class="r" d="M689.6 923.7h4.4v4.4h-4.4z"/><path class="r" d="M689.6 915.3h4.4v4.4h-4.4z"/><path class="r" d="M691 918.1h4.4v4.4h-4.4z"/><path class="r" d="M691 926.5h4.4v4.4h-4.4z"/><path class="r" d="M692.4 919.5h4.4v4.4h-4.4z"/><path class="r" d="M693.8 906.9h4.4v4.4h-4.4z"/><path class="r" d="M693.8 916.7h4.4v4.4h-4.4z"/><path class="r" d="M695.2 909.7h4.4v4.4h-4.4z"/><path class="r" d="M696.6 913.9h4.4v4.4h-4.4z"/><path class="r" d="M696.6 926.5h4.4v4.4h-4.4z"/><path class="r" d="M697.9 909.7h4.4v4.4h-4.4z"/><path class="r" d="M699.3 922.3h4.4v4.4h-4.4z"/><path class="r" d="M699.3 913.9h4.4v4.4h-4.4z"/><path class="r" d="M699.3 923.7h4.4v4.4h-4.4z"/><path class="r" d="M700.7 919.5h4.4v4.4h-4.4z"/><path class="r" d="M702.1 922.3h4.4v4.4h-4.4z"/><path class="r" d="M703.5 913.9h4.4v4.4h-4.4z"/><path class="r" d="M703.5 919.5h4.4v4.4h-4.4z"/><path class="r" d="M704.9 906.9h4.4v4.4h-4.4z"/><path class="r" d="M704.9 909.7h4.4v4.4h-4.4z"/><path class="r" d="M706.3 913.9h4.4v4.4h-4.4z"/><path class="r" d="M707.7 913.9h4.4v4.4h-4.4z"/><path class="r" d="M707.7 919.5h4.4v4.4h-4.4z"/><path class="r" d="M709.1 897.2h4.4v4.4h-4.4z"/><path class="r" d="M710.5 930.6h4.4v4.4h-4.4z"/><path class="r" d="M710.5 923.7h4.4v4.4h-4.4z"/><path class="r" d="M710.5 929.2h4.4v4.4h-4.4z"/><path class="r" d="M711.9 898.6h4.4v4.4h-4.4z"/><path class="r" d="M713.3 902.8h4.4v4.4h-4.4z"/><path class="r" d="M714.7 912.5h4.4v4.4h-4.4z"/><path class="r" d="M714.7 904.2h4.4v4.4h-4.4z"/><path class="r" d="M716.1 918.1h4.4v4.4h-4.4z"/><path class="r" d="M716.1 919.5h4.4v4.4h-4.4z"/><path class="r" d="M717.5 912.5h4.4v4.4h-4.4z"/><path class="r" d="M717.5 919.5h4.4v4.4h-4.4z"/><path class="r" d="M718.8 915.3h4.4v4.4h-4.4z"/><path class="r" d="M720.2 932h4.4v4.4h-4.4z"/><path class="r" d="M720.2 926.5h4.4v4.4h-4.4z"/><path class="r" d="M721.6 923.7h4.4v4.4h-4.4z"/><path class="r" d="M723 925.1h4.4v4.4h-4.4z"/><path class="r" d="M723 913.9h4.4v4.4h-4.4z"/><path class="r" d="M724.4 919.5h4.4v4.4h-4.4z"/><path class="r" d="M725.8 918.1h4.4v4.4h-4.4z"/><path class="r" d="M725.8 912.5h4.4v4.4h-4.4z"/><path class="r" d="M727.2 916.7h4.4v4.4h-4.4z"/><path class="r" d="M728.6 898.6h4.4v4.4h-4.4z"/><path class="r" d="M728.6 918.1h4.4v4.4h-4.4z"/><path class="r" d="M728.6 906.9h4.4v4.4h-4.4z"/><path class="r" d="M730 912.5h4.4v4.4h-4.4z"/><path class="r" d="M731.4 905.6h4.4v4.4h-4.4z"/><path class="r" d="M732.8 909.7h4.4v4.4h-4.4z"/><path class="r" d="M732.8 919.5h4.4v4.4h-4.4z"/><path class="r" d="M732.8 904.2h4.4v4.4h-4.4z"/><path class="r" d="M734.2 930.6h4.4v4.4h-4.4z"/><path class="r" d="M735.6 925.1h4.4v4.4h-4.4z"/><path class="r" d="M735.6 918.1h4.4v4.4h-4.4z"/><path class="r" d="M737 909.7h4.4v4.4h-4.4z"/><path class="r" d="M738.4 923.7h4.4v4.4h-4.4z"/><path class="r" d="M738.4 922.3h4.4v4.4h-4.4z"/><path class="r" d="M739.8 906.9h4.4v4.4h-4.4z"/><path class="r" d="M741.1 908.3h4.4v4.4h-4.4z"/><path class="r" d="M741.1 925.1h4.4v4.4h-4.4z"/><path class="r" d="M742.5 918.1h4.4v4.4h-4.4z"/><path class="r" d="M743.9 932h4.4v4.4h-4.4z"/><path class="r" d="M743.9 923.7h4.4v4.4h-4.4z"/><path class="r" d="M745.3 904.2h4.4v4.4h-4.4z"/><path class="r" d="M745.3 915.3h4.4v4.4h-4.4z"/><path class="r" d="M746.7 926.5h4.4v4.4h-4.4z"/><path class="r" d="M746.7 922.3h4.4v4.4h-4.4z"/><path class="r" d="M748.1 922.3h4.4v4.4h-4.4z"/><path class="r" d="M748.1 916.7h4.4v4.4h-4.4z"/><path class="r" d="M749.5 909.7h4.4v4.4h-4.4z"/><path class="r" d="M750.9 927.8h4.4v4.4h-4.4z"/><path class="r" d="M752.3 916.7h4.4v4.4h-4.4z"/><path class="r" d="M752.3 905.6h4.4v4.4h-4.4z"/><path class="r" d="M753.7 906.9h4.4v4.4h-4.4z"/><path class="r" d="M753.7 908.3h4.4v4.4h-4.4z"/><path class="r" d="M755.1 926.5h4.4v4.4h-4.4z"/><path class="r" d="M756.5 926.5h4.4v4.4h-4.4z"/><path class="r" d="M756.5 923.7h4.4v4.4h-4.4z"/><path class="r" d="M757.9 895.8h4.4v4.4h-4.4z"/><path class="r" d="M759.3 912.5h4.4v4.4h-4.4z"/><path class="r" d="M759.3 916.7h4.4v4.4h-4.4z"/></g><rect x="64.2" y="826.2" width="728.5" height="170.2" fill="none" stroke="#000" stroke-width="1.8"/><path d="M64.2 832.2h8M64.2 860.7h8M64.2 889.2h8M64.2 946.2h8M64.2 974.7h8M326 996.4v-8.6M612.8 996.4v-8.6" stroke="#000" stroke-width="1.8"/><g class="t"><text transform="translate(6.8 839.2) scale(1 1.1)">-0.06</text><text transform="translate(6.8 867.7) scale(1 1.1)">-0.04</text><text transform="translate(6.8 896.2) scale(1 1.1)">-0.02</text><text transform="translate(6.8 924.7) scale(1 1.1)">0.00</text><text transform="translate(6.8 953.2) scale(1 1.1)">0.02</text><text transform="translate(6.8 981.7) scale(1 1.1)">0.04</text><text transform="translate(327.5 1020.6) scale(1 1.1)" text-anchor="middle">0.50</text><text transform="translate(614.3 1020.6) scale(1 1.1)" text-anchor="middle">0.55</text></g><text transform="translate(85.3 818.6) scale(1 1.1)" class="t">Residuals (mag - fit)</text><text transform="translate(792.3 818.6) scale(1 1.1)" text-anchor="end" class="t" style="font-size:15.55px">S = 6.3 mmag, ro = 4.69 data/min, DQ = 2</text></svg><div id="panel"></div><div class="lb" style="top:1044.1px">JD mid:</div><div class="in" style="top:1036.0px">2459031.51683 +/- 0.00039</div><div class="lb" style="top:1090.3px">HJD mid:</div><div class="in" style="top:1082.2px">2459031.51562 +/- 0.00039</div><div class="af" style="top:1090.4px">(helcor = <b>-0.00121</b>)</div><div class="lb" style="top:1137.2px">Duration:</div><div class="in" style="top:1129.1px">123.8 +/- 1.3</div><div class="af" style="top:1137.3px">minutes</div><div class="lb" style="top:1183.2px">Depth:</div><div class="in" style="top:1175.1px">0.0274 +/- 0.0007</div><div class="af" style="top:1183.3px">mag</div><div id="lline"></div></body></html>
